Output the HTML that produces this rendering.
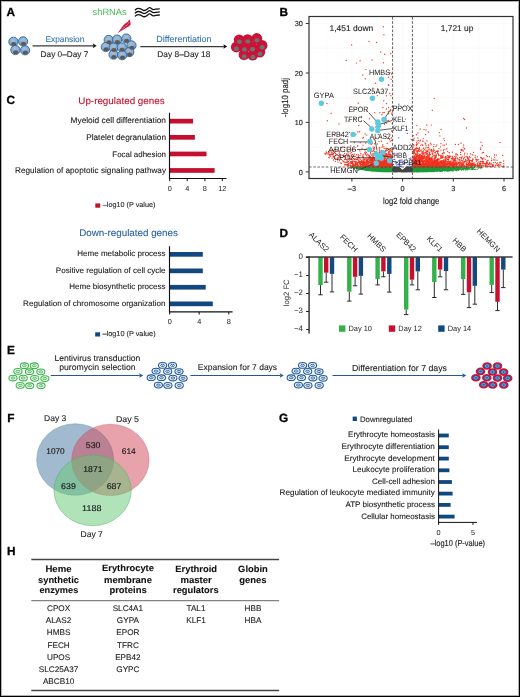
<!DOCTYPE html><html><head><meta charset="utf-8"><style>html,body{margin:0;padding:0;background:#fff;}svg text{font-family:"Liberation Sans", sans-serif;text-rendering:geometricPrecision;}</style></head><body><svg xmlns="http://www.w3.org/2000/svg" width="520" height="697" viewBox="0 0 520 697" style="display:block;will-change:transform"><defs>
<radialGradient id="gb" cx="0.45" cy="0.35" r="0.65">
<stop offset="0" stop-color="#a3c0dd"/><stop offset="1" stop-color="#7aa1c8"/></radialGradient>
</defs><rect x="0" y="0" width="520" height="697" fill="#fff"/>
<text x="6.60" y="15.60" font-size="11.8" fill="#000" stroke="#000" stroke-width="0.3" font-weight="bold">A</text>
<text x="279.60" y="15.60" font-size="11.8" fill="#000" stroke="#000" stroke-width="0.3" font-weight="bold">B</text>
<text x="6.40" y="103.60" font-size="11.8" fill="#000" stroke="#000" stroke-width="0.3" font-weight="bold">C</text>
<text x="279.40" y="237.20" font-size="11.8" fill="#000" stroke="#000" stroke-width="0.3" font-weight="bold">D</text>
<text x="6.90" y="353.90" font-size="11.8" fill="#000" stroke="#000" stroke-width="0.3" font-weight="bold">E</text>
<text x="7.20" y="421.90" font-size="11.8" fill="#000" stroke="#000" stroke-width="0.3" font-weight="bold">F</text>
<text x="279.00" y="421.70" font-size="11.8" fill="#000" stroke="#000" stroke-width="0.3" font-weight="bold">G</text>
<text x="6.90" y="555.30" font-size="11.8" fill="#000" stroke="#000" stroke-width="0.3" font-weight="bold">H</text>
<circle cx="13.4" cy="41.75" r="4.6" fill="url(#gb)" stroke="#356ba2" stroke-width="0.95"/>
<ellipse cx="13.700000000000001" cy="44.05" rx="2.6" ry="2.0" fill="#5f5a58"/>
<circle cx="23.1" cy="41.4" r="4.6" fill="url(#gb)" stroke="#356ba2" stroke-width="0.95"/>
<ellipse cx="23.400000000000002" cy="43.699999999999996" rx="2.6" ry="2.0" fill="#5f5a58"/>
<circle cx="15.4" cy="50.0" r="4.6" fill="url(#gb)" stroke="#356ba2" stroke-width="0.95"/>
<ellipse cx="15.700000000000001" cy="52.3" rx="2.6" ry="2.0" fill="#5f5a58"/>
<circle cx="25.1" cy="50.3" r="4.6" fill="url(#gb)" stroke="#356ba2" stroke-width="0.95"/>
<ellipse cx="25.400000000000002" cy="52.599999999999994" rx="2.6" ry="2.0" fill="#5f5a58"/>
<circle cx="108.7" cy="39.9" r="4.6" fill="url(#gb)" stroke="#356ba2" stroke-width="0.95"/>
<circle cx="117.1" cy="39.6" r="4.6" fill="url(#gb)" stroke="#356ba2" stroke-width="0.95"/>
<circle cx="126.3" cy="38.5" r="4.6" fill="url(#gb)" stroke="#356ba2" stroke-width="0.95"/>
<circle cx="131.5" cy="45.4" r="4.6" fill="url(#gb)" stroke="#356ba2" stroke-width="0.95"/>
<circle cx="105.8" cy="47.0" r="4.6" fill="url(#gb)" stroke="#356ba2" stroke-width="0.95"/>
<circle cx="113.7" cy="47.6" r="4.6" fill="url(#gb)" stroke="#356ba2" stroke-width="0.95"/>
<circle cx="121.8" cy="47.4" r="4.6" fill="url(#gb)" stroke="#356ba2" stroke-width="0.95"/>
<circle cx="129.3" cy="52.1" r="4.6" fill="url(#gb)" stroke="#356ba2" stroke-width="0.95"/>
<circle cx="113.5" cy="54.6" r="4.6" fill="url(#gb)" stroke="#356ba2" stroke-width="0.95"/>
<circle cx="122.2" cy="55.2" r="4.6" fill="url(#gb)" stroke="#356ba2" stroke-width="0.95"/>
<ellipse cx="109.0" cy="42.199999999999996" rx="2.6" ry="2.0" fill="#5f5a58"/>
<ellipse cx="117.39999999999999" cy="41.9" rx="2.6" ry="2.0" fill="#5f5a58"/>
<ellipse cx="126.6" cy="40.8" rx="2.6" ry="2.0" fill="#5f5a58"/>
<ellipse cx="131.8" cy="47.699999999999996" rx="2.6" ry="2.0" fill="#5f5a58"/>
<ellipse cx="106.1" cy="49.3" rx="2.6" ry="2.0" fill="#5f5a58"/>
<ellipse cx="114.0" cy="49.9" rx="2.6" ry="2.0" fill="#5f5a58"/>
<ellipse cx="122.1" cy="49.699999999999996" rx="2.6" ry="2.0" fill="#5f5a58"/>
<ellipse cx="129.60000000000002" cy="54.4" rx="2.6" ry="2.0" fill="#5f5a58"/>
<ellipse cx="113.8" cy="56.9" rx="2.6" ry="2.0" fill="#5f5a58"/>
<ellipse cx="122.5" cy="57.5" rx="2.6" ry="2.0" fill="#5f5a58"/>
<circle cx="239.2" cy="39.9" r="5.4" fill="#cc1236"/>
<circle cx="247.6" cy="39.6" r="5.4" fill="#cc1236"/>
<circle cx="256.8" cy="38.5" r="5.4" fill="#cc1236"/>
<circle cx="262.0" cy="45.4" r="5.4" fill="#cc1236"/>
<circle cx="236.3" cy="47.0" r="5.4" fill="#cc1236"/>
<circle cx="244.2" cy="47.6" r="5.4" fill="#cc1236"/>
<circle cx="252.3" cy="47.4" r="5.4" fill="#cc1236"/>
<circle cx="259.8" cy="52.1" r="5.4" fill="#cc1236"/>
<circle cx="244.0" cy="54.6" r="5.4" fill="#cc1236"/>
<circle cx="252.7" cy="55.2" r="5.4" fill="#cc1236"/>
<ellipse cx="239.4" cy="41.7" rx="2.5" ry="2.2" fill="#6b7474"/>
<ellipse cx="247.8" cy="41.4" rx="2.5" ry="2.2" fill="#6b7474"/>
<ellipse cx="257.0" cy="40.3" rx="2.5" ry="2.2" fill="#6b7474"/>
<ellipse cx="262.2" cy="47.2" rx="2.5" ry="2.2" fill="#6b7474"/>
<ellipse cx="236.5" cy="48.8" rx="2.5" ry="2.2" fill="#6b7474"/>
<ellipse cx="244.4" cy="49.4" rx="2.5" ry="2.2" fill="#6b7474"/>
<ellipse cx="252.5" cy="49.2" rx="2.5" ry="2.2" fill="#6b7474"/>
<ellipse cx="260.0" cy="53.9" rx="2.5" ry="2.2" fill="#6b7474"/>
<ellipse cx="244.2" cy="56.4" rx="2.5" ry="2.2" fill="#6b7474"/>
<ellipse cx="252.9" cy="57.0" rx="2.5" ry="2.2" fill="#6b7474"/>
<line x1="32.6" y1="45.85" x2="93.3" y2="45.85" stroke="#3a3a3a" stroke-width="1.3"/>
<path d="M96.7 45.85 L92.8 43.550000000000004 L93.39999999999999 45.85 L92.8 48.15 Z" fill="#111"/>
<line x1="140.3" y1="46.55" x2="223.9" y2="46.55" stroke="#3a3a3a" stroke-width="1.3"/>
<path d="M227.3 46.55 L223.4 44.25 L224.0 46.55 L223.4 48.849999999999994 Z" fill="#111"/>
<text x="45.40" y="41.90" font-size="8.4" fill="#3b74ad" stroke="#3b74ad" stroke-width="0.1" textLength="39.00" lengthAdjust="spacingAndGlyphs">Expansion</text>
<text x="40.60" y="56.70" font-size="8.32" fill="#222" stroke="#222" stroke-width="0.1" textLength="47.70" lengthAdjust="spacingAndGlyphs">Day 0&#8211;Day 7</text>
<text x="156.30" y="41.90" font-size="8.86" fill="#3b74ad" stroke="#3b74ad" stroke-width="0.1" textLength="55.10" lengthAdjust="spacingAndGlyphs">Differentiation</text>
<text x="157.30" y="56.90" font-size="8.42" fill="#222" stroke="#222" stroke-width="0.1" textLength="53.10" lengthAdjust="spacingAndGlyphs">Day 8&#8211;Day 18</text>
<text x="92.60" y="15.40" font-size="9.22" fill="#45b655" textLength="34.00" lengthAdjust="spacingAndGlyphs">shRNAs</text>
<path d="M134.9 10.3 C136.8 7.5 140.2 8.1 142.6 10.0 S147.2 9.0 149 7.8 S151.6 9.9 153.8 9.6 S157.6 8.7 159.8 8.8" fill="none" stroke="#111" stroke-width="1.3"/>
<path d="M134.9 13.4 C136.8 10.6 140.2 11.2 142.6 13.1 S147.2 12.1 149 10.9 S151.6 13.0 153.8 12.7 S157.6 11.8 159.8 11.9" fill="none" stroke="#111" stroke-width="1.3"/>
<path d="M134.9 16.5 C136.8 13.7 140.2 14.3 142.6 16.2 S147.2 15.2 149 14.0 S151.6 16.1 153.8 15.8 S157.6 14.9 159.8 15.0" fill="none" stroke="#111" stroke-width="1.3"/>
<path d="M117.5 33.2 L119.8 30.2 L122.3 26.8 L123.6 25.0 L125.5 23.2 L127.3 22.2 L129.5 19.5 L130.4 21.8 L130.6 24.8 L128.6 26.5 L126.7 27.6 L124.8 28.8 L121.7 30.4 Z" fill="#d11a40"/>
<path d="M122.6 29.0 L125.2 26.6 M125.6 26.0 L127.8 24.6 M127.9 23.6 L129.5 22.2" stroke="#f3a5b5" stroke-width="0.7" fill="none"/>
<line x1="326.6" y1="16.5" x2="326.6" y2="178.5" stroke="#f7f7f7" stroke-width="0.6"/>
<line x1="351.9" y1="16.5" x2="351.9" y2="178.5" stroke="#f7f7f7" stroke-width="0.6"/>
<line x1="377.2" y1="16.5" x2="377.2" y2="178.5" stroke="#f7f7f7" stroke-width="0.6"/>
<line x1="402.6" y1="16.5" x2="402.6" y2="178.5" stroke="#f7f7f7" stroke-width="0.6"/>
<line x1="428.0" y1="16.5" x2="428.0" y2="178.5" stroke="#f7f7f7" stroke-width="0.6"/>
<line x1="453.3" y1="16.5" x2="453.3" y2="178.5" stroke="#f7f7f7" stroke-width="0.6"/>
<line x1="478.7" y1="16.5" x2="478.7" y2="178.5" stroke="#f7f7f7" stroke-width="0.6"/>
<line x1="504.0" y1="16.5" x2="504.0" y2="178.5" stroke="#f7f7f7" stroke-width="0.6"/>
<line x1="309" y1="171.9" x2="513" y2="171.9" stroke="#f7f7f7" stroke-width="0.6"/>
<line x1="309" y1="147.2" x2="513" y2="147.2" stroke="#f7f7f7" stroke-width="0.6"/>
<line x1="309" y1="122.4" x2="513" y2="122.4" stroke="#f7f7f7" stroke-width="0.6"/>
<line x1="309" y1="97.7" x2="513" y2="97.7" stroke="#f7f7f7" stroke-width="0.6"/>
<line x1="309" y1="73.0" x2="513" y2="73.0" stroke="#f7f7f7" stroke-width="0.6"/>
<line x1="309" y1="48.2" x2="513" y2="48.2" stroke="#f7f7f7" stroke-width="0.6"/>
<line x1="309" y1="23.5" x2="513" y2="23.5" stroke="#f7f7f7" stroke-width="0.6"/>
<path d="M393.4 168.0h0M411.8 169.7h0M408.7 171.1h0M407.1 171.9h0M396.5 170.9h0M404.0 170.0h0M406.7 169.5h0M399.1 171.7h0M397.2 167.4h0M401.6 171.2h0M402.1 170.4h0M407.6 168.8h0M401.2 171.8h0M398.2 168.3h0M406.4 170.0h0M401.2 171.5h0M405.5 171.8h0M410.8 169.6h0M410.3 167.1h0M410.4 169.9h0M395.4 167.5h0M408.5 168.4h0M395.5 168.0h0M396.8 170.1h0M397.0 171.6h0M405.3 168.4h0M404.4 169.0h0M403.5 171.9h0M407.2 167.0h0M400.2 169.2h0M401.7 171.6h0M401.5 170.8h0M402.0 170.2h0M407.2 170.5h0M411.2 171.9h0M400.4 170.0h0M407.1 171.3h0M410.8 171.5h0M398.5 169.5h0M403.9 171.5h0M398.8 171.1h0M395.7 170.4h0M410.4 169.2h0M401.3 169.9h0M397.4 169.9h0M399.8 169.0h0M400.5 171.8h0M408.7 169.7h0M395.4 170.6h0M394.5 167.9h0M400.3 169.9h0M409.7 169.5h0M396.0 167.1h0M407.2 170.3h0M393.5 168.4h0M409.2 170.3h0M392.9 168.3h0M404.7 170.7h0M412.5 170.2h0M406.5 170.9h0M404.8 170.5h0M410.6 170.5h0M408.2 168.9h0M403.3 170.9h0M406.1 168.8h0M397.5 170.5h0M403.6 170.3h0M399.3 168.8h0M394.0 167.2h0M397.2 167.2h0M397.6 167.9h0M407.3 170.3h0M404.4 169.5h0M394.6 169.3h0M409.5 171.5h0M410.6 171.6h0M401.2 169.9h0M401.1 171.5h0M408.3 171.4h0M410.9 169.4h0M398.0 168.5h0M394.0 170.3h0M409.3 171.0h0M405.0 170.7h0M403.0 171.5h0M411.1 170.9h0M403.5 170.5h0M408.5 168.1h0M399.8 168.4h0M394.7 167.0h0M398.3 171.6h0M395.1 168.9h0M398.2 167.4h0M409.8 170.5h0M411.2 169.0h0M400.7 171.0h0M411.4 170.5h0M397.7 171.5h0M395.3 167.3h0M405.3 169.2h0M402.0 170.7h0M405.7 168.4h0M404.1 171.2h0M395.8 167.5h0M406.6 171.0h0M408.4 170.0h0M409.1 170.8h0M395.5 171.9h0M395.6 170.0h0M396.6 170.6h0M399.7 169.7h0M411.7 168.5h0M399.9 169.6h0M407.2 167.4h0M404.6 171.0h0M394.4 168.3h0M395.0 169.4h0M409.4 170.7h0M411.2 171.4h0M398.0 167.5h0M403.9 171.5h0M406.7 168.6h0M409.4 167.7h0M400.2 170.5h0M404.9 169.2h0M411.2 169.3h0M401.7 171.8h0M396.5 170.5h0M404.5 170.5h0M392.8 168.3h0M394.2 171.5h0M393.4 168.2h0M395.6 169.4h0M394.4 167.4h0M397.3 168.0h0M400.1 168.6h0M403.3 170.0h0M394.7 167.6h0M407.0 171.1h0M412.1 167.2h0M401.9 170.5h0M407.0 167.6h0M398.7 168.9h0M405.0 169.7h0M405.9 168.6h0M393.7 167.0h0M406.7 169.8h0M393.6 169.5h0M395.4 170.4h0M406.6 170.5h0M405.4 171.4h0M394.5 168.1h0M411.9 171.7h0M397.6 169.2h0M396.4 170.6h0M407.3 167.4h0M396.7 167.0h0M409.0 167.4h0M408.4 169.6h0M394.5 168.1h0M407.4 170.9h0M407.2 170.2h0M405.0 170.5h0M395.6 171.3h0M404.1 171.4h0M404.7 171.0h0M403.5 171.0h0M403.4 170.0h0M405.5 171.7h0M409.4 167.6h0M404.6 171.5h0M400.4 169.0h0M411.4 170.2h0M411.9 170.3h0M405.5 170.0h0M405.8 170.5h0M397.7 167.3h0M396.0 171.8h0M394.0 171.4h0M408.7 167.7h0M411.5 169.9h0M408.6 168.1h0M394.1 171.9h0M400.5 169.1h0M411.5 168.4h0M393.3 167.4h0M394.1 170.7h0M410.2 168.2h0M407.1 167.6h0M406.4 169.1h0M404.3 171.1h0M409.4 170.4h0M394.9 167.3h0M397.7 170.3h0M401.5 171.3h0M409.6 169.7h0M397.2 170.5h0M405.2 171.5h0M410.8 167.0h0M406.7 171.3h0M406.3 171.3h0M399.3 171.0h0M405.9 169.4h0M398.6 171.1h0M393.7 168.5h0M411.4 167.9h0M411.4 170.9h0M396.1 169.7h0M396.8 167.3h0M411.4 167.9h0M401.8 169.8h0M406.9 167.1h0M399.9 170.0h0M393.6 171.3h0M396.4 171.7h0M411.5 167.6h0M399.4 167.8h0M394.0 168.7h0M393.8 167.6h0M405.1 169.1h0M405.6 170.7h0M394.8 168.1h0M402.4 171.3h0M410.0 171.0h0M393.4 170.4h0M398.4 168.7h0M400.8 171.1h0M403.9 169.3h0M405.2 169.4h0M398.3 171.7h0M404.2 171.6h0M400.4 168.5h0M408.5 169.2h0M403.0 170.4h0M409.8 167.4h0M402.3 171.4h0M411.9 169.4h0M396.7 171.2h0M399.2 170.5h0M398.9 169.9h0M409.8 167.4h0M400.4 171.5h0M403.2 170.9h0M407.6 169.4h0M405.0 171.4h0M399.2 167.5h0M399.3 168.1h0M399.3 170.3h0M396.9 167.5h0M402.6 170.4h0M402.2 170.7h0M405.5 169.9h0M411.6 170.3h0M395.4 169.6h0M403.1 170.7h0M411.8 171.7h0M402.5 171.6h0M394.4 167.3h0M400.6 168.9h0M405.8 170.1h0M399.6 168.2h0M402.7 171.5h0M401.4 170.8h0M405.1 170.1h0M405.6 169.7h0M400.2 170.0h0M401.8 170.0h0M400.8 169.7h0M392.9 170.7h0M399.4 171.0h0M407.5 168.3h0M399.6 168.3h0M403.8 171.7h0M407.9 171.1h0M406.8 168.7h0M409.0 168.3h0M401.2 171.7h0M404.7 169.6h0M408.8 170.0h0M402.9 170.7h0M411.8 168.1h0M396.5 170.4h0M403.6 170.6h0M405.4 169.5h0M406.4 168.6h0M408.5 171.4h0M395.9 169.9h0M404.0 169.8h0M396.5 169.8h0M396.9 169.3h0M403.9 169.3h0M403.4 170.2h0M411.7 170.5h0M400.3 169.2h0M412.2 168.7h0M394.5 168.7h0M407.7 171.6h0M412.4 171.8h0M393.9 167.4h0M402.0 170.7h0M409.5 170.4h0M393.4 167.8h0M402.2 171.0h0M408.1 169.0h0M405.8 169.9h0M395.1 170.9h0M409.8 168.3h0M392.8 168.2h0M405.7 170.1h0M401.9 171.2h0M407.4 168.9h0M412.5 169.2h0M403.3 170.7h0M398.6 167.2h0M406.9 170.0h0M402.1 170.0h0M392.7 170.5h0M405.1 168.8h0M406.1 169.1h0M393.2 167.7h0M406.5 170.4h0M394.6 167.0h0M402.0 171.2h0M412.3 171.5h0M408.5 168.0h0M410.3 169.0h0M408.2 171.6h0M392.7 170.8h0M412.0 170.3h0M398.3 170.7h0M395.1 170.9h0M402.0 170.0h0M410.8 169.0h0M409.8 171.0h0M406.9 169.3h0M394.8 170.5h0M402.3 170.8h0M400.9 169.7h0M410.4 170.6h0M394.9 170.7h0M395.0 169.1h0M401.5 169.7h0M403.5 171.6h0M405.1 170.3h0M404.4 169.3h0M393.7 168.9h0M411.2 170.5h0M411.5 171.0h0M398.9 169.4h0M407.3 170.6h0M393.9 171.7h0M411.7 168.6h0M401.2 169.7h0M404.4 168.9h0M399.4 169.3h0M408.1 169.2h0M407.9 169.7h0M401.4 171.1h0M402.5 171.2h0M406.7 169.0h0M396.1 167.4h0M394.9 171.6h0M406.1 167.7h0M410.5 170.4h0M403.4 170.2h0M402.9 170.4h0M398.3 167.0h0M394.4 170.1h0M395.6 171.4h0M411.6 171.5h0M401.3 169.6h0M393.5 167.5h0M401.9 170.4h0M397.2 169.5h0M404.2 171.8h0M396.6 169.3h0M401.6 169.9h0M396.9 170.0h0M394.8 170.7h0M408.5 167.2h0M394.1 167.4h0M401.9 170.8h0M392.8 169.4h0M409.3 171.9h0M402.6 171.3h0M401.5 170.8h0M402.5 171.6h0M396.3 169.5h0M395.1 169.2h0M407.3 169.0h0M411.6 168.2h0M394.5 168.2h0M407.3 170.9h0M411.2 170.4h0M412.3 168.5h0M393.2 168.4h0M396.2 170.0h0M397.2 170.5h0M408.2 167.4h0M394.5 169.3h0M404.0 170.1h0M406.8 170.8h0M403.6 169.6h0M405.9 171.3h0M396.4 167.0h0M408.9 167.8h0M410.0 167.0h0M397.4 168.2h0M409.1 170.6h0M402.8 170.8h0M407.9 167.0h0M412.1 168.2h0M396.6 170.5h0M400.5 171.3h0M409.7 167.8h0M412.4 171.2h0M400.9 169.7h0M402.2 171.3h0M395.8 170.0h0M408.4 169.6h0M406.7 168.0h0M411.5 170.6h0M404.1 169.3h0M409.0 167.4h0M406.8 169.9h0M412.4 170.1h0M403.9 171.0h0M399.2 171.1h0M409.0 170.4h0M399.8 171.6h0M396.8 168.1h0M400.4 169.1h0M398.4 169.4h0M403.1 170.4h0M408.7 170.1h0M399.7 168.0h0M406.2 171.6h0M407.3 168.9h0M396.4 168.3h0M404.2 169.6h0M399.2 171.8h0M398.5 168.6h0M398.1 169.7h0M403.0 171.2h0M394.1 171.0h0M401.8 171.5h0M394.2 168.1h0M398.0 171.2h0M402.7 171.9h0M403.3 170.9h0M399.4 168.5h0M405.2 169.6h0M404.6 171.9h0M409.6 167.4h0M410.0 169.7h0M399.5 169.5h0M397.2 168.5h0M402.9 171.3h0M411.6 168.0h0M398.1 167.1h0M395.7 169.7h0M392.7 169.5h0M394.3 170.9h0M395.0 171.2h0M411.2 171.4h0M393.1 168.4h0M393.0 167.8h0M401.9 170.6h0M402.8 171.7h0M404.7 170.6h0M400.2 170.1h0M407.6 168.4h0M406.7 171.2h0M396.3 169.1h0M395.3 167.6h0M397.7 168.2h0M404.6 170.8h0M406.4 169.8h0M411.2 170.9h0M393.3 170.6h0M408.3 168.8h0M407.4 171.2h0M393.0 171.4h0M392.9 170.1h0M399.6 171.4h0M399.8 170.0h0M396.5 167.9h0M402.4 171.9h0M399.8 169.9h0M406.7 171.8h0M398.5 167.3h0M399.9 169.6h0M400.3 171.0h0M395.0 167.7h0M396.5 171.5h0M407.7 169.4h0M404.3 170.9h0M406.0 171.2h0M407.4 169.5h0M412.4 168.9h0M409.2 169.6h0M400.9 169.1h0M394.8 168.0h0M393.2 167.5h0M402.2 171.4h0M403.6 169.8h0M410.1 171.2h0M412.1 168.7h0M393.5 170.9h0M407.8 170.6h0M411.6 170.9h0M407.6 167.0h0M393.6 167.1h0M404.6 169.3h0M407.2 169.8h0M397.1 171.4h0M406.7 171.0h0M412.2 170.0h0M398.1 167.2h0M402.7 171.6h0M403.5 171.2h0M410.3 171.0h0M399.5 171.7h0M401.9 170.2h0M409.5 169.8h0M407.6 170.3h0M399.6 168.1h0M412.0 171.4h0M411.0 168.9h0M408.7 168.4h0M411.5 169.0h0M410.5 170.2h0M405.9 171.2h0M410.1 168.1h0M399.6 168.2h0M410.1 170.5h0M400.9 170.8h0M409.9 170.0h0M410.3 168.1h0M400.9 170.0h0M407.8 171.4h0M395.9 168.3h0M401.0 169.2h0M402.5 171.5h0M406.2 169.6h0M411.4 168.5h0M400.5 169.4h0M399.3 171.0h0M408.3 170.4h0M401.8 170.6h0M405.5 170.2h0M409.7 167.2h0M409.7 169.4h0M405.9 169.7h0M411.5 168.7h0M411.8 168.4h0M411.5 170.4h0M410.7 169.1h0M399.6 168.5h0M401.2 169.7h0M409.5 169.9h0M402.3 171.0h0M399.9 168.5h0M404.1 170.4h0M401.7 171.4h0M407.4 170.4h0M400.8 170.3h0M404.8 171.8h0M402.7 171.1h0M405.1 168.9h0M411.0 168.9h0M402.4 170.3h0M404.3 171.6h0M403.2 171.2h0M410.2 169.7h0M407.1 170.8h0M401.3 171.7h0M393.3 171.3h0M395.7 168.6h0M402.7 171.0h0M393.3 170.7h0M395.4 167.5h0M410.5 168.0h0M393.7 167.0h0M411.1 171.2h0M392.9 167.2h0M399.1 168.4h0M395.1 170.0h0M403.8 170.8h0M404.7 168.6h0M399.0 169.9h0M397.6 171.2h0M408.2 171.7h0M408.2 169.6h0M395.8 170.3h0M410.6 171.7h0M402.4 170.3h0M397.4 169.2h0M407.2 170.8h0M396.7 171.9h0M395.0 168.6h0M408.1 171.4h0M393.0 168.9h0M405.4 171.0h0M396.5 171.0h0M409.1 168.3h0M410.1 171.4h0M404.1 171.7h0M410.8 168.3h0M397.4 168.5h0M409.5 171.1h0M412.4 169.8h0M408.8 171.8h0M407.4 170.9h0M392.9 170.7h0M392.9 168.7h0M405.0 170.6h0M406.5 169.3h0M401.2 171.8h0M408.7 167.0h0M395.2 171.7h0M405.6 168.7h0M396.6 171.8h0M404.0 169.2h0M400.8 170.2h0M399.7 169.0h0M393.7 167.3h0M409.7 167.2h0M401.9 171.5h0M411.7 171.4h0M405.3 170.9h0M411.5 168.8h0M399.9 168.5h0M407.7 169.2h0M395.8 171.2h0M401.6 170.3h0M409.8 167.0h0M395.8 171.4h0M408.6 168.7h0M408.5 169.7h0M401.3 170.4h0M395.5 168.4h0M408.2 170.1h0M401.4 169.4h0M396.3 171.2h0M411.1 171.6h0M398.1 167.8h0M410.1 167.3h0M400.7 169.8h0M394.3 168.2h0M393.0 168.0h0M398.1 168.3h0M412.4 168.5h0M409.5 170.0h0M407.8 170.5h0M396.9 168.1h0M399.9 169.6h0M401.6 171.7h0M398.1 168.1h0M405.7 168.6h0M406.1 169.2h0M393.0 168.2h0M396.8 168.4h0M395.5 170.6h0M399.8 170.4h0M393.4 168.2h0M403.1 171.7h0M412.1 168.6h0M392.9 167.5h0M412.1 171.4h0M405.2 170.7h0M398.5 170.6h0M408.1 171.8h0M403.1 171.8h0M395.2 167.0h0M400.0 170.8h0M397.1 169.8h0M392.9 169.5h0M406.6 170.8h0M407.8 169.6h0M406.5 171.3h0M405.5 169.5h0M392.9 169.1h0M393.8 169.5h0M410.1 168.3h0M409.3 169.0h0M397.4 169.2h0M397.6 167.6h0M402.6 171.1h0M401.6 171.3h0M398.3 169.3h0M408.5 171.3h0M406.0 169.3h0M393.8 168.5h0M401.6 170.1h0M397.2 170.6h0M399.6 170.5h0M404.3 171.7h0M408.9 170.6h0M399.5 170.3h0M411.9 167.1h0M406.0 168.4h0M398.7 171.8h0M395.7 171.7h0M412.1 169.1h0M405.7 167.8h0M407.9 169.9h0M397.2 170.1h0M410.5 169.7h0M396.7 168.3h0M395.9 168.8h0M394.9 167.7h0M394.9 170.3h0M405.1 168.6h0M410.9 168.4h0M395.3 171.5h0M399.2 168.7h0M411.8 167.6h0M397.4 167.0h0M396.2 168.3h0M401.4 170.8h0M408.3 169.1h0M403.7 169.8h0M405.3 168.5h0M398.9 168.5h0M396.4 167.8h0M400.2 168.9h0M408.5 167.6h0M403.6 171.2h0M395.7 171.6h0M404.0 171.0h0M401.2 171.4h0M397.7 168.4h0M410.8 171.4h0M396.9 167.6h0M404.6 171.3h0M411.6 167.2h0M407.5 167.2h0M396.1 168.3h0M395.1 167.5h0M409.6 168.5h0M397.2 168.7h0M401.0 169.4h0M398.6 170.6h0M410.6 171.3h0M398.8 168.5h0M409.0 168.6h0M409.8 171.2h0M408.3 167.5h0M404.0 169.3h0M399.6 170.2h0M409.8 170.9h0M401.7 170.2h0M402.0 170.6h0M395.3 168.5h0M395.3 170.8h0M400.0 169.7h0M399.6 168.5h0M400.8 169.4h0M402.4 171.1h0M395.1 167.2h0M396.6 170.3h0M404.3 171.4h0M397.4 167.1h0M412.2 170.0h0M408.5 171.2h0M408.9 169.7h0M402.5 170.3h0M407.7 170.4h0M408.2 170.8h0M392.9 170.0h0M405.4 169.0h0M410.3 171.8h0M402.1 170.4h0M405.7 171.6h0M398.8 169.7h0M408.3 168.2h0M410.7 168.2h0M403.7 170.3h0M401.2 171.3h0M410.3 169.5h0M408.6 167.1h0M408.9 171.4h0M403.5 169.9h0M395.2 168.9h0M399.4 168.8h0M407.0 170.9h0M395.5 171.4h0M408.5 171.2h0M399.8 170.3h0M394.3 167.8h0M405.0 168.5h0M401.7 170.3h0M402.3 170.8h0M411.6 167.7h0M394.5 170.8h0M400.2 171.5h0M396.7 169.8h0M409.5 170.4h0M394.9 168.4h0M405.3 169.9h0M395.8 169.3h0M404.5 170.1h0M409.3 168.9h0M407.8 170.0h0M396.2 169.5h0M398.9 171.0h0M406.3 170.8h0M406.2 169.6h0M405.6 171.1h0M393.5 171.8h0M406.5 167.0h0M394.5 169.4h0M404.1 170.6h0M411.9 168.0h0M393.3 170.7h0M405.2 168.3h0M406.4 171.7h0M410.4 170.4h0M407.9 169.7h0M399.4 171.5h0M392.9 168.0h0M398.0 171.7h0M393.4 169.3h0M392.8 169.4h0M407.5 168.2h0M411.4 168.9h0M405.6 168.0h0M399.3 167.9h0M394.1 168.7h0M398.3 168.9h0M409.9 170.8h0M397.1 168.4h0M405.7 168.5h0M405.4 170.8h0M410.9 168.8h0M410.9 169.8h0M405.8 167.7h0M394.4 168.0h0M411.2 171.8h0M394.4 167.1h0M407.9 169.0h0M394.1 168.7h0M395.0 167.1h0M393.9 170.9h0M411.1 167.5h0M395.1 171.0h0M404.4 169.4h0M407.4 169.0h0M405.8 170.7h0M409.9 168.0h0M404.9 169.6h0M393.4 171.0h0M409.6 169.1h0M396.6 171.0h0M409.1 169.9h0M395.9 167.1h0M409.5 168.4h0M405.0 171.9h0M410.3 167.2h0M407.2 168.1h0M411.1 170.4h0M403.9 170.9h0M398.3 171.8h0M393.5 170.6h0M402.8 170.7h0M399.1 168.3h0M400.3 168.8h0M404.1 171.0h0M409.3 168.3h0M393.7 169.2h0M405.6 171.8h0M405.9 170.7h0M397.5 169.7h0M402.4 171.0h0M401.3 170.0h0M407.2 168.8h0M406.3 167.9h0M400.3 170.4h0M393.3 168.0h0M396.1 169.7h0M405.6 170.8h0M395.5 167.1h0M393.1 170.7h0M402.6 170.4h0M408.5 168.5h0M408.8 168.0h0M411.3 169.4h0M393.4 170.8h0M398.6 169.3h0M397.9 170.3h0M408.9 170.3h0M399.3 171.0h0M393.1 167.0h0M399.4 167.7h0M407.4 170.7h0M411.2 171.2h0M398.7 169.5h0M403.8 170.1h0M408.6 168.9h0M393.8 169.5h0M403.9 171.2h0M401.4 171.8h0M402.8 170.4h0M402.1 171.0h0M401.7 171.7h0M398.8 171.7h0M403.1 170.2h0M412.1 168.8h0M405.4 170.4h0M396.6 169.8h0M398.9 171.2h0M411.1 167.5h0M394.9 171.3h0M409.2 168.8h0M393.4 170.9h0M398.8 167.4h0M401.7 169.8h0M397.4 168.0h0M401.4 171.5h0M397.4 169.2h0M393.0 169.4h0M411.1 168.7h0M394.7 171.8h0M405.6 168.0h0M394.5 168.2h0M410.9 170.8h0M394.0 170.1h0M397.0 169.3h0M400.0 171.3h0M394.3 169.0h0M396.9 167.1h0M409.8 167.1h0M394.7 170.1h0M409.2 169.3h0M411.2 169.3h0M404.4 171.3h0M393.6 167.6h0M395.3 168.6h0M404.5 170.7h0M401.4 171.6h0M399.0 167.9h0M394.6 170.4h0M394.0 171.6h0M403.6 171.5h0M403.8 171.9h0M410.2 168.9h0M407.1 169.7h0M400.6 169.4h0M410.9 169.4h0M410.8 167.2h0M408.8 170.4h0M394.8 169.1h0M395.6 170.3h0M394.5 169.9h0M399.2 169.3h0M397.1 171.7h0M408.9 170.2h0M408.9 168.4h0M403.2 170.7h0M410.6 171.2h0M401.9 170.7h0M394.9 167.9h0M401.2 170.4h0M406.5 170.9h0M396.6 168.5h0M402.6 171.1h0M412.3 171.0h0M399.7 170.6h0M408.5 171.3h0M409.2 169.0h0M394.7 169.8h0M396.6 169.7h0M408.3 169.2h0M408.3 167.4h0M401.7 170.7h0M397.8 171.0h0M392.9 169.7h0M411.8 171.4h0M411.6 167.2h0M409.7 170.4h0M403.4 171.7h0M408.5 168.0h0M399.8 169.3h0M399.7 170.5h0M405.7 170.3h0M405.6 168.4h0M393.8 167.4h0M407.8 171.5h0M409.9 171.7h0M403.1 171.0h0M396.7 170.8h0M399.3 170.0h0M393.8 170.8h0M393.6 167.8h0M403.9 171.6h0M408.2 167.6h0M395.2 169.8h0M394.1 167.1h0M409.9 169.4h0M401.0 169.1h0M395.2 170.9h0M402.0 170.7h0M408.2 171.4h0M402.5 171.0h0M404.3 170.9h0M401.6 171.9h0M398.2 169.4h0M405.0 171.8h0M405.1 170.3h0M405.8 169.9h0M393.4 168.9h0M401.9 171.9h0M405.6 168.6h0M411.1 167.1h0M405.5 168.7h0M400.7 169.0h0M404.5 169.4h0M407.1 167.0h0M402.5 171.2h0M395.1 167.5h0M405.8 168.3h0M401.5 170.0h0M393.2 169.9h0M405.3 169.0h0M395.7 168.7h0M403.9 169.8h0M411.3 167.3h0M398.6 168.5h0M400.4 168.9h0M412.4 168.0h0M400.0 169.2h0M397.2 168.8h0M397.7 170.0h0M402.4 171.4h0M396.6 171.0h0M405.8 170.4h0M398.5 167.2h0M407.2 168.0h0M409.8 170.1h0M397.3 167.7h0M400.2 170.8h0M396.0 171.8h0M405.4 169.7h0M403.0 170.6h0M395.1 170.6h0M392.7 170.9h0M404.5 169.9h0M400.4 169.7h0M406.0 168.4h0M403.4 171.9h0M402.8 170.7h0M398.6 169.5h0M401.4 170.9h0M412.3 171.7h0M404.6 171.0h0M406.5 171.3h0M411.2 168.0h0M399.7 169.8h0M405.2 169.2h0M400.0 169.6h0M396.2 169.3h0M405.8 170.6h0M403.9 169.6h0M406.4 168.9h0M400.1 171.7h0M400.5 171.4h0M405.9 169.0h0M405.2 170.4h0M402.2 170.5h0M400.7 169.6h0M399.5 168.5h0M399.8 170.1h0M410.1 167.6h0M393.4 171.7h0M399.4 169.2h0M397.2 167.8h0M394.1 170.7h0M409.5 170.9h0M404.3 170.8h0M408.4 168.7h0M400.8 170.5h0M394.1 170.0h0M400.2 170.9h0M406.7 170.8h0M397.1 167.5h0M407.0 171.4h0M403.9 169.5h0M409.4 169.5h0M402.7 170.5h0M397.2 169.0h0M411.8 167.4h0M406.8 170.0h0M396.8 170.0h0M396.9 168.8h0M410.7 171.8h0M405.2 170.9h0M394.6 169.4h0M410.0 170.1h0M411.6 167.8h0M405.4 169.2h0M405.3 169.7h0M402.7 171.5h0M409.7 167.5h0M400.4 170.1h0M401.4 170.4h0M399.5 169.1h0M407.5 171.2h0M403.7 169.8h0M406.4 167.1h0M396.8 168.6h0M402.1 170.4h0M398.6 168.1h0M406.2 171.9h0M397.2 169.0h0M397.0 170.1h0M393.0 168.0h0M397.4 167.8h0M409.3 169.8h0M397.7 170.2h0M406.4 169.5h0M396.8 171.3h0M396.0 168.3h0M392.7 169.0h0M402.0 171.4h0M402.9 171.5h0M411.6 169.1h0M402.6 170.8h0M400.9 169.1h0M408.7 171.3h0M400.6 168.8h0M399.9 168.1h0M395.5 168.0h0M399.5 169.3h0M409.7 168.4h0M399.4 169.1h0M406.4 171.7h0M397.9 167.7h0M408.9 171.5h0M397.5 171.4h0M398.1 168.6h0M407.3 170.2h0M397.3 170.9h0M407.0 169.4h0M393.6 171.5h0M408.7 169.9h0M402.5 170.4h0M408.9 171.8h0M395.0 171.4h0M409.4 170.1h0M396.4 167.2h0M405.1 171.6h0M394.9 171.2h0M402.8 171.2h0M403.6 169.8h0M392.7 168.4h0M393.3 169.2h0M408.9 169.7h0M407.0 169.0h0M399.5 169.2h0M411.1 167.7h0M404.6 170.2h0M397.3 168.5h0M408.4 168.2h0M409.7 171.5h0M404.0 171.0h0M405.1 170.1h0M404.7 170.8h0M412.2 168.4h0M397.5 171.0h0M412.4 167.2h0M406.2 169.8h0M412.5 171.1h0M403.8 169.7h0M408.3 167.8h0M393.1 167.7h0M403.0 170.7h0M397.3 169.5h0M394.0 169.3h0M404.8 168.9h0M405.0 171.9h0M395.4 171.3h0M405.6 171.1h0M396.0 169.6h0M399.8 169.9h0M397.6 169.6h0M403.5 171.3h0M396.9 171.5h0M393.3 171.3h0M395.2 167.1h0M408.4 171.1h0M402.8 170.3h0M407.1 171.7h0M404.7 168.8h0M410.1 170.6h0M409.8 169.4h0M405.6 171.3h0M405.9 170.2h0M393.9 169.1h0M401.1 170.9h0M395.7 170.0h0M396.6 168.9h0M411.8 168.3h0M412.1 171.0h0M395.7 167.4h0M397.4 170.0h0M411.0 169.4h0M393.2 167.8h0M400.8 169.4h0M403.1 171.9h0M396.9 170.6h0M399.8 171.6h0M402.3 170.4h0M412.0 171.3h0M401.0 171.4h0M395.1 169.9h0M399.1 171.5h0M395.8 170.0h0M399.4 171.6h0M395.1 170.0h0M408.6 170.2h0M393.8 169.6h0M407.9 168.4h0M393.1 167.2h0M403.6 171.5h0M410.6 168.3h0M400.8 170.4h0M404.4 171.3h0M394.3 167.5h0M396.7 167.4h0M398.1 168.9h0M406.0 168.4h0M411.3 169.1h0M400.1 171.0h0M397.5 170.0h0M402.8 171.9h0M396.0 168.3h0M403.5 169.9h0M398.2 167.6h0M411.1 170.0h0M411.7 167.1h0M397.6 171.8h0M397.2 168.0h0M399.7 169.8h0M405.4 171.0h0M396.6 168.3h0M410.5 167.8h0M400.5 171.4h0M407.2 167.9h0M406.6 170.7h0M412.4 171.4h0M393.6 169.0h0M409.7 167.8h0M402.8 171.5h0M405.9 168.0h0M408.2 169.8h0M398.3 171.6h0M399.2 168.0h0M410.3 167.8h0M411.0 169.6h0M409.0 167.1h0M410.9 171.7h0M411.8 169.8h0M400.4 169.9h0M406.6 171.4h0M398.9 169.4h0M397.2 170.6h0M393.7 170.1h0M407.8 167.5h0M409.7 169.2h0M401.9 170.5h0M395.8 168.6h0M401.1 170.8h0M405.1 170.6h0M396.6 171.5h0M400.2 171.1h0M412.2 170.1h0M411.0 171.1h0M393.4 171.0h0M400.6 169.4h0M405.8 170.1h0M399.9 168.1h0M398.7 167.3h0M404.8 170.5h0M400.8 169.1h0M409.8 168.4h0M412.3 167.2h0M401.4 171.4h0M405.0 171.7h0M402.7 171.4h0M398.7 169.8h0M406.6 171.2h0M393.7 170.1h0M398.2 169.6h0M405.1 169.0h0M398.7 171.8h0M406.8 169.3h0M392.8 167.4h0M401.6 170.5h0M408.7 168.1h0M412.2 167.6h0M402.7 171.0h0M412.2 167.0h0M394.6 171.8h0M401.5 171.2h0M407.7 170.4h0M396.1 167.6h0M402.1 171.7h0M408.2 169.6h0M397.6 168.2h0M395.1 169.8h0M406.0 169.7h0M402.3 170.3h0M402.3 171.2h0M412.2 168.8h0M408.9 171.8h0M403.0 171.7h0M401.3 170.1h0M400.2 171.5h0M396.0 171.2h0M409.8 169.1h0M397.6 168.9h0M397.3 171.1h0M411.7 170.7h0M409.5 168.9h0M408.8 171.2h0M409.2 168.2h0M408.7 170.6h0M411.8 171.2h0M395.1 171.3h0M412.1 167.3h0M400.2 171.3h0M401.1 170.5h0M410.2 167.6h0M408.6 169.0h0M393.9 169.2h0M410.7 169.9h0M411.9 168.7h0M407.1 171.2h0M410.1 168.9h0M408.6 168.2h0M411.0 168.9h0M411.5 171.9h0M393.3 168.6h0M411.3 168.9h0M411.8 168.4h0M401.7 169.8h0M401.3 171.2h0M400.9 170.5h0M404.2 171.7h0M406.2 171.8h0M405.0 170.0h0M401.2 170.1h0M398.6 169.3h0M397.8 171.7h0M398.0 169.9h0M397.0 169.5h0M398.2 171.7h0M412.2 171.0h0M392.9 168.2h0M406.6 168.4h0M402.6 171.6h0M395.2 168.7h0M403.7 170.0h0M394.5 168.9h0M400.3 171.2h0M404.7 169.2h0M410.3 167.3h0M412.4 169.5h0M402.4 171.8h0M400.0 168.8h0M393.8 170.0h0M397.9 170.4h0M396.9 169.0h0M408.6 168.8h0M403.2 170.5h0M402.2 171.1h0M401.4 171.6h0M394.9 167.2h0M401.2 169.4h0M396.2 167.8h0M410.2 168.1h0M411.1 170.2h0M403.2 171.2h0M398.6 169.6h0M397.0 169.6h0M406.0 171.2h0M407.4 167.4h0M398.7 168.8h0M405.0 170.3h0M405.5 170.9h0M401.1 170.0h0M400.5 168.6h0M395.2 168.5h0M396.5 170.9h0M406.0 169.1h0M401.0 171.5h0M410.0 168.1h0M411.3 168.6h0M411.6 167.5h0M397.5 171.0h0M406.7 167.6h0M402.2 171.3h0M397.9 171.4h0M400.5 169.5h0M406.0 170.1h0M412.0 168.0h0M406.3 170.0h0M406.5 169.7h0M394.9 168.7h0M404.7 171.4h0M403.1 171.7h0M408.8 167.4h0M394.0 169.3h0M401.0 170.2h0M407.5 169.4h0M395.5 170.1h0M397.4 169.8h0M393.3 167.2h0M402.9 170.8h0M395.1 169.9h0M403.6 171.3h0M402.0 171.3h0M396.8 170.5h0M395.9 168.3h0M408.5 167.5h0M407.5 170.5h0M402.6 170.8h0M406.9 168.8h0M402.2 170.7h0M402.2 171.6h0M400.4 169.7h0M396.0 171.0h0M405.2 169.7h0M401.3 171.1h0M410.7 169.3h0M399.0 171.7h0M409.9 169.8h0M392.8 171.7h0M407.0 171.1h0M411.1 167.7h0M395.1 167.7h0M408.0 170.5h0M403.2 171.4h0M407.5 171.4h0M408.4 169.2h0M406.7 167.2h0M410.3 170.1h0M407.8 167.9h0M405.8 167.6h0M395.3 167.7h0M392.9 169.8h0M397.4 170.5h0M405.2 168.3h0M400.9 170.6h0M397.5 167.9h0M404.6 171.9h0M408.2 168.3h0M398.8 167.7h0M406.3 170.2h0M393.2 171.3h0M398.8 170.7h0M397.9 168.6h0M409.2 167.1h0M403.7 169.6h0M411.1 167.3h0M404.0 169.2h0M394.0 170.8h0M397.2 169.6h0M408.4 167.1h0M399.3 167.6h0M401.1 171.5h0M409.3 168.4h0M395.6 170.9h0M405.4 169.8h0M401.6 171.4h0M404.9 171.3h0M408.9 168.3h0M409.0 170.6h0M397.1 169.6h0M393.1 168.8h0M410.3 169.1h0M397.2 167.3h0M402.9 171.2h0M411.8 170.2h0M396.5 170.5h0M394.9 169.9h0M407.9 168.4h0M410.8 169.5h0M404.0 169.4h0M392.8 167.6h0M410.2 168.1h0M408.2 171.6h0M407.6 170.1h0M400.3 171.5h0M403.4 170.4h0M405.2 168.8h0M393.4 170.8h0M410.3 168.3h0M411.2 170.8h0M393.0 168.2h0M404.4 170.0h0M397.7 168.1h0M402.4 170.7h0M405.4 170.5h0M409.8 167.6h0M407.4 167.9h0M393.8 170.5h0M394.1 170.9h0M398.3 169.2h0M392.9 167.8h0M393.8 170.5h0M412.4 171.2h0M393.9 167.0h0M409.4 169.7h0M394.9 167.9h0M401.7 170.9h0M394.3 170.4h0M393.1 169.6h0M399.9 168.3h0M405.0 169.1h0M404.5 170.0h0M395.9 167.8h0M401.5 171.0h0M410.6 171.0h0M405.8 170.8h0M404.4 171.3h0M397.5 169.3h0M403.9 171.1h0M407.7 170.9h0M401.9 170.6h0M403.3 171.2h0M399.9 169.0h0M403.9 170.4h0M394.0 167.4h0M405.5 170.2h0M409.1 168.8h0M400.0 168.9h0M401.2 171.2h0M398.0 169.5h0M395.2 170.9h0M393.2 168.8h0M394.1 168.5h0M409.7 171.6h0M407.1 169.8h0M409.4 169.7h0M394.9 167.0h0M408.9 168.6h0M410.3 170.2h0M408.0 167.1h0M395.3 169.8h0M407.9 169.2h0M395.3 169.9h0M409.5 169.5h0M394.6 167.4h0M395.1 170.1h0M410.3 167.5h0M395.3 168.0h0M395.6 171.5h0M410.4 167.5h0M406.8 171.5h0M403.8 169.9h0M402.8 171.5h0M403.8 170.2h0M404.4 171.9h0M411.7 167.3h0M400.4 169.7h0M393.0 169.1h0M393.0 169.6h0M410.2 170.0h0M397.3 170.7h0M404.2 170.6h0M399.8 170.6h0M410.3 167.5h0M412.3 170.8h0M392.9 168.0h0M410.8 171.8h0M398.2 171.8h0M403.8 169.5h0M401.7 170.9h0M394.6 169.2h0M394.2 169.2h0M402.0 171.2h0M405.7 169.6h0M409.8 169.1h0M400.0 168.9h0M393.2 171.3h0M403.7 171.9h0M405.3 171.7h0M396.5 170.1h0M396.4 168.0h0M398.0 168.1h0M411.1 169.4h0M410.5 170.2h0M404.1 171.3h0M402.1 170.5h0M393.6 168.4h0M406.5 170.4h0M406.6 171.1h0M404.0 171.6h0" stroke="#444" stroke-width="1.1" stroke-linecap="round" fill="none"/>
<path d="M390.8 171.0h0M390.3 168.7h0M388.5 167.9h0M381.9 168.3h0M386.2 170.7h0M391.0 167.2h0M391.9 170.1h0M358.2 167.3h0M389.0 169.9h0M391.6 170.3h0M362.8 167.2h0M389.2 168.5h0M386.4 171.6h0M389.1 169.0h0M364.9 168.4h0M387.3 167.3h0M367.1 168.0h0M372.4 169.2h0M378.4 168.6h0M391.6 167.4h0M375.8 168.5h0M387.8 167.2h0M359.7 167.6h0M387.2 167.2h0M391.2 168.4h0M368.8 170.7h0M380.8 168.0h0M369.3 170.3h0M389.7 167.6h0M380.5 169.4h0M388.4 171.0h0M381.6 167.5h0M378.0 169.0h0M384.3 169.5h0M388.6 171.0h0M379.2 168.9h0M360.6 168.1h0M385.1 169.9h0M384.3 170.6h0M379.2 169.8h0M384.2 167.0h0M381.3 170.3h0M381.9 168.3h0M392.3 169.8h0M377.9 168.8h0M390.9 167.7h0M378.9 168.5h0M392.3 167.8h0M392.2 168.2h0M381.3 167.7h0M379.7 168.3h0M379.6 169.4h0M389.4 169.1h0M390.3 171.3h0M390.7 167.4h0M377.0 167.5h0M384.7 167.6h0M377.2 168.9h0M388.8 167.9h0M382.3 168.0h0M391.1 168.9h0M391.9 168.3h0M387.3 170.1h0M374.9 167.1h0M368.1 167.9h0M367.3 167.3h0M370.2 168.4h0M386.4 169.4h0M381.0 171.6h0M381.3 168.6h0M379.3 169.9h0M378.3 167.8h0M387.5 168.9h0M365.7 167.9h0M362.7 167.0h0M361.4 168.2h0M373.4 170.1h0M367.6 169.9h0M382.5 168.9h0M388.5 169.5h0M384.1 167.3h0M389.0 168.6h0M389.0 167.1h0M354.2 167.9h0M384.8 168.3h0M389.9 168.4h0M386.5 168.8h0M386.4 168.0h0M389.9 167.9h0M389.8 170.0h0M391.5 169.4h0M385.1 169.1h0M387.7 170.2h0M350.7 167.0h0M390.5 167.9h0M383.7 171.7h0M364.7 167.2h0M363.4 168.8h0M373.5 171.1h0M372.8 168.9h0M378.2 171.2h0M375.9 168.1h0M389.3 168.7h0M374.1 168.2h0M369.7 169.3h0M380.2 168.8h0M379.6 168.2h0M382.4 168.8h0M376.5 168.1h0M382.7 167.9h0M370.8 168.0h0M371.9 168.6h0M378.7 169.2h0M389.7 167.8h0M372.0 171.0h0M391.8 171.6h0M360.2 167.6h0M366.3 168.6h0M371.5 170.0h0M353.9 167.6h0M350.5 167.0h0M387.5 168.9h0M364.9 169.8h0M369.4 169.1h0M378.0 170.0h0M354.5 167.6h0M389.2 167.9h0M388.9 168.7h0M370.2 168.1h0M377.3 170.6h0M379.1 168.4h0M389.0 170.9h0M386.2 168.0h0M374.8 169.2h0M357.4 168.5h0M388.2 167.0h0M360.6 167.8h0M389.6 171.2h0M365.6 167.8h0M377.8 168.2h0M372.3 169.4h0M386.1 169.6h0M387.4 171.7h0M376.6 169.0h0M372.5 167.4h0M386.0 169.0h0M385.9 167.7h0M387.2 170.8h0M388.8 170.0h0M369.7 169.2h0M384.9 167.9h0M391.9 170.3h0M381.5 169.8h0M384.0 169.3h0M392.0 169.3h0M391.9 168.3h0M370.3 169.7h0M391.9 170.0h0M390.5 168.6h0M385.9 169.3h0M381.1 167.9h0M373.0 167.5h0M388.1 167.1h0M358.8 168.1h0M383.3 168.0h0M380.5 170.4h0M377.6 170.7h0M387.9 170.7h0M374.0 168.6h0M370.2 168.7h0M380.4 171.0h0M382.1 170.8h0M389.2 168.0h0M365.1 167.9h0M391.0 169.0h0M359.4 168.6h0M368.0 167.8h0M386.6 168.9h0M384.5 170.8h0M391.2 171.2h0M382.4 167.3h0M379.5 167.2h0M391.3 169.8h0M373.0 167.2h0M375.7 168.3h0M376.4 171.0h0M379.1 170.4h0M385.8 169.5h0M375.3 169.4h0M370.7 170.5h0M388.0 167.4h0M377.4 169.0h0M392.1 167.3h0M378.3 168.3h0M391.9 169.7h0M378.2 167.0h0M386.9 170.6h0M388.7 171.2h0M380.0 169.6h0M380.0 168.0h0M360.6 168.8h0M377.9 170.2h0M391.4 169.4h0M387.1 170.9h0M361.9 169.3h0M382.0 167.2h0M373.4 169.8h0M374.6 167.2h0M368.5 168.4h0M388.4 168.8h0M376.5 168.4h0M366.0 167.6h0M379.3 169.5h0M375.6 170.5h0M377.0 169.6h0M389.0 170.4h0M389.4 169.8h0M373.6 170.4h0M384.2 167.6h0M369.1 167.2h0M378.6 170.5h0M387.1 167.4h0M362.9 169.5h0M360.1 167.0h0M385.7 169.1h0M383.1 171.1h0M373.8 169.4h0M380.8 167.5h0M352.5 167.1h0M390.0 168.1h0M351.3 167.1h0M366.2 169.8h0M383.1 169.4h0M370.8 168.1h0M388.6 167.5h0M375.7 170.0h0M385.9 169.1h0M366.9 167.1h0M390.8 170.3h0M380.3 167.4h0M366.8 170.3h0M383.2 171.1h0M365.1 168.3h0M366.1 169.2h0M369.8 167.6h0M351.0 167.1h0M362.8 167.3h0M383.2 170.7h0M386.3 167.3h0M386.5 168.7h0M373.4 169.9h0M380.5 168.8h0M357.9 167.8h0M373.7 169.2h0M383.9 170.5h0M365.7 168.9h0M364.2 169.7h0M390.0 169.0h0M369.4 170.4h0M387.6 169.7h0M377.7 171.4h0M366.5 167.9h0M389.5 171.0h0M368.7 167.2h0M382.1 167.1h0M376.8 170.3h0M374.8 169.7h0M380.6 170.5h0M387.2 170.3h0M370.6 169.8h0M378.7 169.2h0M382.3 168.9h0M376.4 169.1h0M380.8 167.1h0M391.0 167.6h0M361.4 168.5h0M388.6 169.4h0M355.5 167.1h0M372.1 168.1h0M354.7 167.8h0M391.7 169.3h0M388.1 167.1h0M385.1 168.3h0M380.3 167.2h0M380.8 168.5h0M389.7 167.4h0M376.1 168.7h0M369.4 168.5h0M383.2 167.4h0M382.6 168.3h0M369.0 167.7h0M385.6 169.3h0M390.8 169.8h0M378.0 167.5h0M382.1 167.0h0M383.3 167.8h0M377.5 170.7h0M361.6 168.7h0M373.5 169.0h0M381.7 168.5h0M389.5 167.8h0M385.7 168.9h0M385.5 168.8h0M367.1 167.8h0M384.2 167.9h0M377.7 168.0h0M380.0 170.9h0M366.0 170.3h0M382.4 169.9h0M383.2 168.7h0M385.4 167.8h0M390.9 170.2h0M384.4 170.0h0M385.4 167.7h0M365.0 168.8h0M371.8 168.2h0M377.4 167.9h0M386.8 171.8h0M376.7 169.9h0M391.7 167.5h0M362.2 168.0h0M391.7 168.6h0M362.3 168.3h0M390.1 167.6h0M381.4 171.4h0M383.0 169.7h0M376.9 169.4h0M365.5 167.6h0M352.1 167.1h0M372.7 167.6h0M375.0 167.9h0M390.3 170.3h0M371.2 169.1h0M385.6 168.8h0M369.5 168.3h0M391.6 170.4h0M385.6 168.4h0M383.0 169.7h0M373.0 169.6h0M373.6 168.5h0M370.3 168.5h0M386.1 169.2h0M366.3 167.0h0M388.6 171.6h0M369.9 167.6h0M381.1 170.2h0M364.1 167.7h0M383.3 168.0h0M387.7 170.2h0M382.7 171.4h0M380.3 167.6h0M372.6 167.6h0M384.4 169.6h0M366.2 168.1h0M377.4 170.1h0M375.5 169.5h0M363.8 168.5h0M378.2 169.3h0M387.2 170.8h0M379.9 167.0h0M365.3 167.4h0M381.2 167.9h0M384.4 167.4h0M379.3 167.9h0M389.9 171.2h0M389.2 171.3h0M385.3 167.1h0M369.1 168.2h0M390.5 170.0h0M376.0 169.9h0M388.3 169.8h0M381.8 168.8h0M373.6 167.6h0M391.8 167.0h0M383.9 170.5h0M364.8 169.1h0M368.1 168.8h0M379.0 167.9h0M392.3 171.3h0M389.3 167.1h0M379.3 170.7h0M372.1 169.7h0M378.4 171.4h0M380.0 170.6h0M381.7 168.2h0M376.6 168.9h0M390.4 168.3h0M382.0 170.9h0M359.9 168.5h0M384.5 167.4h0M380.1 168.1h0M379.7 167.6h0M386.5 169.2h0M355.2 167.1h0M353.0 167.1h0M385.8 167.7h0M372.5 169.7h0M366.4 168.3h0M384.3 167.0h0M373.6 167.2h0M391.8 170.0h0M381.4 167.5h0M386.0 170.3h0M384.4 169.8h0M379.2 168.4h0M380.3 169.0h0M374.5 167.0h0M384.0 170.5h0M365.9 167.1h0M392.5 169.0h0M363.8 167.1h0M391.8 168.0h0M387.2 168.6h0M378.5 168.0h0M388.5 168.9h0M383.4 168.3h0M365.2 169.0h0M365.9 167.2h0M388.9 170.8h0M383.3 170.0h0M352.3 167.3h0M350.9 167.0h0M373.4 169.8h0M390.3 169.6h0M379.8 171.2h0M367.8 169.7h0M390.0 169.2h0M359.9 167.8h0M389.8 168.0h0M381.9 168.6h0M381.6 171.0h0M386.7 167.8h0M376.6 169.1h0M382.9 167.5h0M374.0 168.0h0M379.6 170.0h0M384.6 171.4h0M382.6 167.5h0M366.4 168.4h0M388.6 169.9h0M392.1 168.8h0M379.7 167.5h0M370.1 169.2h0M388.1 170.3h0M376.2 168.8h0M380.5 167.7h0M377.6 167.2h0M360.3 169.2h0M378.7 169.4h0M390.6 167.6h0M392.2 170.0h0M384.6 169.5h0M382.4 168.3h0M371.9 167.8h0M389.2 171.1h0M350.8 167.0h0M382.0 169.9h0M383.6 168.5h0M374.5 168.1h0M388.0 171.7h0M372.0 168.4h0M366.5 167.4h0M361.1 169.1h0M389.6 171.4h0M386.6 169.2h0M382.4 168.7h0M371.8 169.0h0M387.7 170.3h0M356.9 168.3h0M382.9 170.6h0M382.3 168.3h0M391.7 170.6h0M382.5 171.3h0M380.1 170.2h0M371.2 167.9h0M378.4 168.5h0M391.2 170.2h0M373.9 168.3h0M390.7 167.7h0M380.2 168.2h0M364.4 168.8h0M378.2 168.0h0M389.0 167.5h0M384.7 169.9h0M359.8 167.1h0M379.0 171.1h0M388.0 170.7h0M389.8 170.6h0M375.1 170.1h0M387.4 167.7h0M374.3 168.0h0M375.7 169.7h0M386.6 169.1h0M383.4 168.8h0M382.8 168.7h0M368.4 167.5h0M375.6 167.2h0M389.2 170.2h0M371.9 169.1h0M361.4 167.0h0M359.3 167.8h0M385.2 169.7h0M391.9 168.4h0M388.3 168.8h0M355.7 167.5h0M365.3 167.2h0M374.7 168.1h0M358.5 167.1h0M392.3 170.9h0M387.4 168.6h0M383.1 169.8h0M388.1 167.1h0M379.9 167.2h0M361.8 168.5h0M383.9 169.1h0M368.6 170.3h0M377.1 169.5h0M363.3 168.2h0M361.5 168.2h0M372.5 167.5h0M361.2 167.5h0M387.4 167.1h0M381.9 169.7h0M371.1 169.9h0M390.2 171.6h0M377.6 169.9h0M388.3 167.9h0M376.4 169.1h0M376.0 167.7h0M387.0 167.1h0M371.8 167.6h0M381.6 169.5h0M380.1 168.9h0M384.8 169.4h0M376.6 169.1h0M372.9 167.2h0M374.3 170.9h0M386.2 167.4h0M390.9 167.7h0M386.0 167.4h0M391.8 171.1h0M360.2 168.3h0M372.3 171.1h0M376.2 167.3h0M373.2 169.2h0M370.5 169.5h0M380.4 168.6h0M376.1 169.3h0M370.4 168.7h0M386.0 168.1h0M380.8 168.0h0M380.4 169.0h0M374.8 169.0h0M371.0 167.4h0M387.1 169.4h0M387.1 167.9h0M390.1 168.8h0M374.9 169.2h0M385.0 170.3h0M388.8 167.7h0M367.5 170.2h0M374.2 171.1h0M384.7 170.2h0M381.2 167.3h0M383.7 169.7h0M373.8 168.4h0M372.5 167.2h0M374.8 168.8h0M388.5 170.0h0M377.4 167.3h0M354.8 168.2h0M376.1 167.5h0M390.9 167.4h0M373.5 168.7h0M366.5 168.1h0M391.6 170.2h0M361.6 167.6h0M392.4 167.3h0M378.6 167.3h0M373.2 167.8h0M388.6 167.2h0M371.4 167.3h0M377.6 168.6h0M387.9 169.3h0M358.5 167.8h0M390.9 170.0h0M381.1 167.0h0M369.3 170.0h0M379.3 167.4h0M365.2 168.3h0M379.6 167.9h0M384.8 171.7h0M377.7 167.2h0M383.5 167.1h0M387.5 168.8h0M382.6 167.4h0M362.0 169.3h0M387.2 170.7h0M391.7 171.2h0M371.4 168.2h0M383.3 169.2h0M358.8 167.0h0M362.8 167.7h0M382.1 167.1h0M354.4 167.1h0M383.4 167.0h0M383.5 169.9h0M380.6 168.5h0M381.1 169.1h0M371.7 167.9h0M387.8 171.6h0M381.0 170.8h0M376.9 167.0h0M389.2 167.5h0M380.8 167.0h0M390.0 167.8h0M367.3 170.2h0M368.9 167.4h0M357.0 168.7h0M374.4 167.1h0M383.5 170.9h0M361.5 169.3h0M387.2 167.0h0M378.3 169.7h0M392.2 168.4h0M351.2 167.0h0M370.9 169.7h0M386.1 171.0h0M370.9 169.1h0M389.8 167.6h0M368.8 170.3h0M374.0 168.5h0M391.3 171.6h0M380.6 168.2h0M389.4 170.3h0M386.4 170.7h0M371.1 168.3h0M383.5 169.5h0M360.6 168.7h0M380.9 167.1h0M390.7 170.6h0M384.6 167.0h0M360.3 168.2h0M390.1 168.2h0M378.1 168.0h0M371.8 169.9h0M353.6 167.2h0M385.4 170.4h0M372.4 169.9h0M384.3 167.0h0M378.3 167.0h0M391.0 170.1h0M383.6 168.4h0M385.2 169.8h0M385.7 169.3h0M384.6 167.3h0M376.4 169.2h0M379.0 169.4h0M382.6 171.0h0M354.5 167.9h0M388.1 167.7h0M386.8 171.6h0M385.1 168.6h0M366.3 168.7h0M390.1 169.2h0M374.0 167.5h0M387.3 171.6h0M374.5 169.4h0M383.3 167.3h0M389.8 170.6h0M386.3 168.1h0M391.1 169.6h0M390.7 169.5h0M386.1 167.0h0M379.7 170.0h0M381.5 170.8h0M383.4 171.6h0M385.5 170.2h0M380.6 167.6h0M379.5 167.5h0M373.2 169.9h0M355.9 167.8h0M374.3 167.0h0M377.3 169.3h0M376.1 167.5h0M376.8 169.1h0M360.9 168.9h0M372.8 167.2h0M368.6 170.7h0M371.3 167.1h0M391.5 170.6h0M359.8 168.5h0M375.3 170.4h0M359.8 169.0h0M388.1 167.0h0M359.0 168.0h0M358.5 168.9h0M377.7 171.3h0M387.9 169.2h0M370.2 167.2h0M391.5 169.2h0M353.0 167.0h0M380.1 170.4h0M357.0 167.3h0M376.6 170.2h0M390.3 169.5h0M378.8 170.0h0M389.3 167.3h0M373.7 169.7h0M375.5 168.5h0M359.6 168.9h0M376.1 169.5h0M386.3 167.0h0M378.6 168.4h0M372.6 170.0h0M387.4 168.8h0M391.4 168.3h0M363.4 167.8h0M374.0 168.1h0M391.5 168.2h0M373.1 170.6h0M374.3 171.2h0M361.6 167.6h0M380.7 170.6h0M378.4 169.0h0M361.9 169.1h0M385.1 168.6h0M385.8 171.7h0M372.4 171.1h0M365.4 169.3h0M376.1 169.0h0M379.5 171.4h0M376.7 168.5h0M382.6 169.8h0M379.4 171.4h0M373.9 167.1h0M376.1 169.0h0M391.7 168.2h0M354.7 167.6h0M360.4 167.4h0M362.6 168.0h0M386.6 170.4h0M360.9 168.0h0M388.4 170.6h0M391.7 167.5h0M390.4 168.9h0M378.4 170.0h0M377.3 168.2h0M375.0 168.0h0M365.5 167.8h0M374.1 167.4h0M374.1 168.5h0M386.3 169.3h0M380.6 169.6h0M391.5 168.0h0M381.0 169.0h0M378.9 170.9h0M392.3 169.7h0M369.7 169.0h0M351.0 167.2h0M363.5 167.7h0M372.7 168.0h0M377.0 168.4h0M360.8 168.0h0M377.6 169.1h0M372.8 169.3h0M390.2 171.3h0M390.8 167.4h0M369.3 167.3h0M360.5 167.2h0M386.2 169.6h0M376.6 168.6h0M381.4 170.6h0M391.1 168.0h0M356.5 167.8h0M351.2 167.1h0M391.5 167.3h0M391.8 168.3h0M361.8 167.5h0M386.5 171.0h0M350.8 167.1h0M377.9 171.4h0M376.1 169.3h0M387.4 167.8h0M382.9 168.0h0M385.7 168.2h0M374.8 169.1h0M355.5 167.1h0M389.8 169.6h0M382.4 168.8h0M383.8 167.2h0M367.0 167.2h0M370.7 167.4h0M389.0 168.6h0M380.4 167.9h0M383.3 171.5h0M392.2 170.6h0M387.4 169.7h0M383.5 168.5h0M384.3 168.3h0M386.2 167.1h0M371.9 167.5h0M359.5 167.7h0M389.0 169.7h0M351.6 167.1h0M366.4 169.1h0M385.9 170.7h0M391.7 169.4h0M373.5 169.8h0M384.3 167.7h0M373.0 167.9h0M386.3 167.1h0M369.3 169.5h0M381.8 169.4h0M372.2 170.8h0M390.1 168.9h0M360.7 168.4h0M383.3 167.1h0M360.7 167.5h0M391.0 170.4h0M388.0 168.6h0M363.4 167.0h0M376.1 169.6h0M386.9 171.3h0M377.9 167.1h0M377.5 167.3h0M380.9 169.5h0M384.5 168.6h0M377.0 168.5h0M391.8 168.3h0M391.9 167.4h0M377.8 167.2h0M388.3 168.5h0M377.6 167.3h0M381.1 171.4h0M391.5 168.1h0M370.1 167.9h0M350.5 167.0h0M384.8 169.0h0M389.6 167.5h0M381.3 168.3h0M380.9 167.4h0M388.4 168.0h0M374.3 168.1h0M382.3 171.5h0M369.4 167.3h0M383.0 167.3h0M385.0 167.9h0M388.1 170.6h0M380.5 170.1h0M382.6 168.1h0M378.6 167.5h0M387.8 169.9h0M368.6 167.4h0M383.2 171.2h0M384.4 171.1h0M390.0 171.8h0M390.3 167.4h0M389.8 168.1h0M385.8 170.8h0M389.2 169.5h0M388.5 167.2h0M391.5 170.6h0M375.8 170.4h0M389.3 168.7h0M377.7 167.2h0M392.1 167.9h0M386.2 169.4h0M391.2 169.7h0M382.7 170.1h0M377.5 170.2h0M371.8 168.2h0M382.7 170.7h0M370.8 168.8h0M358.0 167.5h0M389.5 169.9h0M387.3 168.4h0M383.2 167.3h0M385.3 167.8h0M365.4 167.7h0M391.7 167.6h0M392.1 169.0h0M368.8 167.3h0M361.5 167.3h0M372.3 168.5h0M382.2 170.0h0M390.8 167.2h0M362.4 168.6h0M388.7 169.7h0M370.3 170.7h0M387.7 167.9h0M372.0 168.5h0M375.8 167.6h0M358.0 167.0h0M373.3 170.3h0M377.2 171.2h0M387.8 167.7h0M373.7 170.3h0M387.6 168.2h0M388.6 170.1h0M387.0 167.6h0M378.7 168.2h0M369.6 170.1h0M362.8 167.0h0M382.1 169.7h0M388.3 167.1h0M388.7 169.7h0M381.0 168.2h0M386.6 170.3h0M379.8 168.4h0M363.8 169.3h0M374.5 171.0h0M373.3 169.0h0M387.0 167.7h0M387.0 169.2h0M385.5 167.5h0M367.0 168.7h0M369.0 167.3h0M386.1 168.4h0M373.3 167.9h0M392.4 167.3h0M386.1 167.1h0M386.7 167.0h0M371.5 168.4h0M383.0 170.3h0M380.2 168.3h0M358.7 168.1h0M353.0 167.3h0M382.2 168.5h0M388.2 170.7h0M387.1 170.9h0M388.0 168.5h0M371.9 169.3h0M389.6 170.6h0M377.1 169.0h0M369.7 168.5h0M373.5 170.6h0M383.5 169.1h0M376.7 171.1h0M371.0 167.8h0M363.3 168.1h0M386.1 170.3h0M389.9 168.3h0M379.4 167.9h0M381.8 171.7h0M365.1 167.1h0M373.3 170.5h0M391.5 170.8h0M385.4 170.5h0M376.7 168.4h0M370.3 168.6h0M375.1 171.1h0M381.1 169.2h0M370.3 167.3h0M386.7 167.1h0M381.5 168.1h0M376.9 168.5h0M383.9 168.1h0M386.6 167.7h0M371.1 167.0h0M388.3 170.2h0M377.7 170.9h0M378.8 169.5h0M389.0 167.4h0M381.7 169.9h0M368.3 169.1h0M387.1 170.8h0M386.0 167.9h0M373.1 169.3h0M388.3 170.8h0M387.0 167.1h0M376.4 168.7h0M390.2 169.1h0M387.1 167.8h0M371.9 167.9h0M370.1 167.4h0M382.6 169.9h0M384.5 168.0h0M373.1 168.9h0M366.9 167.8h0M391.3 169.3h0M391.3 167.1h0M358.6 167.0h0M366.9 168.9h0M380.5 169.2h0M369.2 169.0h0M390.8 169.5h0M372.1 167.0h0M356.5 167.8h0M387.2 168.3h0M374.1 168.7h0M390.6 168.4h0M367.3 169.3h0M381.9 169.8h0M373.2 167.4h0M390.3 167.5h0M384.7 167.7h0M378.1 168.8h0M376.1 169.6h0M388.6 169.9h0M390.3 168.3h0M387.0 168.5h0M388.2 167.0h0M390.6 167.7h0M376.7 167.7h0M385.3 171.5h0M374.7 168.1h0M368.3 167.7h0M380.3 167.2h0M388.8 168.2h0M385.1 169.0h0M377.3 168.3h0M381.6 171.1h0M382.3 168.8h0M360.5 168.0h0M385.5 167.2h0M362.6 168.5h0M382.2 167.9h0M372.8 169.8h0M392.2 168.2h0M383.2 170.1h0M375.8 167.2h0M385.5 170.7h0M387.3 171.4h0M364.7 168.5h0M370.6 169.0h0M381.7 167.1h0M390.8 169.3h0M363.8 168.0h0M388.5 168.1h0M379.1 168.1h0M369.0 168.2h0M355.8 167.0h0M385.2 167.1h0M373.3 167.4h0M383.4 167.1h0M383.1 170.8h0M390.2 167.9h0M376.3 168.0h0M388.7 168.3h0M373.2 170.4h0M380.4 169.0h0M389.8 169.1h0M384.4 167.5h0M363.4 169.1h0M364.2 168.7h0M360.9 168.1h0M366.3 169.0h0M382.6 168.2h0M365.5 169.3h0M386.1 170.0h0M362.0 168.4h0M390.8 168.9h0M389.9 169.9h0M382.6 169.3h0M374.7 169.7h0M387.3 168.3h0M388.4 168.1h0M377.1 169.0h0M382.7 170.0h0M381.3 168.0h0M357.5 167.3h0M376.4 168.6h0M387.1 170.7h0M383.7 169.1h0M368.2 167.3h0M388.9 167.5h0M373.4 167.2h0M353.9 167.8h0M378.3 167.6h0M390.3 167.5h0M391.0 169.2h0M379.3 167.4h0M383.4 170.5h0M382.4 167.3h0M389.5 168.8h0M375.4 168.2h0M368.6 168.6h0M374.9 169.9h0M388.7 168.5h0M356.2 168.0h0M371.5 168.4h0M378.4 167.9h0M383.6 170.2h0M391.4 168.9h0M385.3 168.6h0M390.1 167.6h0M356.6 168.1h0M369.7 167.8h0M391.1 169.1h0M372.2 169.1h0M382.1 170.3h0M387.8 167.5h0M382.5 169.3h0M353.0 167.5h0M382.1 171.3h0M385.0 170.9h0M376.7 169.3h0M387.5 170.2h0M388.2 169.2h0M389.0 170.7h0M388.8 170.7h0M383.8 171.2h0M382.5 171.0h0M385.7 171.5h0M376.2 169.1h0M391.8 168.9h0M352.4 167.2h0M390.0 171.3h0M385.6 167.2h0M389.6 167.0h0M354.8 167.5h0M362.6 168.3h0M374.2 171.2h0M365.1 167.7h0M391.3 169.2h0M382.4 167.6h0M372.6 168.8h0M369.8 168.5h0M365.3 169.1h0M382.7 171.3h0M365.8 169.5h0M391.6 167.8h0M377.8 167.3h0M388.6 168.9h0M389.0 169.1h0M364.7 168.8h0M383.3 169.3h0M351.3 167.2h0M389.9 170.6h0M379.2 167.8h0M368.8 169.0h0M380.6 169.3h0M391.7 167.4h0M372.3 169.8h0M384.6 171.5h0M389.9 167.9h0M386.2 170.1h0M389.0 168.8h0M373.1 169.2h0M373.3 168.8h0M383.8 171.3h0M384.8 167.7h0M387.8 170.9h0M385.7 167.7h0M379.1 169.2h0M355.6 167.4h0M389.3 168.5h0M376.6 169.1h0M360.9 168.3h0M378.2 171.0h0M352.2 167.1h0M367.4 167.1h0M367.9 169.7h0M391.2 167.1h0M382.7 168.4h0M381.6 168.5h0M384.4 167.1h0M391.8 167.9h0M390.7 168.1h0M360.4 167.5h0M373.1 168.5h0M388.5 170.2h0M390.1 171.5h0M375.6 168.6h0M387.1 168.8h0M380.7 169.9h0M384.7 168.3h0M364.4 168.0h0M382.1 171.4h0M378.5 167.9h0M376.1 171.3h0M376.8 167.2h0M362.5 167.2h0M386.6 170.9h0M378.9 170.3h0M382.6 169.5h0M389.8 167.5h0M379.6 167.6h0M378.8 171.2h0M372.1 167.5h0M386.1 167.2h0M387.7 168.9h0M390.5 167.8h0M389.8 171.8h0M350.4 167.0h0M388.8 167.1h0M366.2 167.8h0M359.9 169.0h0M363.0 167.8h0M385.6 169.8h0M388.5 169.3h0M379.4 171.1h0M388.9 170.2h0M387.0 168.6h0M389.9 171.3h0M387.4 170.8h0M371.1 169.9h0M352.9 167.4h0M378.5 171.3h0M389.0 168.3h0M377.7 167.2h0M390.7 167.8h0M354.1 167.1h0M386.4 170.4h0M384.6 171.4h0M389.0 169.1h0M382.3 167.1h0M378.0 167.5h0M360.2 168.5h0M380.6 169.3h0M354.8 167.7h0M369.7 169.4h0M390.6 170.7h0M382.9 167.2h0M389.7 168.2h0M389.5 169.1h0M380.3 168.3h0M385.3 168.8h0M376.8 169.9h0M381.6 170.8h0M375.7 168.9h0M367.7 168.1h0M391.1 169.9h0M359.0 168.1h0M360.5 168.5h0M390.7 171.4h0M385.2 170.4h0M365.2 168.2h0M381.5 168.1h0M390.7 168.2h0M391.1 167.4h0M385.6 168.9h0M373.1 168.7h0M377.1 168.5h0M377.5 168.5h0M355.0 167.6h0M357.3 167.3h0M380.3 169.3h0M392.4 168.7h0M372.1 170.3h0M379.3 169.3h0M364.8 167.2h0M385.9 167.0h0M385.2 171.0h0M379.5 169.7h0M375.8 170.1h0M379.5 171.5h0M382.5 167.2h0M358.5 167.0h0M380.0 170.9h0M384.3 167.6h0M365.8 167.6h0M386.6 170.9h0M384.2 171.7h0M358.3 167.4h0M378.4 170.4h0M379.0 168.5h0M358.9 168.4h0M363.4 168.4h0M378.4 171.1h0M367.1 167.7h0M391.7 169.2h0M365.5 167.8h0M381.6 169.7h0M351.5 167.3h0M383.3 170.8h0M385.1 167.7h0M387.9 167.8h0M387.4 167.7h0M391.6 170.0h0M391.2 168.2h0M381.8 171.0h0M374.2 168.1h0M386.8 167.5h0M378.7 167.6h0M371.9 168.0h0M354.7 167.5h0M369.5 169.6h0M362.7 167.7h0M375.1 169.0h0M389.6 169.2h0M387.8 167.5h0M387.0 170.3h0M367.8 169.2h0M388.3 169.9h0M368.3 167.2h0M376.2 170.0h0M376.3 171.1h0M350.8 167.1h0M379.0 169.6h0M384.2 170.2h0M384.8 167.7h0M388.8 167.8h0M391.2 169.6h0M350.8 167.0h0M386.6 168.9h0M368.1 167.4h0M388.1 170.1h0M372.2 167.0h0M373.4 168.6h0M386.4 167.5h0M377.8 171.3h0M369.5 169.2h0M362.5 168.5h0M379.6 169.4h0M370.6 170.8h0M384.4 168.1h0M374.9 167.4h0M388.4 168.1h0M372.5 167.5h0M390.8 168.0h0M392.0 167.0h0M380.6 169.0h0M373.7 168.0h0M375.8 167.0h0M373.3 169.9h0M389.0 169.0h0M384.5 170.9h0M360.0 167.8h0M376.4 170.7h0M388.2 168.1h0M363.1 169.7h0M384.5 167.5h0M371.3 168.8h0M386.0 167.8h0M384.9 169.0h0M385.3 170.2h0M368.6 168.2h0M392.2 168.6h0M379.5 167.2h0M376.4 167.5h0M390.3 169.2h0M381.8 167.6h0M364.7 168.0h0M364.4 169.9h0M391.8 168.1h0M355.0 167.5h0M386.3 169.3h0M380.3 169.2h0M389.6 168.7h0M387.0 170.5h0M379.3 167.0h0M369.1 168.2h0M381.5 171.5h0M391.4 171.2h0M359.9 167.8h0M378.7 169.6h0M364.1 169.1h0M376.5 167.3h0M390.2 167.5h0M378.3 168.2h0M388.7 170.6h0M390.0 168.6h0M358.4 168.0h0M389.7 171.4h0M377.3 167.4h0M369.5 168.7h0M387.9 169.3h0M384.0 169.5h0M379.1 167.3h0M372.9 169.3h0M376.2 169.8h0M389.7 171.2h0M372.3 170.9h0M382.9 171.3h0M383.3 167.9h0M375.4 167.7h0M377.5 167.3h0M370.3 168.6h0M378.7 168.9h0M385.8 168.2h0M362.0 169.6h0M365.1 167.3h0M382.2 168.0h0M368.4 167.7h0M370.5 167.6h0M371.2 169.5h0M380.7 167.7h0M389.2 170.8h0M383.2 168.9h0M382.5 167.1h0M384.9 169.3h0M386.8 168.5h0M383.8 167.3h0M380.1 167.8h0M392.0 170.5h0M387.0 167.5h0M381.7 168.7h0M380.1 167.2h0M392.5 169.1h0M372.6 170.8h0M365.3 170.2h0M379.5 170.2h0M384.4 168.0h0M390.8 168.0h0M376.1 169.6h0M381.8 168.9h0M376.6 168.5h0M355.6 167.0h0M383.7 168.0h0M380.3 171.1h0M392.0 167.5h0M385.9 167.3h0M388.8 168.4h0M374.7 171.1h0M392.2 169.8h0M371.0 167.7h0M368.2 167.7h0M366.1 168.5h0M371.8 170.6h0M374.9 170.8h0M377.5 167.0h0M392.1 169.9h0M365.7 168.6h0M392.1 170.7h0M373.5 167.7h0M351.7 167.1h0M381.9 169.5h0M371.6 167.5h0M387.9 170.9h0M385.6 168.4h0M386.6 167.2h0M357.5 168.4h0M373.9 168.0h0M356.5 168.1h0M389.8 169.0h0M391.4 170.7h0M356.3 168.0h0M389.0 168.7h0M382.8 167.7h0M387.0 168.7h0M376.9 169.1h0M373.5 168.6h0M367.9 169.4h0M385.9 169.0h0M389.1 169.4h0M372.6 167.3h0M375.5 167.2h0M377.7 169.0h0M372.7 167.8h0M374.3 170.2h0M370.9 169.8h0M380.6 170.8h0M375.6 169.2h0M389.2 167.0h0M356.9 168.0h0M389.3 169.2h0M384.3 168.7h0M386.3 168.2h0M366.4 168.4h0M361.4 168.0h0M391.9 168.8h0M390.8 168.2h0M375.5 170.5h0M360.0 167.5h0M384.7 171.2h0M387.6 169.0h0M390.9 169.8h0M391.3 171.1h0M377.9 167.0h0M384.3 167.3h0M387.5 169.0h0M371.4 167.7h0M379.8 167.8h0M392.0 168.4h0M368.0 169.0h0M371.8 167.9h0M363.1 168.4h0M372.9 168.7h0M388.2 167.6h0M391.2 167.3h0M382.7 167.5h0M371.1 169.5h0M376.9 169.1h0M385.8 169.7h0M356.9 167.1h0M379.7 169.7h0M353.4 167.5h0M388.6 169.0h0M377.8 170.3h0M385.8 167.3h0M371.7 168.5h0M384.9 168.8h0M382.7 170.1h0M383.3 168.1h0M379.0 167.8h0M376.5 167.2h0M352.6 167.5h0M353.3 167.1h0M389.0 170.7h0M364.7 168.4h0M353.5 167.7h0M374.9 168.2h0M381.8 167.5h0M384.1 168.6h0M379.4 168.7h0M365.1 167.1h0M364.4 168.0h0M386.1 168.8h0M358.5 167.1h0M364.0 167.6h0M382.7 168.4h0M352.8 167.2h0M388.8 170.3h0M370.6 168.8h0M391.2 168.3h0M387.7 168.6h0M368.6 168.8h0M363.5 169.7h0M381.8 170.8h0M378.4 169.9h0M371.8 169.3h0M384.7 167.1h0M367.1 169.0h0M356.9 168.4h0M387.0 170.6h0M382.3 169.3h0M388.0 168.7h0M362.8 167.9h0M376.1 167.7h0M378.9 171.0h0M381.4 168.6h0M376.1 168.3h0M382.0 168.9h0M378.0 169.5h0M384.6 168.9h0M383.0 171.0h0M379.7 171.6h0M389.0 170.9h0M357.0 167.9h0M357.2 167.0h0M371.5 169.3h0M369.4 168.5h0M387.4 171.6h0M380.8 167.9h0M374.9 167.7h0M391.7 167.5h0M384.2 168.7h0M353.9 167.5h0M363.9 168.5h0M381.4 169.8h0M382.8 168.1h0M388.9 167.0h0M377.8 171.3h0M364.9 169.9h0M373.6 168.6h0M379.7 169.8h0M388.4 167.7h0M363.4 167.4h0M362.5 168.3h0M388.6 169.6h0M375.6 168.7h0M374.5 169.7h0M383.0 168.6h0M387.5 169.0h0M385.9 168.1h0M381.5 169.0h0M390.7 171.1h0M379.7 168.2h0M382.0 168.5h0M381.6 168.2h0M382.3 170.9h0M379.6 168.2h0M364.9 169.2h0M382.1 170.7h0M384.8 170.8h0M368.6 168.4h0M389.6 171.6h0M368.4 168.0h0M378.4 167.2h0M385.1 169.9h0M383.9 168.0h0M381.8 167.5h0M384.6 170.0h0M381.3 168.0h0M386.6 167.0h0M359.8 168.1h0M383.1 167.0h0M390.3 171.4h0M391.2 168.0h0M367.6 170.4h0M391.4 170.0h0M390.3 168.1h0M365.4 168.4h0M353.9 167.2h0M375.2 167.0h0M391.3 169.4h0M363.8 168.5h0M361.7 167.1h0M367.1 167.9h0M375.8 169.8h0M380.7 167.9h0M372.1 171.0h0M390.9 169.0h0M388.9 171.1h0M373.4 169.4h0M392.4 168.8h0M378.8 167.0h0M391.8 169.0h0M388.8 169.1h0M387.0 170.4h0M374.1 169.5h0M362.9 169.6h0M369.3 168.5h0M388.9 167.1h0M391.3 167.8h0M381.0 168.3h0M366.5 170.1h0M390.4 170.7h0M368.2 169.6h0M385.3 167.3h0M379.0 169.1h0M355.1 167.1h0M389.7 167.5h0M388.4 169.9h0M369.7 168.5h0M381.1 169.3h0M387.8 167.4h0M386.0 167.0h0M376.4 169.1h0M366.0 168.9h0M390.5 170.7h0M362.2 169.4h0M377.4 168.4h0M388.3 171.2h0M372.9 168.3h0M386.7 169.1h0M388.2 168.9h0M369.1 169.8h0M381.8 167.1h0M385.9 169.7h0M381.6 170.2h0M376.1 169.1h0M385.9 167.8h0M391.0 167.2h0M388.8 169.1h0M372.0 167.6h0M389.8 168.4h0M385.8 168.0h0M364.2 169.7h0M384.1 171.2h0M388.8 169.5h0M382.9 171.0h0M374.4 167.3h0M386.0 171.1h0M389.0 169.9h0M382.3 170.6h0M371.4 169.0h0M391.3 170.4h0M377.3 167.1h0M377.7 169.6h0M369.1 167.0h0M389.2 169.5h0M360.2 168.0h0M391.6 169.8h0M365.4 167.0h0M362.5 167.2h0M376.1 169.1h0M379.1 170.0h0M373.3 169.0h0M375.0 167.4h0M387.0 168.8h0M381.3 168.5h0M385.3 171.4h0M389.5 168.4h0M377.1 169.6h0M391.9 168.7h0M379.0 170.6h0M369.8 168.4h0M381.1 167.3h0M388.8 169.8h0M381.7 167.3h0M381.3 170.3h0M384.8 171.7h0M387.5 167.8h0M383.7 169.8h0M355.9 167.4h0M373.0 169.6h0M390.1 171.4h0M390.5 167.1h0M371.2 167.1h0M376.0 168.5h0M387.4 170.6h0M368.4 168.4h0M358.7 167.9h0M367.1 167.0h0M376.1 168.0h0M380.0 170.7h0M363.4 168.8h0M358.2 167.0h0M381.8 167.7h0M383.0 167.6h0M370.4 170.4h0M390.1 168.6h0M389.5 170.5h0M351.2 167.2h0M385.2 168.3h0M389.9 168.2h0M386.7 170.3h0M374.6 169.1h0M359.5 168.7h0M387.6 168.5h0M380.5 168.3h0M379.7 169.2h0M386.1 169.2h0M351.2 167.1h0M382.3 169.3h0M367.1 167.9h0M375.1 168.7h0M389.4 167.1h0M392.0 169.2h0M362.4 167.3h0M376.4 167.5h0M383.2 170.2h0M386.9 168.8h0M384.5 168.7h0M378.4 168.5h0M384.1 168.9h0M392.4 167.7h0M378.1 169.5h0M384.8 171.0h0M367.7 168.9h0M376.0 169.3h0M390.1 171.8h0M386.1 168.6h0M389.6 169.0h0M389.7 167.0h0M385.1 170.2h0M387.2 170.5h0M392.4 169.2h0M390.6 168.5h0M385.5 169.5h0M385.5 167.0h0M351.1 167.0h0M382.5 171.5h0M383.2 167.0h0M383.5 169.6h0M367.2 168.1h0M374.7 168.1h0M369.3 167.1h0M370.1 170.1h0M385.5 167.5h0M383.7 171.5h0M379.3 167.6h0M376.7 168.1h0M356.4 167.5h0M367.3 169.2h0M390.8 168.7h0M370.4 167.0h0M386.2 168.7h0M372.0 167.3h0M378.5 168.3h0M369.1 169.0h0M378.3 168.1h0M390.9 169.0h0M389.1 168.0h0M385.6 168.1h0M374.4 171.0h0M374.9 168.4h0M353.1 167.2h0M380.3 170.5h0M358.8 167.1h0M389.0 167.9h0M356.1 168.1h0M368.3 168.8h0M381.8 170.6h0M388.8 168.9h0M386.1 170.4h0M379.3 169.9h0M386.7 167.2h0M365.8 169.8h0M377.9 170.9h0M383.7 170.3h0M371.2 167.9h0M390.2 169.5h0M369.8 170.4h0M384.0 169.2h0M390.5 169.0h0M387.6 169.7h0M352.1 167.2h0M381.8 169.7h0M391.6 167.5h0M368.5 167.9h0M384.3 168.0h0M388.1 167.0h0M379.5 168.0h0M364.9 169.4h0M380.6 169.5h0M372.1 170.7h0M389.8 168.3h0M359.0 168.5h0M368.3 168.3h0M356.5 167.9h0M370.9 167.5h0M365.4 169.6h0M377.1 167.5h0M355.1 167.9h0M384.5 169.0h0M373.9 170.1h0M370.4 169.0h0M385.4 168.1h0M379.8 167.4h0M391.9 168.9h0M371.1 169.3h0M368.2 168.6h0M391.6 169.8h0M360.7 167.1h0M363.8 168.5h0M391.8 167.9h0M382.1 170.4h0M350.6 167.0h0M391.5 169.5h0M389.0 168.5h0M380.7 167.7h0M390.6 167.2h0M383.6 168.0h0M385.9 168.6h0M350.7 167.1h0M385.8 170.6h0M382.7 171.7h0M391.0 169.9h0M376.0 167.0h0M382.9 170.1h0M383.7 168.4h0M390.3 167.4h0M389.5 170.7h0M371.5 168.6h0M372.3 168.9h0M388.6 169.8h0M355.3 167.1h0M383.3 169.1h0M389.1 169.7h0M377.9 167.2h0M381.4 169.1h0M380.4 168.8h0M379.2 171.1h0M389.9 170.5h0M371.6 169.2h0M377.1 170.2h0M367.5 169.4h0M352.1 167.3h0M385.3 167.5h0M389.1 168.0h0M368.8 168.8h0M376.0 169.3h0M378.5 168.8h0M388.5 169.3h0M387.1 170.5h0M385.3 168.5h0M366.9 167.6h0M355.2 167.4h0M388.9 168.6h0M388.9 168.6h0M387.9 169.7h0M358.3 167.0h0M381.9 169.8h0M381.2 167.1h0M371.9 167.8h0M353.3 167.8h0M390.2 169.7h0M388.6 169.0h0M371.0 168.0h0M382.8 168.0h0M358.0 168.3h0M363.6 168.1h0M385.7 171.0h0M357.7 168.4h0M365.8 169.9h0M389.7 169.3h0M371.6 168.8h0M355.7 167.6h0M374.8 169.8h0M389.5 169.2h0M373.1 167.5h0M389.1 168.6h0M385.2 171.3h0M372.0 168.0h0M365.9 167.6h0M368.0 169.4h0M364.0 167.0h0M381.1 169.8h0M385.9 170.2h0M390.6 168.1h0M380.7 168.3h0M369.2 169.0h0M383.6 171.5h0M354.4 168.0h0M387.3 168.5h0M362.3 167.7h0M379.3 167.8h0M369.2 168.1h0M376.4 170.3h0M374.7 167.2h0M366.4 168.1h0M391.0 171.6h0M369.2 167.0h0M391.4 169.6h0M371.2 169.1h0M390.2 167.4h0M377.2 167.0h0M392.4 171.1h0M374.4 171.1h0M385.9 170.2h0M386.5 168.1h0M381.7 170.6h0M384.3 168.0h0M384.9 171.4h0M374.1 167.4h0M363.5 168.2h0M392.1 169.0h0M378.9 168.0h0M367.0 167.6h0M389.6 169.9h0M387.2 167.4h0M369.3 167.0h0M391.5 168.1h0M389.1 170.4h0M373.6 167.4h0M375.1 169.3h0M381.9 170.7h0M384.1 168.2h0M364.4 168.2h0M376.4 168.8h0M387.2 171.8h0M387.8 167.3h0M388.6 168.0h0M375.3 170.9h0M366.2 168.8h0M374.8 168.0h0M355.3 167.2h0M374.0 167.8h0M361.9 169.5h0M380.4 169.6h0M389.0 169.5h0M390.3 169.6h0M359.5 167.4h0M391.5 171.7h0M383.4 170.1h0M363.9 169.1h0M374.3 168.3h0M377.2 167.6h0M373.6 170.5h0M390.2 167.9h0M373.9 168.8h0M392.3 168.4h0M363.2 167.7h0M386.7 168.1h0M371.2 167.9h0M387.2 167.5h0M364.1 169.5h0M374.9 168.9h0M386.3 169.2h0M390.1 171.5h0M371.7 167.4h0M386.6 168.2h0M376.8 169.1h0M376.1 167.2h0M365.7 167.9h0M387.5 170.3h0M364.9 167.8h0M384.0 168.8h0M366.1 167.5h0M377.8 170.0h0M350.5 167.1h0M389.4 168.8h0M372.7 168.1h0M364.3 169.5h0M388.0 171.4h0M391.4 169.2h0M390.4 169.0h0M351.8 167.3h0M375.1 167.8h0M385.2 171.2h0M376.1 170.9h0M368.3 167.8h0M376.5 167.9h0M368.4 168.0h0M384.0 170.4h0M382.5 167.9h0M373.3 168.2h0M389.4 167.3h0M381.2 169.6h0M382.0 169.7h0M373.6 170.2h0M389.9 170.3h0M388.9 170.2h0M390.2 167.8h0M388.4 170.8h0M388.2 170.6h0M372.2 168.2h0M386.0 168.3h0M389.0 170.7h0M368.4 169.0h0M389.6 171.6h0M374.9 169.6h0M389.7 171.6h0M372.5 169.6h0M380.1 168.2h0M386.4 171.1h0M369.2 169.2h0M372.1 168.1h0M387.1 169.9h0M367.2 169.0h0M386.5 170.3h0M379.4 168.9h0M374.4 170.6h0M384.3 171.2h0M380.4 170.3h0M370.0 167.3h0M374.1 169.2h0M391.3 167.1h0M388.2 170.1h0M385.2 167.3h0M377.2 167.2h0M383.1 167.6h0M381.2 171.1h0M379.8 169.0h0M388.3 167.8h0M389.4 168.1h0M376.7 171.1h0M380.9 170.3h0M384.7 167.2h0M384.8 167.1h0M384.5 169.6h0M390.2 169.7h0M384.1 170.9h0M379.1 170.8h0M354.1 167.5h0M363.2 167.7h0M378.8 167.6h0M383.7 171.1h0M358.4 169.0h0M392.1 168.0h0M380.6 167.9h0M388.3 170.1h0M385.5 171.6h0M390.8 171.1h0M383.3 168.0h0M388.4 167.1h0M390.9 168.1h0M389.5 168.6h0M375.0 167.8h0M392.4 168.3h0M386.8 167.0h0M372.4 168.6h0M390.4 168.1h0M367.0 170.0h0M381.4 168.0h0M368.9 167.5h0M362.9 169.1h0M358.1 167.3h0M387.1 168.2h0M351.8 167.4h0M381.3 169.9h0M382.9 169.9h0M387.8 168.9h0M389.1 167.8h0M378.1 167.3h0M370.7 170.9h0M387.4 167.9h0M385.7 169.2h0M376.5 168.9h0M378.1 170.0h0M387.6 167.2h0M380.4 171.0h0M369.8 168.4h0M387.4 169.3h0M382.0 169.2h0M391.2 169.7h0M389.1 168.9h0M384.9 170.0h0M382.4 171.6h0M391.9 168.1h0M382.8 169.3h0M388.6 169.1h0M384.2 169.6h0M391.8 170.5h0M365.7 168.0h0M361.6 168.9h0M380.2 168.9h0M366.5 167.9h0M364.3 167.5h0M360.7 167.0h0M385.1 170.9h0M382.4 167.1h0M356.8 167.2h0M388.6 168.3h0M368.5 169.8h0M382.9 167.6h0M379.9 171.4h0M380.3 169.9h0M386.9 167.1h0M374.2 170.5h0M364.9 168.4h0M391.7 168.8h0M364.4 167.5h0M390.0 171.2h0M378.4 167.4h0M381.9 167.7h0M389.7 170.1h0M368.6 168.5h0M372.1 168.6h0M377.5 167.6h0M370.9 167.4h0M388.0 168.3h0M379.1 169.3h0M387.3 167.9h0M375.3 167.0h0M360.2 167.1h0M370.1 167.6h0M370.3 167.8h0M384.7 170.2h0M355.6 167.5h0M357.0 168.0h0M369.3 169.3h0M363.6 167.3h0M391.6 169.6h0M390.6 167.6h0M385.2 167.4h0M364.7 167.9h0M380.9 167.2h0M375.1 169.9h0M380.6 170.9h0M374.3 170.9h0M376.3 167.6h0M386.5 167.7h0M386.0 169.0h0M386.7 167.9h0M386.5 170.4h0M355.5 167.3h0M385.1 171.1h0M377.4 167.6h0M370.0 167.7h0M390.9 171.4h0M364.7 167.0h0M392.3 168.8h0M382.2 171.2h0M389.5 171.5h0M385.7 167.0h0M380.8 168.0h0M353.4 167.4h0M387.2 170.5h0M376.0 170.8h0M384.3 167.6h0M390.4 170.5h0M361.1 168.2h0M370.4 168.4h0M382.3 167.1h0M382.1 170.8h0M386.8 169.6h0M380.2 167.6h0M380.6 168.7h0M372.2 167.3h0M389.7 168.2h0M390.9 169.9h0M377.4 169.6h0M366.6 167.4h0M361.5 167.0h0M385.9 169.2h0M383.2 168.5h0M386.9 171.2h0M357.8 167.1h0M390.2 169.0h0M387.7 169.0h0M386.9 170.4h0M375.8 167.3h0M390.3 167.4h0M373.7 170.1h0M385.6 171.2h0M390.1 167.6h0M374.6 168.4h0M378.0 170.6h0M384.1 167.3h0M384.9 167.7h0M390.1 169.5h0M383.1 171.3h0M366.2 167.2h0M376.1 168.6h0M386.2 168.6h0M377.4 170.4h0M388.4 169.0h0M359.5 168.2h0M387.3 170.5h0M390.1 169.3h0M381.7 170.5h0M390.6 171.3h0M388.7 169.8h0M390.4 170.5h0M373.8 167.9h0M377.1 167.7h0M384.4 169.2h0M377.7 167.4h0M371.7 170.8h0M385.6 167.1h0M358.6 168.1h0M382.4 167.6h0M385.1 169.7h0M390.7 168.5h0M390.6 169.2h0M413.4 169.8h0M415.9 169.9h0M420.9 169.6h0M434.6 167.9h0M432.4 170.3h0M419.7 168.2h0M428.1 170.3h0M419.5 170.6h0M422.6 168.2h0M428.4 168.5h0M432.4 167.1h0M434.8 169.5h0M456.7 167.8h0M413.1 168.3h0M422.6 168.4h0M415.2 167.6h0M414.3 167.4h0M436.8 167.2h0M437.5 169.6h0M431.9 170.1h0M464.1 169.2h0M424.3 169.4h0M415.2 167.4h0M430.5 168.2h0M415.8 167.6h0M432.2 170.2h0M434.3 169.8h0M415.5 167.2h0M434.0 168.6h0M438.3 169.9h0M435.1 169.3h0M417.6 170.5h0M419.6 169.8h0M420.8 169.3h0M414.1 171.6h0M424.4 168.1h0M420.5 168.4h0M426.6 167.5h0M419.6 168.4h0M422.1 168.7h0M430.2 167.9h0M435.7 167.9h0M471.6 167.3h0M429.2 170.9h0M431.6 170.6h0M450.6 168.5h0M428.2 169.9h0M419.0 167.0h0M424.8 170.9h0M414.4 171.3h0M415.1 168.8h0M432.3 170.8h0M426.2 168.6h0M416.3 167.3h0M424.2 171.3h0M467.0 167.3h0M423.2 169.7h0M442.7 169.4h0M428.4 167.1h0M420.6 167.7h0M414.3 171.4h0M431.3 167.4h0M420.2 170.7h0M448.5 170.4h0M415.0 168.1h0M416.7 171.0h0M419.5 170.6h0M437.9 170.3h0M417.9 169.1h0M432.6 168.7h0M429.1 167.4h0M430.7 168.9h0M442.2 168.5h0M423.8 170.2h0M459.2 168.8h0M449.4 169.2h0M419.9 167.0h0M417.3 167.6h0M474.0 167.0h0M420.5 167.6h0M455.2 168.6h0M441.0 171.2h0M436.2 167.9h0M414.2 171.0h0M479.1 167.7h0M417.6 171.4h0M417.7 169.6h0M425.7 167.8h0M417.2 168.9h0M414.8 168.4h0M441.8 169.8h0M432.1 167.3h0M453.5 169.4h0M423.7 169.6h0M420.3 167.3h0M416.6 169.8h0M423.4 167.3h0M425.6 171.8h0M421.0 169.0h0M420.1 168.4h0M422.6 170.4h0M416.6 169.3h0M429.2 170.6h0M449.6 170.8h0M430.2 170.6h0M412.9 170.1h0M423.7 170.2h0M422.5 171.0h0M441.7 171.2h0M413.1 169.9h0M432.0 169.2h0M447.8 168.2h0M413.0 167.7h0M420.1 168.1h0M416.4 167.4h0M417.7 171.5h0M452.2 170.3h0M434.0 169.8h0M429.7 171.5h0M415.5 167.5h0M426.3 169.8h0M418.8 169.7h0M466.0 168.2h0M419.0 169.0h0M413.5 167.5h0M416.2 167.8h0M453.1 170.8h0M423.6 168.9h0M414.2 169.3h0M440.7 167.2h0M439.2 169.0h0M438.1 168.2h0M456.2 168.0h0M423.4 170.4h0M421.8 168.5h0M427.1 167.6h0M413.2 168.2h0M443.0 170.6h0M468.3 168.4h0M413.7 168.9h0M419.9 167.4h0M424.2 170.9h0M425.3 168.0h0M427.1 170.4h0M457.5 168.7h0M423.6 167.4h0M416.0 167.2h0M426.2 168.1h0M418.5 169.7h0M438.2 170.2h0M417.1 168.1h0M420.5 168.8h0M424.7 167.4h0M425.6 168.3h0M437.7 167.7h0M415.7 168.0h0M438.4 169.6h0M425.7 170.3h0M460.3 168.2h0M438.4 168.7h0M427.6 168.9h0M443.1 170.0h0M455.2 167.4h0M417.4 167.5h0M429.7 167.2h0M441.9 169.1h0M413.4 168.6h0M422.7 168.3h0M448.7 168.0h0M440.6 168.9h0M433.8 170.3h0M444.9 168.8h0M415.0 168.3h0M443.7 170.3h0M429.5 167.7h0M418.9 169.6h0M413.4 167.3h0M425.3 169.3h0M418.0 168.9h0M419.1 170.2h0M436.2 169.1h0M453.2 169.4h0M420.4 168.9h0M419.7 170.0h0M427.1 170.2h0M436.6 171.2h0M429.8 168.1h0M420.3 170.0h0M420.8 167.7h0M453.6 169.4h0M459.9 168.5h0M451.8 169.4h0M414.2 171.1h0M461.3 169.6h0M423.3 171.1h0M419.9 169.1h0M428.2 171.0h0M416.2 170.7h0M419.3 169.7h0M424.8 167.8h0M433.9 168.3h0M421.6 167.9h0M448.4 169.9h0M428.0 169.1h0M428.8 170.1h0M420.7 167.0h0M441.8 170.0h0M418.7 171.2h0M470.4 167.2h0M419.8 170.7h0M428.9 170.9h0M415.9 168.2h0M419.1 168.5h0M434.6 167.3h0M414.2 169.7h0M421.8 169.3h0M419.6 171.8h0M414.1 168.8h0M469.4 168.9h0M414.7 168.0h0M429.6 168.8h0M417.9 167.5h0M440.3 169.6h0M419.9 167.9h0M417.6 170.5h0M417.7 171.8h0M452.6 168.7h0M422.8 171.7h0M419.1 170.7h0M475.7 169.2h0M436.7 169.7h0M442.2 167.9h0M445.4 168.7h0M418.5 168.5h0M445.2 169.0h0M429.8 170.2h0M417.3 167.0h0M414.7 169.7h0M414.8 167.1h0M426.7 168.4h0M424.4 169.0h0M429.9 167.8h0M419.4 170.3h0M428.7 169.8h0M415.1 169.5h0M429.0 167.4h0M415.5 169.2h0M426.1 170.3h0M420.7 171.5h0M423.8 167.3h0M416.6 167.9h0M452.4 169.3h0M442.0 170.6h0M416.0 169.6h0M426.7 168.6h0M413.8 168.8h0M413.4 171.8h0M442.3 169.1h0M413.6 169.1h0M413.8 168.6h0M422.5 168.8h0M441.5 170.2h0M415.2 170.1h0M414.7 168.3h0M429.9 167.2h0M417.7 170.9h0M416.9 171.5h0M417.2 167.1h0M417.9 170.0h0M427.6 167.1h0M418.6 169.0h0M455.1 170.1h0M445.0 168.1h0M416.2 170.1h0M422.9 167.2h0M413.4 168.8h0M434.3 171.3h0M417.7 167.0h0M423.0 168.6h0M439.2 167.8h0M427.6 169.8h0M424.9 170.4h0M419.1 167.9h0M430.6 169.6h0M427.4 170.0h0M414.1 167.8h0M480.7 167.6h0M471.4 169.5h0M416.1 168.6h0M443.5 170.5h0M414.2 169.5h0M434.6 170.1h0M429.8 168.6h0M436.4 169.3h0M463.3 169.1h0M414.1 171.3h0M481.0 168.5h0M434.8 170.5h0M434.8 167.9h0M442.7 167.4h0M440.8 168.4h0M436.3 168.1h0M418.1 168.8h0M428.5 169.0h0M414.2 168.2h0M416.7 168.4h0M426.6 168.0h0M421.6 168.4h0M428.7 169.2h0M419.9 167.9h0M446.0 170.5h0M457.6 169.6h0M421.0 169.8h0M414.5 170.0h0M413.3 169.5h0M425.7 169.0h0M427.8 169.3h0M432.7 168.7h0M454.9 167.0h0M430.1 167.8h0M426.7 168.3h0M428.8 167.7h0M423.6 167.5h0M421.6 169.9h0M429.1 167.4h0M425.4 169.2h0M417.6 171.0h0M425.5 168.3h0M424.0 169.4h0M418.8 167.7h0M423.2 170.4h0M436.5 170.5h0M447.0 167.4h0M421.6 170.9h0M423.8 168.1h0M414.3 168.9h0M423.9 169.0h0M435.4 167.6h0M479.0 167.3h0M416.2 170.2h0M455.0 170.2h0M428.3 169.6h0M416.7 170.1h0M422.8 167.9h0M441.8 168.3h0M435.1 168.3h0M433.4 168.4h0M419.3 170.4h0M417.3 170.7h0M414.7 169.8h0M428.4 168.3h0M416.5 171.2h0M424.5 170.1h0M418.4 170.0h0M460.9 168.5h0M419.3 167.0h0M426.4 169.2h0M415.0 167.8h0M466.7 167.5h0M433.8 169.4h0M436.7 168.3h0M435.4 169.0h0M440.8 168.2h0M418.1 169.8h0M412.9 169.7h0M422.1 169.2h0M424.3 171.1h0M416.6 171.2h0M428.8 169.6h0M454.6 167.5h0M439.8 167.1h0M416.9 169.1h0M426.7 167.0h0M413.4 168.6h0M422.5 169.1h0M412.7 167.7h0M423.8 168.9h0M424.7 170.6h0M433.6 169.0h0M424.7 169.6h0M438.3 167.6h0M432.5 171.4h0M428.5 168.9h0M413.9 168.8h0M413.8 168.9h0M415.4 169.1h0M429.0 169.3h0M415.8 170.4h0M424.6 168.4h0M461.7 167.7h0M446.4 168.2h0M422.8 170.5h0M429.1 171.2h0M414.4 171.5h0M424.5 167.5h0M426.3 169.0h0M418.4 168.7h0M418.1 167.5h0M415.5 167.2h0M451.5 170.2h0M419.4 168.7h0M420.8 169.9h0M418.7 168.4h0M430.9 167.7h0M420.5 170.9h0M441.0 170.1h0M450.4 167.6h0M414.1 169.9h0M422.0 169.0h0M428.0 169.7h0M431.5 169.8h0M428.3 171.3h0M413.7 169.1h0M430.6 169.1h0M413.9 169.4h0M426.8 167.9h0M414.8 167.5h0M439.9 167.6h0M437.4 170.1h0M421.7 171.6h0M430.1 167.9h0M441.2 169.2h0M415.9 167.7h0M432.8 170.2h0M413.7 170.0h0M419.8 168.1h0M426.2 167.2h0M422.8 167.6h0M422.5 169.7h0M434.4 170.0h0M419.2 169.6h0M418.0 168.1h0M419.3 167.5h0M441.8 168.7h0M413.2 168.2h0M415.2 170.7h0M419.6 167.8h0M421.5 171.5h0M459.5 167.3h0M417.8 168.4h0M434.7 169.1h0M451.0 170.6h0M426.9 167.2h0M424.8 167.3h0M421.1 168.9h0M416.3 170.4h0M424.7 170.2h0M426.6 170.0h0M416.2 168.6h0M461.6 170.0h0M431.0 169.5h0M437.9 169.9h0M417.4 171.3h0M421.6 170.6h0M428.1 169.7h0M425.5 170.4h0M413.2 167.4h0M444.3 167.0h0M421.4 169.5h0M456.9 168.4h0M430.2 168.2h0M420.9 167.2h0M444.4 168.1h0M425.1 169.5h0M417.4 170.1h0M428.5 168.5h0M413.6 169.3h0M427.2 169.1h0M415.0 167.3h0M422.4 170.7h0M453.4 170.4h0M453.3 167.1h0M426.9 169.9h0M416.7 169.2h0M453.8 169.8h0M417.1 169.3h0M425.5 169.4h0M418.7 170.9h0M413.3 167.6h0M421.2 171.4h0M441.1 167.7h0M449.4 168.5h0M452.2 169.5h0M423.1 167.9h0M432.6 168.1h0M420.1 170.5h0M420.1 168.1h0M417.6 171.0h0M432.5 167.6h0M416.0 170.0h0M422.3 169.2h0M437.5 167.2h0M414.9 168.6h0M427.8 169.8h0M431.1 171.5h0M415.4 168.8h0M417.7 170.3h0M413.2 170.1h0M416.8 170.6h0M423.1 169.5h0M425.4 167.0h0M419.4 168.0h0M414.4 167.7h0M424.8 168.9h0M414.4 168.6h0M418.0 168.4h0M452.8 169.3h0M420.5 169.0h0M423.3 170.9h0M418.2 169.9h0M413.8 168.3h0M413.4 168.0h0M426.6 168.5h0M422.3 167.5h0M448.9 167.5h0M421.9 167.9h0M421.1 171.6h0M413.2 167.4h0M419.8 171.0h0M433.8 169.9h0M413.1 170.2h0M417.2 167.3h0M415.5 169.3h0M451.6 168.8h0M437.3 169.4h0M421.8 167.8h0M416.4 167.9h0M442.9 169.5h0M443.1 168.0h0M443.7 168.4h0M413.5 169.7h0M423.8 168.4h0M423.3 171.5h0M461.3 170.0h0M432.9 170.4h0M415.2 169.3h0M441.9 169.3h0M443.8 170.0h0M419.4 167.4h0M451.7 169.6h0M434.4 170.5h0M413.7 168.0h0M433.5 167.9h0M424.6 168.3h0M414.9 171.0h0M419.9 167.1h0M464.7 168.2h0M424.1 167.0h0M429.8 170.0h0M418.6 171.7h0M416.3 171.5h0M450.6 168.0h0M435.2 169.0h0M420.5 168.0h0M423.9 167.3h0M444.7 169.9h0M417.1 170.8h0M445.4 168.8h0M435.4 171.2h0M414.7 169.0h0M439.8 171.4h0M422.6 168.1h0M431.2 169.4h0M415.5 169.4h0M438.0 170.3h0M422.4 169.2h0M419.8 167.1h0M428.6 168.1h0M432.8 167.5h0M419.9 170.0h0M422.8 168.6h0M413.3 167.0h0M432.0 171.6h0M443.6 167.4h0M426.2 169.1h0M438.2 170.0h0M419.2 168.3h0M421.8 169.0h0M439.1 169.1h0M449.3 168.0h0M430.7 167.2h0M413.3 168.8h0M431.3 171.2h0M414.2 167.7h0M426.4 169.5h0M426.4 168.0h0M423.5 168.8h0M439.1 169.8h0M422.2 168.9h0M420.0 170.4h0M419.5 168.6h0M424.5 167.4h0M443.3 167.6h0M429.7 168.1h0M413.0 170.4h0M413.0 168.4h0M421.1 170.1h0M417.1 167.1h0M445.3 168.8h0M424.9 167.7h0M448.8 168.0h0M414.2 167.1h0M416.0 167.1h0M424.9 169.6h0M424.5 170.8h0M458.3 170.0h0M424.2 169.2h0M415.0 170.5h0M437.1 168.3h0M422.3 171.0h0M423.6 169.3h0M423.6 168.5h0M440.8 169.2h0M429.9 169.5h0M421.8 170.7h0M418.5 168.6h0M429.8 167.5h0M418.4 170.9h0M421.6 169.9h0M416.2 170.5h0M434.6 170.7h0M417.1 170.4h0M424.3 170.3h0M429.5 169.4h0M423.8 170.2h0M416.3 168.6h0M426.2 167.1h0M442.5 169.1h0M416.7 168.2h0M419.8 167.4h0M473.6 169.1h0M427.2 168.0h0M425.7 169.5h0M422.9 171.0h0M424.0 171.3h0M426.4 169.1h0M444.3 169.0h0M428.6 168.5h0M417.6 168.5h0M417.6 167.0h0M419.9 167.6h0M465.5 169.9h0M426.9 167.3h0M456.1 167.2h0M438.9 169.5h0M423.0 167.4h0M420.5 170.7h0M443.8 168.0h0M437.8 170.8h0M457.9 167.8h0M433.0 170.5h0M464.6 168.3h0M439.6 169.0h0M418.6 167.9h0M417.3 168.3h0M418.1 170.8h0M445.5 168.0h0M417.6 170.2h0M422.7 168.2h0M425.0 167.9h0M429.8 169.1h0M447.2 167.1h0M418.9 170.7h0M419.0 167.8h0M423.5 171.3h0M429.0 167.5h0M418.8 167.6h0M428.9 169.2h0M416.9 169.8h0M431.8 168.6h0M418.3 170.8h0M424.5 167.5h0M422.8 169.3h0M458.9 168.3h0M417.0 170.0h0M444.0 169.5h0M418.5 169.2h0M417.5 167.7h0M433.2 167.5h0M417.7 167.8h0M420.4 170.2h0M416.1 168.2h0M420.1 169.7h0M421.0 169.2h0M423.1 171.0h0M418.6 168.7h0M434.2 170.8h0M413.1 171.5h0M461.7 167.0h0M433.1 170.9h0M424.9 168.4h0M428.8 171.3h0M432.7 169.0h0M440.9 169.1h0M424.5 171.1h0M415.1 168.9h0M432.5 170.8h0M442.6 168.2h0M426.9 169.8h0M419.5 171.5h0M451.5 167.9h0M423.3 169.6h0M421.2 168.8h0M416.2 167.4h0M436.3 168.4h0M413.9 168.8h0M443.6 168.8h0M439.2 169.7h0M426.9 169.0h0M423.4 170.3h0M444.8 168.5h0M420.1 167.6h0M419.7 171.8h0M421.1 169.8h0M427.7 168.4h0M421.7 167.6h0M416.2 169.2h0M422.2 168.5h0M419.9 170.0h0M441.0 170.1h0M417.0 168.5h0M422.6 171.0h0M427.7 167.2h0M415.0 167.5h0M424.6 167.5h0M417.6 170.1h0M420.1 167.7h0M445.8 167.9h0M434.3 168.8h0M439.6 168.6h0M432.8 171.1h0M414.7 171.8h0M416.0 169.0h0M425.2 169.8h0M413.5 168.5h0M444.7 169.0h0M438.3 168.2h0M426.0 167.1h0M431.6 170.1h0M416.9 170.1h0M414.5 167.2h0M435.8 170.6h0M428.5 171.0h0M423.8 168.3h0M422.0 167.5h0M432.5 167.1h0M413.4 170.9h0M423.1 169.3h0M418.2 167.0h0M420.4 170.9h0M419.2 167.3h0M432.3 169.2h0M414.6 171.3h0M418.5 169.6h0M434.7 168.0h0M415.3 170.0h0M425.1 168.5h0M425.3 168.3h0M421.0 167.3h0M424.8 171.1h0M418.4 167.1h0M426.1 170.3h0M454.6 167.0h0M422.2 168.8h0M425.8 168.1h0M417.6 171.4h0M423.1 169.3h0M417.8 170.8h0M461.0 167.1h0M444.8 168.1h0M443.9 168.3h0M421.7 171.0h0M427.7 168.0h0M414.3 168.8h0M422.7 169.4h0M437.8 169.2h0M418.3 170.2h0M421.2 170.5h0M420.4 169.6h0M427.2 170.4h0M430.0 168.6h0M420.4 170.5h0M455.5 169.1h0M413.5 171.8h0M443.4 168.4h0M449.3 167.5h0M424.0 168.0h0M429.5 170.6h0M421.6 168.8h0M427.3 169.6h0M421.9 170.9h0M416.3 169.3h0M466.4 169.3h0M414.3 169.2h0M432.2 168.4h0M418.5 168.6h0M421.0 168.5h0M447.4 169.7h0M437.5 167.5h0M457.3 168.7h0M435.9 167.5h0M443.7 169.9h0M421.7 171.0h0M418.9 168.3h0M438.6 168.3h0M429.6 167.1h0M444.9 171.1h0M472.5 168.0h0M439.3 169.7h0M418.6 167.3h0M437.3 168.6h0M442.6 168.7h0M418.2 169.3h0M421.4 170.7h0M419.8 170.4h0M418.1 170.2h0M426.4 170.9h0M417.2 168.0h0M435.8 167.6h0M415.1 167.1h0M449.3 169.3h0M414.5 170.0h0M429.6 168.5h0M444.6 170.4h0M419.2 170.7h0M426.2 169.7h0M445.1 167.9h0M428.5 169.5h0M456.3 167.4h0M436.6 167.1h0M439.4 167.0h0M417.0 167.9h0M440.4 168.6h0M428.6 167.6h0M429.8 167.1h0M417.7 167.0h0M421.1 169.9h0M458.3 168.1h0M424.0 167.8h0M425.1 171.2h0M420.2 169.4h0M413.4 167.8h0M415.1 167.0h0M419.2 171.4h0M440.0 170.3h0M428.1 171.6h0M418.2 167.4h0M424.3 168.7h0M430.4 167.7h0M425.5 167.3h0M426.6 169.9h0M433.1 170.4h0M445.2 167.2h0M452.3 167.5h0M443.0 169.9h0M432.0 171.1h0M415.5 167.3h0M457.9 168.1h0M413.6 171.3h0M427.2 170.7h0M422.3 167.3h0M432.3 168.0h0M435.2 170.2h0M448.6 168.1h0M426.2 167.6h0M416.8 170.4h0M421.8 168.7h0M427.9 171.2h0M465.3 168.6h0M415.2 170.7h0M457.1 167.7h0M413.7 167.2h0M431.7 169.4h0M427.6 167.0h0M420.1 171.2h0M427.7 168.0h0M421.2 168.9h0M413.7 171.5h0M435.2 167.2h0M419.7 171.8h0M418.3 171.4h0M423.2 168.3h0M414.3 169.4h0M424.2 167.7h0M443.4 169.8h0M425.8 171.0h0M418.2 170.9h0M432.7 168.9h0M425.6 167.1h0M440.7 169.2h0M413.6 170.2h0M446.1 168.3h0M435.7 169.7h0M452.5 167.7h0M435.2 169.3h0M417.8 168.5h0M429.3 169.8h0M446.7 170.1h0M428.8 170.4h0M423.5 171.5h0M430.1 169.5h0M415.0 167.2h0M421.6 167.8h0M435.3 169.8h0M428.5 168.4h0M444.6 170.7h0M414.5 170.9h0M430.0 168.6h0M418.7 169.7h0M433.3 167.2h0M424.6 169.6h0M423.4 171.4h0M417.9 168.9h0M417.5 170.0h0M413.6 167.8h0M428.4 167.7h0M422.8 167.2h0M417.3 170.6h0M423.1 168.2h0M430.8 170.1h0M470.9 167.7h0M417.4 169.6h0M423.1 167.3h0M426.9 169.9h0M477.3 169.2h0M439.9 168.1h0M458.8 168.2h0M423.4 167.4h0M423.5 167.9h0M424.8 170.2h0M415.8 167.8h0M452.7 170.8h0M435.2 168.7h0M429.1 169.4h0M420.4 169.3h0M414.6 168.6h0M427.3 170.9h0M439.5 167.8h0M434.8 167.9h0M462.7 168.7h0M419.3 168.4h0M425.5 168.3h0M442.4 167.0h0M446.8 168.0h0M427.0 171.5h0M422.9 170.5h0M423.5 170.7h0M416.5 171.9h0M424.7 167.3h0M418.7 168.9h0M420.3 171.3h0M423.5 170.6h0M428.7 170.2h0M422.5 167.6h0M424.2 170.0h0M425.8 170.0h0M430.0 169.0h0M433.4 167.6h0M459.6 169.7h0M425.0 170.2h0M420.8 169.0h0M456.5 169.3h0M429.4 171.2h0M430.8 171.0h0M413.3 171.8h0M418.5 168.6h0M422.3 168.8h0M451.0 170.3h0M413.8 169.2h0M425.0 169.0h0M450.7 169.6h0M422.7 167.6h0M429.4 168.0h0M429.4 169.2h0M430.7 169.2h0M424.3 168.9h0M414.6 168.0h0M413.4 168.8h0M417.9 170.6h0M418.8 167.4h0M413.8 169.0h0M437.0 168.5h0M427.2 171.5h0M420.4 170.9h0M447.6 169.0h0M433.7 170.3h0M420.4 171.0h0M419.9 171.5h0M439.8 168.1h0M449.4 168.0h0M428.7 168.4h0M420.3 169.6h0M418.7 168.4h0M423.2 170.1h0M415.0 168.6h0M418.3 171.4h0M416.6 167.9h0M415.8 168.1h0M436.1 169.8h0M416.1 171.6h0M419.2 170.0h0M425.7 169.2h0M459.0 167.6h0M418.0 171.5h0M443.3 169.0h0M442.2 170.1h0M450.5 169.2h0M421.9 168.0h0M420.1 171.0h0M415.1 169.8h0M441.3 167.2h0M455.3 167.2h0M428.6 168.1h0M434.7 169.1h0M463.8 167.4h0M416.5 167.2h0M426.6 168.6h0M436.5 168.8h0M419.2 168.3h0M447.0 169.7h0M416.9 168.2h0M458.2 169.1h0M449.0 170.5h0M415.3 168.7h0M454.5 169.2h0M419.1 167.5h0M418.7 169.9h0M432.6 167.6h0M418.4 167.7h0M435.1 167.4h0M417.7 167.2h0M421.3 170.5h0M431.4 168.2h0M452.6 167.0h0M418.2 170.9h0M416.2 169.4h0M436.9 167.5h0M423.5 170.7h0M420.5 168.6h0M429.4 167.6h0M423.7 169.1h0M443.5 170.3h0M414.1 167.4h0M426.2 170.5h0M431.5 170.1h0M421.0 168.8h0M415.6 170.7h0M416.7 167.5h0M417.6 168.0h0M432.9 167.3h0M456.6 169.9h0M430.4 170.2h0M427.0 168.9h0M430.8 170.8h0M442.0 167.8h0M414.0 171.5h0M415.7 169.2h0M417.0 169.0h0M441.3 168.7h0M428.1 169.9h0M468.5 167.1h0M431.6 168.0h0M433.6 167.4h0M447.1 168.3h0M467.1 167.3h0M453.4 168.2h0M415.8 167.3h0M445.3 167.8h0M414.3 167.0h0M419.4 168.0h0M458.9 167.0h0M421.1 171.1h0M419.5 170.1h0M420.2 167.1h0M450.3 169.5h0M415.2 167.2h0M417.5 167.0h0M414.8 168.4h0M434.7 170.6h0M413.9 168.1h0M421.0 170.1h0M431.3 169.0h0M415.9 171.7h0M414.3 168.2h0M417.9 167.6h0M414.4 170.3h0M437.5 167.2h0M426.6 171.6h0M413.3 170.6h0M422.0 167.2h0M424.0 171.1h0M442.3 168.9h0M414.3 171.5h0M432.4 168.3h0M480.4 167.3h0M432.0 169.9h0M418.6 170.1h0M421.7 169.5h0M413.8 170.4h0M424.3 167.0h0M442.8 167.2h0M458.4 167.0h0M434.7 168.3h0M446.2 167.3h0M417.7 167.4h0M419.3 167.8h0M428.4 167.8h0M423.0 168.4h0M418.4 171.6h0M431.2 169.6h0M453.0 169.2h0M422.8 168.6h0M414.9 169.3h0M444.7 168.9h0M451.0 167.4h0M437.6 168.4h0M454.2 168.6h0M457.2 168.1h0M427.3 170.0h0M444.5 168.6h0M440.8 171.4h0M414.0 169.8h0M429.9 169.0h0M418.7 168.9h0M441.8 168.5h0M418.8 169.3h0M416.8 169.1h0M423.7 171.2h0M427.9 169.0h0M474.4 167.7h0M414.8 170.4h0M446.4 167.7h0M419.8 167.0h0M440.0 167.3h0M418.7 167.4h0M416.9 171.4h0M416.1 167.6h0M445.8 169.9h0M429.0 167.1h0M421.2 167.6h0M417.6 171.4h0M416.0 167.8h0M442.7 170.8h0M460.7 167.4h0M424.8 167.5h0M416.8 167.1h0M417.9 169.4h0M414.8 167.1h0M422.4 168.7h0M413.1 169.5h0M428.5 169.4h0M420.3 170.7h0M444.3 167.2h0M414.8 170.3h0M421.7 168.0h0M425.6 170.0h0M421.3 169.7h0M416.5 170.0h0M423.1 168.5h0M417.1 169.1h0M423.2 168.4h0M421.7 167.2h0M421.6 169.0h0M414.8 171.8h0M435.8 170.2h0M431.0 169.0h0M435.4 169.3h0M445.8 167.1h0M413.3 167.3h0M418.9 169.3h0M426.8 167.6h0M413.1 170.8h0M423.4 169.1h0M455.0 169.0h0M423.0 167.9h0M443.0 168.1h0M414.7 167.8h0M416.1 168.9h0M426.3 167.8h0M430.4 169.5h0M416.8 167.6h0M421.4 169.7h0M422.1 167.7h0M423.3 170.9h0M437.7 170.7h0M419.6 170.7h0M437.3 169.8h0M451.3 168.5h0M449.4 170.0h0M417.2 167.7h0M418.7 170.2h0M427.9 167.3h0M456.8 170.7h0M415.5 171.0h0M425.0 171.3h0M425.1 169.2h0M436.0 168.2h0M441.1 169.8h0M423.0 170.0h0M421.1 170.7h0M414.6 167.1h0M419.7 168.3h0M481.7 167.5h0M434.4 167.3h0M439.4 170.8h0M419.4 168.8h0M426.1 168.9h0M420.5 168.5h0M415.1 169.1h0M420.5 168.2h0M449.5 167.7h0M438.0 167.4h0M417.8 170.7h0M472.6 169.5h0M420.6 169.6h0M423.0 170.3h0M426.7 168.7h0M449.2 168.4h0M415.7 169.7h0M435.2 168.1h0M418.2 168.9h0M422.4 167.2h0M449.5 170.4h0M429.7 167.7h0M435.1 169.9h0M425.0 168.6h0M416.1 169.4h0M438.7 169.1h0M424.1 169.4h0M440.8 167.9h0M419.8 169.2h0M426.3 169.4h0M455.9 167.9h0M436.7 169.0h0M417.1 167.8h0M427.2 171.2h0M434.3 167.2h0M462.5 169.3h0M420.2 167.4h0M439.7 171.1h0M427.4 167.9h0M438.7 169.6h0M420.7 167.5h0M413.9 170.2h0M425.7 167.9h0M421.6 169.4h0M444.3 167.4h0M421.3 169.0h0M416.1 171.3h0M423.6 170.0h0M417.6 171.8h0M424.9 169.9h0M422.3 169.5h0M420.1 168.4h0M413.1 167.3h0M425.8 169.3h0M421.9 171.5h0M423.5 171.5h0M434.5 169.1h0M425.8 170.8h0M464.7 168.6h0M466.1 167.5h0M417.4 171.8h0M420.6 167.4h0M438.9 170.8h0M427.4 168.0h0M449.1 169.7h0M421.5 168.5h0M418.5 171.2h0M414.0 170.5h0M414.0 169.9h0M425.1 168.3h0M429.0 168.4h0M436.0 168.4h0M422.9 168.0h0M421.0 167.4h0M422.6 170.1h0M421.8 168.5h0M419.2 168.3h0M425.2 168.6h0M466.4 168.6h0M429.4 170.2h0M425.4 170.0h0M446.4 169.2h0M422.2 168.4h0M417.3 167.0h0M420.7 168.1h0M446.3 169.1h0M422.3 167.2h0M419.5 169.6h0M423.8 168.8h0M429.5 168.5h0M448.3 169.9h0M429.6 168.1h0M423.2 167.9h0M416.0 168.9h0M414.3 168.4h0M422.3 171.2h0M422.6 167.6h0M424.6 170.7h0M463.7 169.0h0M426.7 167.7h0M432.5 167.2h0M419.7 168.7h0M413.1 169.9h0M423.3 170.6h0M413.6 169.0h0M419.7 167.5h0M432.2 169.2h0M422.8 171.4h0M418.6 169.9h0M415.2 170.6h0M419.0 169.6h0M437.3 168.0h0M456.6 170.1h0M422.3 167.7h0M447.3 167.8h0M452.4 170.8h0M437.7 167.9h0M460.4 169.0h0M446.2 167.3h0M437.0 167.4h0M419.2 167.7h0M416.0 168.5h0M454.8 168.3h0M431.0 168.4h0M420.9 168.7h0M423.1 167.1h0M433.3 169.0h0M437.5 171.3h0M469.8 167.3h0M419.2 171.0h0M423.8 167.2h0M434.1 167.3h0M427.4 168.3h0M434.8 167.4h0M441.7 169.6h0M420.4 168.0h0M418.5 168.2h0M428.7 170.0h0M419.5 168.0h0M416.8 170.0h0M452.6 168.4h0M417.1 167.3h0M415.8 167.9h0M413.0 168.8h0M432.0 170.3h0M420.1 170.3h0M449.6 168.4h0M419.2 168.8h0M428.8 169.3h0M428.5 168.5h0M467.6 167.1h0M413.7 167.7h0M454.0 168.2h0M423.0 167.2h0M424.0 171.3h0M448.9 168.3h0M418.2 170.0h0M427.9 170.6h0M418.3 167.0h0M417.3 167.7h0M452.8 168.1h0M422.7 169.7h0M417.6 168.1h0M458.5 167.4h0M462.7 168.9h0M428.4 167.7h0M422.2 167.3h0M416.8 171.2h0M433.3 167.7h0M424.7 169.3h0M446.7 169.0h0M440.4 168.1h0M439.8 169.3h0M442.5 171.3h0M427.6 169.3h0M414.7 168.1h0M417.1 170.1h0M422.3 170.4h0M420.0 167.5h0M418.7 170.6h0M427.9 167.7h0M424.3 170.9h0M415.2 168.6h0M414.3 169.5h0M423.0 167.1h0M429.1 167.6h0M449.8 167.6h0M440.6 167.6h0M423.1 167.5h0M422.9 170.5h0M416.3 167.3h0M429.0 167.7h0M474.5 169.3h0M415.3 167.8h0M415.8 167.4h0M460.1 169.1h0M458.4 167.3h0M445.8 168.8h0M439.1 167.4h0M434.6 170.4h0M432.3 169.8h0M430.0 168.3h0M447.8 168.1h0M414.8 169.8h0M423.8 168.2h0M417.4 169.9h0M419.2 167.2h0M449.6 168.3h0M423.8 167.3h0M424.6 169.6h0M457.0 167.7h0M426.6 169.4h0M453.8 167.3h0M427.5 169.1h0M412.8 171.2h0M417.9 169.7h0M466.9 169.1h0M441.3 167.0h0M419.0 167.8h0M423.7 167.7h0M465.5 169.8h0M414.8 167.3h0M429.7 167.7h0M416.7 169.1h0M427.2 170.0h0M422.0 170.6h0M426.9 170.1h0M428.9 171.3h0M415.7 168.8h0M415.4 168.7h0M423.2 168.5h0M443.6 169.6h0M420.7 170.3h0M441.6 169.4h0M429.1 169.9h0M422.7 167.6h0M421.9 169.6h0M435.0 170.8h0M472.9 168.1h0M418.0 170.0h0M413.2 170.9h0M429.1 169.3h0M417.2 168.2h0M413.4 171.0h0M431.0 167.8h0M439.0 167.9h0M419.4 168.1h0M417.7 169.3h0M423.0 169.7h0M419.0 170.6h0M422.2 167.6h0M415.8 167.6h0M444.0 170.3h0M444.5 169.9h0M434.8 170.4h0M424.9 170.2h0M437.0 168.1h0M414.9 169.9h0M440.9 168.3h0M439.2 167.6h0M454.4 168.2h0M467.7 169.8h0M439.7 168.6h0M426.9 167.5h0M423.9 169.5h0M420.0 171.6h0M421.6 170.9h0M415.0 168.9h0M440.0 170.6h0M426.3 167.5h0M431.1 170.3h0M416.8 170.2h0M426.4 169.4h0M447.4 171.2h0M443.4 167.5h0M421.4 171.1h0M414.2 169.2h0M470.0 169.3h0M413.4 171.1h0M415.6 168.1h0M424.7 167.4h0M427.4 167.9h0M413.4 169.3h0M414.7 167.9h0M424.6 168.7h0M440.5 168.0h0M425.7 167.6h0M415.2 170.7h0M415.8 167.8h0M422.0 170.3h0M421.4 168.0h0M440.2 170.2h0M424.5 170.2h0M438.2 170.8h0M414.6 168.2h0M424.3 169.3h0M425.2 167.0h0M420.0 167.9h0M438.2 168.9h0M426.9 169.5h0M427.0 170.1h0M435.4 167.2h0M435.9 168.3h0M419.1 168.7h0M434.2 168.4h0M431.1 167.4h0M443.1 169.8h0M414.2 171.3h0M426.3 171.5h0M425.8 170.1h0M445.9 169.6h0M433.8 167.5h0M422.1 169.0h0M441.3 169.7h0M418.0 169.2h0M440.1 168.5h0M452.0 168.7h0M422.6 171.4h0M413.7 167.6h0M446.0 170.7h0M432.6 168.7h0M457.8 167.2h0M420.7 168.8h0M417.6 167.2h0M428.7 169.5h0M430.1 168.5h0M442.4 170.0h0M476.8 167.1h0M414.3 169.4h0M449.4 170.1h0M433.3 170.0h0M416.0 168.2h0M429.4 168.7h0M425.3 167.9h0M416.7 171.2h0M415.1 169.4h0M419.3 167.7h0M440.1 168.2h0M414.5 167.4h0M426.7 170.3h0M429.8 170.2h0M458.3 169.0h0M438.3 169.4h0M418.8 167.8h0M422.6 168.9h0M445.5 169.1h0M429.2 168.7h0M415.4 170.1h0M418.4 171.2h0M421.8 168.9h0M428.1 168.1h0M435.3 168.5h0M428.9 168.2h0M426.9 167.2h0M440.4 167.1h0M415.0 168.2h0M434.4 170.7h0M415.4 171.3h0M442.2 169.1h0M414.8 168.4h0M417.0 170.7h0M454.4 167.0h0M415.2 169.4h0M422.7 169.0h0M418.2 167.3h0M423.4 170.3h0M418.2 169.3h0M413.9 171.5h0M443.8 170.0h0M427.7 171.3h0M419.7 168.4h0M425.3 168.1h0M418.4 167.1h0M425.0 168.2h0M427.6 168.9h0M427.5 170.8h0M413.0 168.6h0M413.7 170.3h0M419.4 167.0h0M415.8 167.6h0M420.2 167.7h0M419.3 168.3h0M421.3 171.1h0M412.8 167.8h0M449.3 167.1h0M416.3 169.4h0M413.0 170.7h0M413.6 167.0h0M444.2 168.9h0M426.7 168.8h0M419.5 171.2h0M414.5 168.3h0M432.5 168.4h0M448.5 169.7h0M424.6 170.9h0M429.3 168.8h0M425.7 167.2h0M416.6 168.5h0M452.1 167.1h0M418.7 170.8h0M417.5 167.4h0M416.8 170.9h0M440.7 170.4h0M415.7 167.6h0M429.6 167.0h0M415.3 167.6h0M440.5 168.6h0M431.0 168.9h0M420.3 170.6h0M425.1 170.6h0M441.1 168.9h0M448.7 167.4h0M456.3 168.2h0M435.8 168.1h0M448.3 168.3h0M439.1 167.3h0M425.9 168.6h0M434.8 167.0h0M431.0 170.0h0M423.5 171.6h0M443.4 169.3h0M429.7 168.6h0M416.3 167.0h0M437.7 170.0h0M419.6 167.8h0M441.8 169.5h0M414.8 169.7h0M415.1 170.0h0M429.7 167.2h0M417.5 169.4h0M466.6 167.1h0M453.2 169.0h0M416.9 171.7h0M414.6 168.3h0M436.0 167.6h0M417.5 168.0h0M417.0 169.5h0M437.4 169.5h0M430.4 168.4h0M415.2 168.7h0M435.2 168.6h0M425.4 168.6h0M418.6 168.2h0M419.1 171.4h0M413.2 167.9h0M427.4 167.2h0M439.7 169.9h0M434.0 169.3h0M417.3 171.1h0M418.6 170.7h0M453.0 169.3h0M427.9 170.6h0M420.5 168.2h0M465.8 169.5h0M419.0 168.0h0M427.7 167.5h0M448.1 168.7h0M425.6 167.2h0M424.7 169.8h0M416.3 170.6h0M449.8 168.4h0M444.9 167.4h0M432.1 167.0h0M474.0 167.8h0M422.4 168.6h0M418.5 168.1h0M419.3 167.9h0M436.1 167.3h0M415.9 167.5h0M419.5 168.0h0M434.1 167.9h0M426.7 169.8h0M431.3 169.1h0M431.9 170.9h0M450.9 170.0h0M417.7 167.6h0M413.3 168.1h0M426.9 169.9h0M432.0 170.7h0M419.3 168.1h0M430.8 171.0h0M445.7 170.3h0M425.5 170.2h0M440.0 167.0h0M420.5 170.5h0M416.9 167.3h0M430.5 170.4h0M423.8 169.7h0M429.5 167.3h0M430.4 168.9h0M422.5 167.6h0M421.5 168.7h0M426.2 169.2h0M447.4 167.7h0M418.5 168.5h0M416.8 167.4h0M450.3 167.1h0M439.7 169.6h0M425.4 167.1h0M425.7 169.9h0M415.0 167.5h0M421.9 169.5h0M418.3 170.7h0M419.1 170.3h0M434.1 168.6h0M423.2 169.3h0M415.8 169.5h0M428.2 168.2h0M438.0 170.6h0M442.1 168.9h0M429.4 170.5h0M413.2 167.3h0M421.1 170.4h0M422.7 167.2h0M416.4 168.1h0M423.6 170.4h0M414.5 170.2h0M434.1 168.6h0M467.0 167.7h0M423.6 167.5h0M414.4 167.1h0M428.4 169.4h0M419.3 169.2h0M419.1 170.6h0M414.0 170.5h0M427.7 169.6h0M436.9 170.2h0M422.1 167.7h0M431.3 169.1h0M419.8 171.2h0M418.9 167.6h0M436.4 167.8h0M417.1 167.4h0M439.7 168.3h0M433.7 169.8h0M442.6 167.4h0M423.1 167.4h0M421.3 167.3h0M420.7 167.2h0M413.9 168.3h0M428.0 168.1h0M459.5 169.4h0M422.1 169.0h0M417.2 168.9h0M415.5 167.6h0M457.1 169.3h0M419.0 168.0h0M472.5 167.1h0M418.9 167.7h0M453.4 169.8h0M413.2 167.7h0M424.4 167.0h0M422.5 168.6h0M436.3 168.9h0M443.2 170.7h0M420.7 169.0h0M424.1 169.8h0M417.1 170.5h0M464.1 167.3h0M422.4 167.4h0M426.2 167.3h0M423.9 168.6h0M418.6 170.2h0M433.4 168.2h0M413.7 168.5h0M450.7 168.9h0M419.6 170.9h0M429.5 170.6h0M416.8 171.4h0M418.0 170.5h0M418.7 168.6h0M431.9 170.4h0M421.0 168.4h0M414.4 171.7h0M429.0 168.1h0M431.0 168.3h0M435.3 169.5h0M419.5 168.1h0M445.9 170.3h0M417.6 170.3h0M429.9 167.5h0M423.4 167.5h0M480.9 168.7h0M445.6 169.3h0M427.3 167.9h0M416.8 169.6h0M414.7 170.7h0M423.6 168.4h0M456.7 167.7h0M459.3 167.5h0M422.5 167.0h0M416.3 170.9h0M430.4 167.1h0M414.6 167.5h0M423.3 169.5h0M432.1 170.5h0M443.2 167.0h0M433.9 167.3h0M413.2 171.6h0M418.7 170.2h0M426.9 168.4h0M433.9 168.8h0M415.5 171.4h0M426.8 170.1h0M442.0 169.4h0M416.7 168.1h0M437.4 169.2h0M424.8 168.7h0M419.0 167.8h0M429.8 168.2h0M423.0 167.9h0M418.5 169.2h0M420.3 170.4h0M414.8 170.8h0M432.0 170.4h0M440.4 168.0h0M416.0 167.6h0M418.2 169.7h0M419.2 167.8h0M424.8 167.7h0M439.1 167.9h0M413.3 170.8h0M426.7 167.7h0M420.4 169.8h0M439.5 170.9h0M430.2 170.4h0M426.1 170.9h0M413.6 171.5h0M433.9 170.3h0M420.4 169.3h0M423.6 169.3h0M425.8 168.1h0M413.0 170.6h0M422.2 169.3h0M457.3 168.3h0M415.4 168.3h0M417.2 169.0h0M416.7 169.3h0M414.8 168.5h0M449.2 170.5h0M417.4 169.8h0M422.2 170.4h0M414.7 168.8h0M426.5 169.8h0M416.4 170.0h0M423.1 169.3h0M421.4 169.1h0M419.9 169.6h0M421.8 167.5h0M436.7 168.7h0M454.0 167.2h0M413.1 167.5h0M431.3 170.6h0M417.0 168.4h0M449.0 168.2h0M426.1 169.0h0M418.3 170.2h0M422.5 169.5h0M426.5 168.2h0M427.6 168.5h0M420.2 170.8h0M428.3 170.8h0M427.7 167.3h0M418.5 168.2h0M413.4 169.5h0M427.5 171.1h0M413.8 168.1h0M457.6 167.2h0M424.8 167.6h0M429.8 170.8h0M413.2 169.9h0M418.9 169.3h0M430.6 169.5h0M419.1 171.4h0M426.1 168.7h0M416.3 171.8h0M427.3 169.0h0M441.8 169.5h0M428.3 168.6h0M415.5 168.8h0M433.6 167.8h0M438.2 168.1h0M422.9 167.1h0M454.8 168.1h0M414.6 171.0h0M415.2 168.4h0M417.7 168.8h0M439.3 168.9h0M431.6 169.8h0M418.0 168.8h0M433.3 167.5h0M445.9 169.1h0M421.6 171.3h0M434.4 171.3h0M451.2 170.3h0M430.2 170.8h0M448.7 168.8h0M452.6 167.2h0M420.5 170.6h0M414.7 167.4h0M422.6 169.3h0M415.2 169.3h0M421.1 171.1h0M430.4 168.4h0M413.4 169.2h0M424.4 167.9h0M417.8 167.1h0M426.3 168.8h0M421.1 171.8h0M414.7 170.8h0M425.6 168.5h0M418.9 167.9h0M430.9 168.6h0M428.6 167.6h0M414.0 168.5h0M419.4 169.7h0M421.8 167.8h0M419.8 170.2h0M429.3 169.3h0M439.6 168.7h0M425.8 168.1h0M416.7 167.9h0M432.1 167.3h0M440.8 169.4h0M432.2 171.4h0M456.2 168.1h0M417.1 167.2h0M427.6 170.0h0M421.9 169.8h0M414.3 169.3h0M430.7 168.8h0M434.6 167.2h0M426.5 169.3h0M414.5 171.8h0M436.7 169.7h0M432.0 167.2h0M448.4 170.7h0M438.5 167.2h0M432.5 169.7h0M438.3 169.9h0M426.7 168.4h0M436.9 167.6h0M452.3 169.2h0M422.6 169.8h0M429.6 169.9h0M435.4 170.1h0M421.8 168.3h0M424.0 171.6h0M446.2 167.6h0M419.8 167.3h0M415.9 167.4h0M416.0 171.2h0M423.8 170.5h0M458.6 169.8h0M422.8 169.0h0M446.7 170.9h0M427.9 170.7h0M423.1 170.0h0M423.2 168.0h0M415.5 168.6h0M414.3 168.3h0M430.6 167.9h0M418.6 168.9h0M453.1 167.4h0M430.9 170.6h0M428.5 168.4h0M438.0 170.4h0M416.8 171.2h0M442.7 167.4h0M419.3 168.0h0M444.8 168.1h0M436.6 167.8h0M426.3 170.3h0M415.0 168.3h0M431.7 169.8h0M430.3 168.8h0M437.8 167.8h0M444.0 169.1h0M439.5 170.3h0M413.5 167.7h0M424.4 169.4h0M448.6 168.9h0M418.0 170.7h0M445.8 170.5h0M434.9 169.0h0M429.8 169.7h0M444.3 167.6h0M472.5 169.6h0M420.7 168.7h0M421.6 171.5h0M443.9 167.3h0M443.1 167.3h0M421.8 168.6h0M430.9 167.5h0M424.0 168.1h0M417.8 169.0h0M453.8 168.0h0M418.6 171.5h0M415.2 169.1h0M415.6 167.2h0M436.5 169.6h0M432.7 167.1h0M448.6 169.3h0M433.2 168.1h0M416.9 167.2h0M412.8 171.3h0M465.9 167.0h0M415.8 169.9h0M420.7 168.1h0M449.0 168.0h0M426.6 171.5h0M419.8 170.3h0M420.5 167.0h0M427.7 168.4h0M413.8 169.6h0M414.3 169.0h0M427.4 167.3h0M455.3 170.3h0M459.8 168.8h0M456.4 170.7h0M416.9 168.4h0M424.0 167.9h0M420.1 171.1h0M416.4 169.8h0M419.1 168.9h0M449.1 167.8h0M421.1 169.5h0M457.4 167.2h0M437.3 168.5h0M427.5 170.6h0M414.2 168.3h0M439.3 168.1h0M415.8 167.5h0M424.5 171.6h0M417.0 170.1h0M412.9 171.7h0M431.5 170.3h0M432.6 170.4h0M439.6 168.7h0M427.9 168.3h0M428.9 168.8h0M412.8 168.7h0M443.8 168.9h0M414.0 167.3h0M422.5 171.1h0M469.9 167.7h0M418.7 170.1h0M417.3 168.6h0M423.6 169.9h0M429.8 169.3h0M420.2 170.9h0M414.1 167.7h0M423.5 168.9h0M423.1 168.0h0M469.0 167.9h0M452.3 169.4h0M427.1 169.6h0M415.3 168.3h0M422.4 169.6h0M427.0 168.7h0M419.1 169.9h0M424.6 167.5h0M424.3 168.0h0M416.4 169.2h0M435.7 168.5h0M418.3 171.1h0M424.1 171.4h0M429.1 168.3h0M427.6 168.0h0M418.5 171.1h0M425.6 167.6h0M445.9 169.1h0M422.3 170.7h0M432.7 169.3h0M424.9 170.7h0M417.0 170.9h0M413.8 169.5h0M429.5 167.3h0M447.0 168.2h0M428.4 167.9h0M427.0 168.4h0M424.0 169.1h0M443.7 169.0h0M419.9 168.1h0M416.3 171.2h0M434.2 168.1h0M461.5 167.5h0M419.7 167.4h0M414.5 167.5h0M428.0 168.6h0M414.8 168.2h0M423.7 168.7h0M423.4 168.6h0M420.1 170.7h0M416.0 169.0h0M428.6 167.1h0M420.3 168.6h0M416.4 167.4h0M421.6 169.8h0M429.0 168.2h0M451.4 168.3h0M446.7 167.3h0M434.8 168.5h0M415.7 168.1h0M437.0 167.0h0M435.4 170.5h0M428.7 169.3h0M459.0 167.2h0M416.9 167.0h0M431.8 170.2h0M430.9 170.3h0M413.3 171.2h0M441.7 167.0h0M420.7 170.6h0M423.0 170.9h0M423.9 167.9h0M456.8 169.3h0M419.5 170.1h0M425.2 171.3h0M467.2 168.7h0M414.9 171.7h0M417.6 167.6h0M425.1 168.6h0M422.7 169.6h0M470.9 167.2h0M414.4 167.6h0M424.5 167.3h0M419.5 169.3h0M431.3 168.5h0M437.7 168.7h0M417.7 171.4h0M426.1 167.6h0M423.2 169.5h0M412.9 171.4h0M425.1 167.9h0M420.2 167.4h0M420.2 168.3h0M430.0 169.0h0M415.7 169.1h0M428.2 169.3h0M444.7 168.8h0M417.3 168.5h0M423.2 170.3h0M417.0 168.0h0M418.8 171.3h0M413.7 169.0h0M414.8 169.5h0M441.6 169.4h0M438.2 168.5h0M414.6 167.0h0M415.5 169.7h0M459.2 168.7h0M426.1 169.7h0M413.1 168.3h0M440.6 169.7h0M418.0 170.6h0M429.3 170.4h0M413.7 168.6h0M446.9 168.9h0M447.3 171.0h0M465.8 168.1h0M417.2 168.6h0M448.3 170.1h0M421.0 169.4h0M428.7 168.2h0M416.0 168.4h0M413.6 169.8h0M433.5 168.2h0M453.5 167.2h0M417.9 169.4h0M426.3 167.3h0M430.2 168.5h0M468.2 169.3h0M418.0 170.0h0M427.6 170.7h0M434.3 168.9h0M417.3 167.0h0M438.7 168.0h0M417.6 170.9h0M436.9 168.7h0M423.6 170.5h0M415.9 170.5h0M450.6 167.5h0M445.7 170.7h0M418.7 171.6h0M421.8 167.0h0M419.9 168.3h0M421.9 167.0h0M426.6 169.2h0M422.6 167.0h0M423.0 171.1h0M420.3 169.6h0M426.5 167.0h0M423.7 170.6h0M435.4 167.8h0M419.0 168.4h0M432.4 167.9h0M416.2 168.8h0M427.0 167.5h0M417.4 168.7h0M416.2 169.5h0M415.1 168.2h0M415.3 170.9h0M422.6 167.9h0M426.2 170.6h0M413.3 171.7h0M415.3 171.3h0M419.0 170.5h0M422.0 170.7h0M432.6 168.1h0M430.3 167.9h0M415.1 171.1h0M422.9 167.5h0M413.7 167.9h0M413.0 169.4h0M415.1 167.2h0M466.2 169.9h0M413.4 170.3h0M419.6 168.6h0M422.5 168.4h0M424.5 170.1h0M433.0 169.3h0M429.7 168.5h0M415.5 171.7h0M434.0 167.0h0M443.8 168.6h0M455.4 167.6h0M413.2 170.5h0M419.5 168.2h0M463.4 167.2h0M418.7 171.7h0M423.6 168.2h0M435.2 167.7h0M429.2 167.9h0M414.3 170.3h0M451.4 170.7h0M414.7 167.5h0M420.9 167.0h0M437.7 167.5h0M436.9 169.7h0M421.8 167.9h0M417.3 168.2h0M413.3 167.9h0M432.7 169.7h0M416.3 168.6h0M425.7 167.2h0M415.4 169.8h0M431.9 170.7h0M421.1 171.2h0M429.2 167.9h0M424.5 167.2h0M417.4 171.8h0M417.7 169.0h0M414.2 167.6h0M421.9 168.3h0M419.3 168.1h0M417.3 169.6h0M448.9 171.0h0M421.4 171.5h0M421.5 168.5h0M436.2 168.5h0M423.2 168.2h0M417.6 171.2h0M419.0 169.8h0M423.2 167.2h0M429.1 169.8h0M420.7 169.3h0M429.0 170.2h0M426.2 168.5h0M425.0 169.0h0M424.7 168.2h0M443.4 169.9h0M436.5 171.2h0M427.7 168.2h0M433.7 171.1h0M416.9 168.6h0M419.6 168.3h0M421.5 168.7h0M422.8 167.6h0M417.9 167.3h0M413.4 167.1h0M421.9 168.8h0M451.2 167.0h0M415.5 169.4h0M430.9 168.8h0M419.0 168.4h0M436.9 169.5h0M422.7 169.8h0M444.6 169.7h0M416.5 168.7h0M456.6 168.8h0M422.8 167.6h0M451.5 170.2h0M413.2 171.4h0M424.4 167.0h0M416.1 168.3h0M418.6 170.4h0M417.3 167.0h0M418.4 167.3h0M471.1 168.1h0M414.8 171.0h0M427.3 168.5h0M445.5 168.4h0M417.5 167.0h0M418.5 168.1h0M438.8 168.5h0M439.9 168.1h0M424.5 167.3h0M415.9 170.4h0M424.8 170.9h0M418.5 169.1h0M436.7 167.3h0M414.4 171.1h0M415.0 170.5h0M427.5 168.9h0M421.7 169.2h0M416.4 168.9h0M432.5 169.8h0M442.4 169.6h0M415.2 169.8h0M439.0 168.2h0M414.4 168.2h0M442.6 168.1h0M420.4 171.2h0M423.1 171.5h0M415.7 169.9h0M444.0 170.0h0M417.6 167.6h0M413.7 171.0h0M426.4 170.9h0M428.1 168.8h0M423.2 171.8h0M416.3 167.6h0M440.5 170.2h0M425.0 170.9h0M448.3 167.1h0M442.5 169.3h0M426.0 167.8h0M459.8 167.4h0M436.1 168.0h0M445.3 169.6h0M414.8 168.0h0M416.1 167.2h0M417.6 167.6h0M448.1 170.7h0M439.7 167.8h0M427.5 168.8h0M430.6 168.6h0M415.5 167.1h0M422.9 168.8h0M413.5 169.3h0M440.7 168.3h0M423.4 170.3h0M416.7 167.1h0M412.8 168.8h0M432.9 167.5h0M414.6 171.1h0M424.6 168.1h0M419.0 170.6h0M448.8 167.5h0M424.5 169.4h0M417.5 170.1h0M420.9 168.9h0M429.8 168.0h0M427.3 167.2h0M423.5 168.6h0M420.0 168.8h0M418.1 168.8h0M414.0 167.1h0M412.8 167.0h0M416.4 170.4h0M413.9 168.4h0M440.5 167.1h0M419.8 170.8h0M423.3 168.9h0M450.4 170.7h0M427.2 170.9h0M419.0 169.7h0M418.7 170.1h0M422.9 170.9h0M413.4 169.1h0M414.5 169.7h0M422.1 169.8h0M416.8 170.3h0M433.8 167.2h0M424.7 168.7h0M455.5 169.4h0M426.5 171.1h0M415.0 170.9h0M427.3 167.0h0M421.2 170.1h0M423.5 169.6h0M439.7 167.8h0M427.9 171.3h0M419.6 169.6h0M427.2 169.9h0M437.8 168.3h0M416.8 169.5h0M430.5 171.0h0M432.2 171.5h0M454.5 167.7h0M452.0 169.2h0M445.1 170.2h0M416.6 168.9h0M427.9 169.1h0M471.5 167.8h0M428.7 168.0h0M443.1 170.7h0M460.3 168.5h0M423.2 167.7h0M425.8 168.8h0M415.0 171.5h0M434.4 167.0h0M426.7 170.1h0M451.2 168.5h0M462.7 169.6h0M454.0 167.5h0M420.0 169.5h0M424.1 170.7h0M418.5 169.2h0M435.5 170.6h0M416.3 171.8h0M454.2 168.3h0M414.7 169.4h0M423.6 170.3h0M428.3 169.7h0M413.6 169.2h0M432.0 170.2h0M431.2 170.9h0M437.0 168.7h0M426.7 170.5h0M415.1 171.8h0M436.0 168.5h0M420.9 170.1h0M474.7 167.1h0M412.8 171.7h0M463.3 167.9h0M449.4 170.0h0M424.3 170.7h0M422.0 167.1h0M426.0 170.7h0M413.9 168.7h0M421.6 169.4h0M425.9 170.8h0M443.6 169.3h0M451.6 170.4h0M431.1 168.3h0M419.1 169.5h0M422.3 168.4h0M422.4 168.6h0M448.7 170.9h0M422.8 169.2h0M425.9 168.3h0M419.2 169.9h0M436.8 168.5h0M451.5 167.5h0M425.7 169.7h0M427.8 170.9h0M439.2 168.5h0M446.8 167.8h0M418.2 170.6h0M413.9 167.2h0M413.8 167.5h0M420.1 169.7h0M440.1 168.1h0M424.7 171.7h0M422.1 169.6h0M419.9 170.0h0M420.2 169.7h0M443.7 169.7h0M428.9 170.6h0M415.7 169.3h0M419.2 168.6h0M415.8 170.0h0M429.2 167.7h0M422.9 168.9h0M435.8 168.1h0M414.6 168.8h0M428.1 168.9h0M419.2 167.3h0M417.6 168.5h0M424.5 167.2h0M413.0 168.4h0M468.4 168.8h0M440.5 170.6h0M415.5 169.5h0M415.3 170.3h0M464.2 168.2h0M416.8 170.9h0M442.0 169.3h0M416.9 171.8h0M437.1 169.1h0M431.2 167.7h0M450.7 169.6h0M451.5 169.0h0M430.3 167.5h0M421.9 167.5h0M414.6 170.8h0M438.8 167.7h0M418.3 167.8h0M421.7 167.5h0M450.2 170.2h0M423.1 167.6h0M431.3 170.1h0M425.7 170.2h0M413.4 171.0h0M440.4 167.6h0M413.2 171.0h0M446.2 167.9h0M416.9 168.2h0M441.6 168.2h0M428.5 167.5h0M414.0 168.1h0M414.0 170.5h0M414.8 169.9h0M419.9 168.3h0M418.0 170.2h0M450.1 168.5h0M426.0 169.7h0M415.6 167.1h0M435.9 171.3h0M464.3 167.0h0M428.1 171.3h0M419.4 170.7h0M442.2 167.9h0M413.7 169.6h0M440.6 170.6h0M434.0 170.1h0M438.0 168.2h0M455.0 169.5h0M428.9 171.2h0M449.9 167.8h0M417.5 170.6h0M419.3 170.7h0M426.9 170.0h0M417.9 168.1h0M453.6 167.2h0M414.1 167.4h0M416.2 171.3h0M413.5 168.6h0M455.5 168.0h0M425.2 167.4h0M415.9 169.5h0M428.2 168.1h0M450.0 167.6h0M413.7 169.8h0M419.5 168.1h0M427.8 167.1h0M415.1 170.5h0M427.7 167.5h0M414.4 170.8h0M422.9 169.1h0M424.4 168.8h0M444.9 167.6h0M416.6 170.5h0M460.5 167.7h0M455.1 168.1h0M415.5 171.6h0M458.7 169.1h0M427.8 168.5h0M419.0 167.0h0M419.3 167.1h0M418.2 170.1h0M433.7 170.1h0M419.8 168.3h0M433.6 169.9h0M457.4 167.1h0M419.4 168.0h0M432.5 169.4h0M421.0 168.9h0M439.8 167.5h0M440.8 170.9h0M417.9 168.9h0M428.3 169.8h0M433.5 169.1h0M419.4 168.3h0M419.8 167.2h0M423.5 170.6h0M438.9 167.8h0M430.3 167.9h0M426.1 167.8h0M414.4 167.6h0M455.1 168.3h0M423.0 167.9h0M426.3 168.8h0M424.8 168.4h0M440.5 168.7h0M442.7 170.8h0M421.2 170.3h0M448.5 169.5h0M437.3 170.5h0M430.0 169.7h0M446.4 168.3h0M444.8 168.4h0M420.8 170.8h0M451.4 168.7h0M426.5 168.5h0M413.8 168.3h0M416.6 167.1h0M417.3 168.6h0M462.3 168.2h0M424.7 170.5h0M420.3 171.6h0M445.3 170.4h0M478.6 168.2h0M424.3 171.3h0M460.9 168.8h0M442.5 168.1h0M424.0 168.6h0M442.4 169.0h0M416.2 168.7h0M418.4 170.0h0M425.8 168.6h0M438.3 170.3h0M417.1 168.0h0M430.4 170.3h0M435.5 168.5h0M458.6 167.9h0M433.4 167.5h0M418.1 168.1h0M430.4 171.4h0M417.3 168.8h0M414.2 169.7h0M424.8 170.0h0M430.0 167.7h0M421.9 167.3h0M441.9 169.6h0M415.5 168.3h0M429.1 170.6h0M434.6 168.7h0M416.8 170.3h0M430.6 169.1h0M419.5 171.0h0M423.0 168.2h0M421.7 168.1h0M418.6 168.5h0M416.9 168.9h0M451.5 167.3h0M429.0 169.6h0M417.3 169.6h0M416.0 170.7h0M429.9 167.6h0M433.2 167.8h0M427.6 171.1h0M413.1 169.9h0M429.8 170.6h0M435.0 167.6h0M455.9 168.5h0M420.5 168.2h0M458.2 170.4h0M426.8 170.8h0M413.1 168.6h0M433.3 170.5h0M424.5 168.1h0M425.9 169.2h0M423.2 170.7h0M416.9 169.1h0M417.6 167.1h0M427.0 168.8h0M418.4 170.7h0M418.2 170.4h0M454.6 167.8h0M426.3 169.1h0M422.0 168.7h0M416.3 168.3h0M416.1 167.0h0M424.8 170.5h0M413.7 168.2h0M433.9 167.9h0M418.9 167.3h0M420.5 167.5h0M421.5 170.6h0M463.2 168.2h0M422.3 167.7h0M414.9 170.5h0M430.2 168.7h0M416.9 169.2h0M437.9 169.3h0M444.6 169.7h0M413.2 168.9h0M422.9 170.0h0M431.6 168.7h0M428.1 170.9h0M416.3 167.7h0M416.7 168.9h0M437.1 168.3h0M420.8 171.5h0M424.7 169.7h0M433.6 169.1h0M420.2 167.6h0M432.5 171.0h0M422.7 167.1h0M415.9 171.2h0M435.3 167.3h0M420.2 167.7h0M481.0 167.1h0M425.5 171.3h0M421.2 168.5h0M417.3 169.3h0M439.7 168.6h0M440.7 171.1h0M426.8 168.4h0M416.2 169.0h0M430.6 168.1h0M427.3 169.1h0M432.9 167.2h0M426.4 169.3h0M439.4 167.4h0M442.8 167.0h0M420.3 168.5h0M452.6 169.2h0M426.0 169.3h0M415.0 167.0h0M420.6 167.5h0M434.8 169.8h0M419.9 169.8h0M416.3 167.5h0M430.9 169.0h0M444.1 167.0h0M424.0 167.3h0M437.1 168.6h0M429.8 167.7h0M437.5 170.8h0M413.8 170.3h0M418.7 170.6h0M430.4 170.5h0M425.3 170.5h0M433.7 168.3h0M425.9 170.7h0M418.3 168.5h0M418.9 169.1h0M415.6 168.4h0M421.0 170.5h0M436.5 167.8h0M418.1 169.1h0M439.5 169.7h0M431.8 169.5h0M427.2 168.7h0M439.6 169.8h0M418.6 171.8h0M472.7 169.1h0M416.2 169.2h0M448.2 169.3h0M432.0 167.2h0M452.9 167.3h0M415.8 168.9h0M420.5 167.5h0M451.0 169.0h0M412.8 171.1h0M418.1 169.3h0M413.4 168.9h0M426.7 167.2h0M425.9 168.6h0M436.9 170.5h0M412.8 167.4h0M436.0 167.6h0M418.2 167.1h0M472.6 167.0h0M428.4 169.3h0M413.4 168.2h0M412.9 170.0h0M431.6 171.4h0M426.3 167.8h0M433.6 167.6h0M421.8 168.5h0M423.4 169.1h0M426.2 168.1h0M426.1 169.4h0M425.7 169.3h0M414.2 168.5h0M423.7 169.1h0M450.4 168.9h0M416.3 169.4h0M416.7 168.1h0M418.0 169.4h0M424.8 170.5h0M421.8 168.3h0M425.3 167.1h0M413.5 170.7h0M420.8 167.4h0M419.7 168.6h0M421.6 170.2h0M457.9 169.8h0M442.6 168.8h0M423.9 167.3h0M445.6 168.6h0M437.8 169.0h0M421.3 167.4h0M428.1 169.2h0M420.6 169.7h0M428.1 168.2h0M423.4 171.2h0M463.6 169.9h0M425.6 168.8h0M442.1 169.2h0M414.2 168.5h0M417.4 167.3h0M421.9 168.3h0M422.9 168.7h0M412.8 170.2h0M422.5 168.3h0M426.1 168.4h0M425.9 170.3h0M418.1 169.4h0M427.5 167.5h0M421.7 167.8h0M445.4 169.0h0M436.1 170.1h0M464.2 169.1h0M425.8 168.8h0M424.9 167.8h0M434.8 167.6h0M418.1 170.8h0M437.8 168.9h0M424.2 167.8h0M422.5 170.0h0M437.9 167.1h0M448.5 168.7h0M442.0 170.7h0M416.3 170.8h0M421.9 168.1h0M415.3 169.1h0M424.6 169.8h0M438.0 167.7h0M459.4 168.8h0M444.4 169.6h0M425.8 167.6h0M466.4 167.4h0M417.6 167.1h0M426.2 171.2h0M426.6 167.1h0M432.3 169.0h0M412.9 168.4h0M433.4 171.5h0M414.0 168.0h0M428.2 171.0h0M420.2 168.1h0M432.6 169.7h0M416.4 169.0h0M431.6 170.1h0M431.3 170.2h0M413.0 168.4h0M472.0 168.4h0M413.3 170.2h0M423.8 168.8h0M432.9 168.1h0M423.6 168.4h0M415.9 169.1h0M437.8 168.7h0M422.0 167.3h0M414.9 169.9h0M427.1 168.7h0M426.1 171.5h0M458.5 167.6h0M414.2 167.1h0M432.3 168.3h0M414.7 168.1h0M415.3 167.9h0M428.0 170.3h0M423.6 167.7h0M419.4 169.6h0M436.5 167.4h0M436.0 171.3h0M420.7 168.8h0M444.0 167.8h0M437.2 167.2h0M414.6 168.9h0M422.8 169.9h0M422.4 169.4h0M432.0 169.5h0M428.1 170.2h0M442.7 169.0h0M436.2 170.1h0M417.6 167.0h0M412.9 169.7h0M413.0 167.8h0M417.5 171.2h0M434.3 167.0h0M435.2 169.7h0M427.7 169.1h0M415.4 169.6h0M414.2 168.0h0M426.3 168.9h0M413.6 167.9h0M425.3 168.0h0M437.0 169.4h0M417.8 169.6h0M446.6 168.2h0M418.4 168.2h0M423.7 170.1h0M444.5 168.0h0M414.0 167.7h0M422.4 171.5h0M421.7 171.1h0M445.5 169.1h0M420.4 171.4h0M415.7 167.6h0M431.2 168.1h0M415.8 169.5h0M414.6 169.5h0M430.6 169.1h0M425.6 171.2h0M423.2 169.7h0M418.3 168.0h0M428.8 167.1h0M415.1 168.2h0M424.4 170.3h0M431.8 171.1h0M420.5 167.5h0M416.9 170.2h0M469.9 169.0h0M436.0 170.2h0M414.5 168.5h0M421.1 169.1h0M417.7 170.0h0M424.5 168.1h0M421.3 168.0h0M417.7 167.4h0M431.9 167.5h0M427.5 169.0h0M414.0 167.1h0M422.8 168.8h0M433.9 167.7h0M451.9 167.5h0M439.7 168.8h0M413.9 171.5h0M416.6 169.4h0M416.5 171.1h0M426.5 170.7h0M419.1 169.9h0M422.3 170.5h0M422.6 168.4h0M422.6 170.6h0M432.5 170.2h0M421.2 167.9h0M434.8 168.7h0M418.7 167.0h0M413.7 167.0h0M426.3 168.2h0M415.5 168.4h0M425.6 167.6h0M414.4 171.8h0M421.2 168.8h0M433.4 168.6h0M422.6 170.1h0M431.8 169.7h0M416.4 167.7h0M418.3 167.3h0M414.8 171.1h0M427.9 171.3h0M425.4 171.1h0M420.9 169.9h0M417.8 167.4h0M420.0 170.6h0M457.7 168.9h0M428.6 167.1h0M414.4 170.2h0M423.7 170.8h0M426.2 169.7h0M439.6 169.6h0M437.3 169.6h0M446.0 168.9h0M433.1 167.4h0M460.1 167.2h0M453.5 169.8h0M417.5 168.3h0M426.5 170.5h0M414.6 169.7h0M418.8 171.7h0M422.2 167.3h0M433.6 170.7h0M436.5 168.5h0M413.2 171.4h0M423.1 169.2h0M421.2 169.9h0M438.4 168.1h0M445.4 170.5h0M450.1 168.3h0M462.3 169.1h0M439.5 168.1h0M434.5 171.4h0M415.2 169.8h0M467.2 168.0h0M438.8 170.8h0M418.6 167.1h0M418.2 168.8h0M415.3 170.1h0M421.6 170.2h0M438.3 169.2h0M422.3 167.1h0M433.0 168.5h0M419.0 169.8h0M428.4 167.1h0M422.8 167.3h0M444.5 170.4h0M422.6 167.1h0M429.2 167.2h0M440.9 169.4h0" stroke="#1f9a3a" stroke-width="1.25" stroke-linecap="round" fill="none"/>
<path d="M400.9 166.7h0M407.5 105.6h0M394.8 159.4h0M401.4 166.1h0M403.8 161.6h0M398.9 104.2h0M399.9 165.5h0M410.8 166.8h0M398.0 164.4h0M407.4 133.4h0M394.2 166.4h0M407.9 164.5h0M410.7 159.6h0M406.7 159.2h0M406.0 163.2h0M397.0 162.4h0M407.7 149.7h0M399.1 165.1h0M396.0 163.0h0M407.7 162.4h0M393.6 153.9h0M410.0 163.8h0M396.6 162.5h0M393.6 164.4h0M403.6 164.1h0M396.8 165.1h0M395.4 161.3h0M398.9 164.0h0M404.7 152.7h0M400.9 161.8h0M398.3 160.9h0M410.7 158.1h0M411.2 139.5h0M399.7 166.6h0M402.7 163.2h0M400.1 130.1h0M394.0 159.4h0M411.9 164.9h0M411.1 159.1h0M396.0 154.0h0M401.0 160.8h0M412.0 164.0h0M404.1 163.5h0M409.2 158.6h0M409.8 165.2h0M398.7 137.9h0M402.7 161.8h0M398.7 164.7h0M405.3 119.1h0M396.0 163.9h0" stroke="#4a5fd8" stroke-width="1.3" stroke-linecap="round" fill="none"/>
<path d="M378.0 156.1h0M385.0 163.3h0M339.5 156.2h0M370.4 163.9h0M387.9 161.4h0M387.5 166.1h0M360.4 165.4h0M382.6 157.5h0M372.7 157.1h0M387.7 162.6h0M345.9 158.8h0M390.5 160.3h0M382.0 164.6h0M355.2 163.8h0M330.9 151.0h0M388.8 166.2h0M391.4 166.3h0M385.5 153.1h0M373.6 163.9h0M373.4 163.9h0M377.6 166.4h0M387.6 160.3h0M383.1 157.1h0M383.9 166.9h0M385.6 160.6h0M357.1 165.3h0M389.5 163.5h0M392.0 162.2h0M386.1 148.8h0M372.0 160.5h0M367.1 161.8h0M384.2 164.7h0M371.9 160.4h0M387.1 163.8h0M385.5 165.6h0M389.7 166.5h0M370.1 166.5h0M370.3 158.1h0M383.7 160.1h0M384.8 161.5h0M384.9 164.6h0M389.0 165.7h0M378.9 164.1h0M370.8 161.8h0M391.0 163.9h0M333.5 153.4h0M356.3 159.5h0M385.9 155.8h0M340.4 157.5h0M351.2 166.1h0M392.0 162.0h0M377.9 163.9h0M373.7 165.9h0M372.9 161.6h0M386.3 166.6h0M391.3 164.4h0M391.9 161.0h0M386.0 162.4h0M388.2 163.3h0M387.1 165.6h0M360.5 163.3h0M368.9 155.7h0M387.3 165.1h0M357.1 163.9h0M372.2 164.0h0M328.9 157.5h0M378.1 163.6h0M370.7 161.6h0M373.3 159.3h0M385.6 163.5h0M385.4 162.6h0M390.2 163.5h0M370.9 161.2h0M381.4 163.3h0M379.2 154.2h0M367.3 164.5h0M376.8 163.3h0M389.9 162.6h0M364.1 165.2h0M390.9 160.9h0M391.1 158.2h0M376.2 155.1h0M381.2 166.8h0M376.3 152.6h0M363.1 162.8h0M357.8 166.9h0M373.2 157.4h0M385.7 156.4h0M364.5 162.1h0M387.6 161.9h0M363.2 157.5h0M370.2 159.1h0M344.5 162.0h0M349.5 158.7h0M384.4 156.9h0M369.9 165.7h0M390.5 157.7h0M377.9 157.2h0M376.1 162.5h0M389.9 163.8h0M388.7 166.1h0M340.0 154.4h0M391.5 166.7h0M362.1 164.3h0M390.0 161.6h0M333.1 157.2h0M373.1 155.6h0M388.3 166.0h0M337.2 159.0h0M390.8 163.9h0M384.4 164.4h0M386.2 161.5h0M351.6 152.6h0M357.1 166.3h0M353.8 165.4h0M389.3 166.1h0M365.7 151.8h0M345.8 162.5h0M386.5 153.3h0M372.7 158.8h0M376.9 161.2h0M380.4 164.9h0M386.8 148.5h0M358.5 156.3h0M391.8 163.6h0M390.9 165.7h0M386.8 161.4h0M384.4 162.6h0M382.1 165.4h0M374.9 165.0h0M351.9 155.0h0M369.5 159.8h0M392.1 165.5h0M352.8 166.5h0M382.7 163.2h0M366.2 161.9h0M386.6 160.4h0M388.4 163.6h0M381.3 160.8h0M377.4 165.1h0M358.5 160.9h0M374.3 149.3h0M356.4 161.8h0M389.9 164.0h0M391.7 163.0h0M391.0 160.5h0M374.6 163.3h0M386.2 163.4h0M374.2 160.2h0M357.8 163.0h0M389.7 163.3h0M373.4 165.7h0M382.1 147.2h0M339.1 157.6h0M384.3 166.3h0M372.7 165.9h0M377.3 166.5h0M381.3 165.5h0M363.9 162.8h0M360.3 159.8h0M363.3 156.2h0M383.4 165.4h0M343.5 156.2h0M368.8 154.9h0M349.3 160.0h0M369.4 166.4h0M364.2 161.3h0M385.9 165.0h0M389.8 162.5h0M376.6 164.4h0M380.7 162.9h0M379.4 166.3h0M382.9 162.5h0M390.6 154.4h0M385.1 154.7h0M384.1 166.1h0M369.5 162.3h0M378.9 160.3h0M391.8 166.6h0M372.1 159.3h0M374.9 164.9h0M386.7 159.6h0M356.8 164.3h0M390.6 163.8h0M334.9 152.6h0M382.4 164.3h0M373.6 164.6h0M376.6 158.9h0M344.5 159.6h0M382.8 157.5h0M381.9 155.6h0M344.6 156.4h0M367.5 160.4h0M380.3 162.2h0M339.4 154.8h0M376.0 162.3h0M388.0 164.9h0M370.6 158.4h0M383.1 159.3h0M383.2 164.1h0M364.6 163.7h0M389.1 164.0h0M383.9 164.9h0M382.1 166.5h0M379.2 160.9h0M361.0 161.6h0M362.0 148.2h0M377.5 158.6h0M364.2 166.3h0M378.7 165.6h0M369.0 166.4h0M379.2 154.5h0M373.0 165.4h0M380.8 164.7h0M373.2 164.5h0M362.0 163.1h0M391.1 165.6h0M381.8 150.4h0M387.3 163.3h0M379.1 164.8h0M353.0 162.9h0M382.4 166.7h0M355.7 164.2h0M370.9 160.3h0M382.5 164.8h0M391.1 164.3h0M352.1 159.4h0M373.2 156.7h0M374.0 165.2h0M386.2 163.1h0M388.6 151.9h0M368.5 164.1h0M349.6 155.9h0M373.0 166.0h0M378.9 165.5h0M382.5 155.3h0M389.1 162.6h0M389.0 164.7h0M389.9 164.7h0M391.0 161.1h0M385.1 164.4h0M383.2 156.6h0M389.1 164.1h0M375.2 154.6h0M364.8 149.9h0M372.4 166.1h0M346.6 164.9h0M357.0 166.2h0M352.2 165.7h0M372.4 161.7h0M334.3 156.3h0M386.4 162.1h0M384.5 162.6h0M373.4 159.3h0M332.1 152.1h0M384.3 163.1h0M351.2 156.8h0M385.8 157.8h0M389.7 161.2h0M381.2 163.8h0M379.9 165.8h0M374.9 163.5h0M369.8 164.7h0M376.4 164.6h0M382.1 159.9h0M391.2 159.9h0M370.3 164.6h0M367.2 166.2h0M371.2 150.0h0M364.2 164.2h0M377.5 164.5h0M375.0 160.5h0M375.4 158.8h0M392.2 154.9h0M373.3 165.1h0M381.0 157.4h0M367.5 166.6h0M381.5 165.9h0M384.7 164.7h0M369.0 151.5h0M360.0 162.2h0M390.5 165.6h0M385.7 164.1h0M386.1 162.0h0M376.4 165.3h0M391.6 160.6h0M379.9 164.2h0M374.4 148.0h0M383.9 165.9h0M377.6 162.2h0M375.1 163.7h0M375.7 165.9h0M383.9 166.4h0M389.5 164.5h0M382.2 153.8h0M391.9 163.9h0M392.2 156.0h0M362.4 165.5h0M377.8 166.6h0M366.8 161.7h0M377.6 166.5h0M363.2 164.6h0M369.7 166.6h0M363.3 157.6h0M390.1 164.0h0M390.8 161.8h0M362.9 164.3h0M390.4 164.5h0M392.1 155.1h0M372.5 163.2h0M371.9 164.1h0M389.0 158.9h0M371.2 162.3h0M379.6 164.2h0M385.5 163.5h0M389.8 161.7h0M377.9 166.8h0M359.5 162.4h0M356.0 164.5h0M380.2 166.1h0M334.7 149.5h0M376.4 165.0h0M391.0 162.4h0M384.6 162.8h0M354.6 159.1h0M388.7 149.8h0M381.8 164.9h0M370.3 156.7h0M391.4 138.0h0M376.0 164.3h0M382.7 162.9h0M380.6 163.8h0M387.9 165.5h0M385.6 156.8h0M382.9 166.3h0M365.6 166.4h0M391.2 162.6h0M351.1 161.7h0M382.3 164.2h0M386.9 165.3h0M352.5 162.5h0M377.7 159.7h0M330.5 156.1h0M388.6 161.7h0M383.5 164.9h0M388.7 159.4h0M376.9 164.0h0M388.2 158.5h0M369.7 161.8h0M389.3 151.3h0M388.5 163.9h0M386.7 166.5h0M371.7 164.9h0M374.1 166.0h0M374.9 160.7h0M370.6 162.2h0M363.5 165.2h0M369.1 156.7h0M382.2 164.6h0M383.1 164.8h0M371.8 162.2h0M374.8 159.8h0M372.7 163.9h0M371.7 143.6h0M371.4 161.5h0M380.2 160.7h0M372.0 164.0h0M391.9 130.9h0M391.5 151.8h0M363.1 162.8h0M367.7 166.5h0M375.0 164.9h0M382.9 164.0h0M385.2 163.6h0M359.6 164.0h0M387.5 166.6h0M366.9 166.1h0M386.3 164.3h0M387.5 164.6h0M382.0 162.6h0M355.2 156.4h0M390.4 161.4h0M381.4 155.0h0M354.8 164.2h0M370.9 160.1h0M390.0 154.6h0M344.9 155.4h0M390.0 161.1h0M382.8 144.6h0M372.0 166.1h0M386.3 166.3h0M387.4 165.0h0M385.2 161.0h0M373.3 158.7h0M384.6 155.1h0M388.5 162.4h0M389.6 163.9h0M388.7 153.2h0M392.4 162.5h0M377.2 166.0h0M386.0 161.5h0M387.6 161.4h0M379.1 166.1h0M325.8 154.2h0M366.8 164.6h0M367.1 155.9h0M357.5 159.2h0M391.5 166.5h0M379.5 160.9h0M375.6 160.3h0M362.6 166.6h0M380.4 159.5h0M387.4 162.6h0M375.3 152.0h0M383.5 160.3h0M391.9 166.3h0M390.7 166.8h0M377.0 164.3h0M378.7 164.1h0M379.1 156.5h0M364.8 159.0h0M379.4 160.7h0M388.9 161.8h0M385.0 158.7h0M375.3 163.9h0M340.7 162.9h0M388.1 164.6h0M379.1 162.8h0M388.1 161.0h0M386.3 163.2h0M383.8 164.6h0M373.1 165.1h0M373.1 164.9h0M391.3 163.0h0M383.0 159.1h0M326.3 152.0h0M369.1 162.3h0M357.6 164.0h0M378.0 165.5h0M344.7 147.2h0M384.5 153.8h0M350.8 166.4h0M326.5 153.1h0M350.5 158.1h0M390.3 158.6h0M377.4 159.9h0M360.8 153.5h0M376.0 162.6h0M361.2 164.9h0M382.7 155.7h0M378.4 166.1h0M367.7 163.4h0M341.6 159.5h0M378.7 159.6h0M354.8 158.7h0M387.7 164.1h0M389.8 164.6h0M389.0 163.4h0M387.5 162.8h0M389.5 166.8h0M380.1 159.7h0M351.9 163.4h0M378.5 162.3h0M387.3 162.7h0M376.4 155.5h0M382.6 161.4h0M385.4 155.9h0M369.0 162.6h0M375.0 165.4h0M357.4 159.3h0M391.8 166.5h0M382.7 165.4h0M391.9 165.9h0M388.8 166.2h0M371.5 158.3h0M387.2 143.4h0M361.7 162.4h0M359.5 166.1h0M378.2 161.7h0M334.8 158.8h0M354.8 165.5h0M372.8 158.8h0M386.1 155.3h0M376.8 159.8h0M388.8 149.3h0M337.1 150.7h0M330.5 154.7h0M367.9 150.5h0M371.8 162.3h0M384.6 165.8h0M378.8 165.2h0M383.1 161.6h0M385.5 150.6h0M387.1 162.9h0M372.9 155.8h0M363.7 162.5h0M381.2 161.9h0M381.1 155.4h0M338.0 162.1h0M363.3 165.1h0M391.1 159.6h0M349.7 163.1h0M382.4 162.7h0M377.3 161.2h0M359.9 158.8h0M365.8 161.9h0M351.6 161.9h0M366.3 161.1h0M354.5 166.1h0M377.8 162.7h0M382.3 161.9h0M385.6 165.5h0M383.8 166.6h0M380.6 164.4h0M391.5 164.7h0M388.1 163.7h0M390.9 161.6h0M383.3 163.8h0M375.8 163.2h0M387.1 154.6h0M383.0 166.3h0M377.8 164.1h0M380.1 151.0h0M382.6 157.5h0M383.4 164.5h0M376.8 164.8h0M391.9 159.5h0M386.8 164.7h0M385.6 148.8h0M339.8 151.4h0M384.2 148.6h0M368.8 162.0h0M376.1 161.9h0M384.7 159.9h0M362.4 165.6h0M388.8 165.4h0M384.2 163.6h0M391.4 163.8h0M386.9 162.7h0M367.7 161.7h0M380.9 161.1h0M376.9 163.6h0M372.0 161.0h0M373.3 157.8h0M386.7 149.3h0M356.6 164.6h0M360.2 161.6h0M392.4 165.1h0M389.2 165.2h0M385.7 164.5h0M333.0 153.5h0M388.7 162.0h0M357.0 163.8h0M391.8 163.7h0M369.4 166.7h0M390.2 149.8h0M338.6 157.1h0M343.3 161.8h0M377.2 163.2h0M376.9 163.6h0M358.1 162.3h0M384.0 163.6h0M372.8 160.2h0M376.5 163.4h0M363.9 165.4h0M388.5 152.7h0M346.6 162.1h0M365.4 164.3h0M373.9 158.3h0M379.4 164.6h0M392.1 162.9h0M380.4 159.1h0M379.7 165.3h0M374.6 157.7h0M379.7 165.5h0M360.4 159.6h0M379.7 165.7h0M388.7 154.5h0M390.7 157.7h0M354.3 161.6h0M380.3 166.1h0M363.7 165.0h0M329.6 154.7h0M358.5 157.8h0M386.9 166.5h0M382.0 166.1h0M373.5 161.9h0M347.7 155.8h0M383.0 166.4h0M348.8 164.6h0M387.2 156.0h0M384.0 161.5h0M384.1 166.8h0M383.9 159.4h0M359.7 162.4h0M378.5 163.4h0M366.3 162.4h0M388.3 156.5h0M378.1 165.8h0M384.4 162.8h0M385.8 160.6h0M388.0 163.7h0M385.3 161.9h0M381.6 158.8h0M381.7 157.8h0M391.7 156.3h0M376.1 162.7h0M379.5 166.2h0M376.2 155.0h0M350.8 149.3h0M364.1 165.7h0M362.1 154.8h0M377.4 163.6h0M370.1 165.4h0M383.6 163.6h0M366.0 164.9h0M385.8 166.4h0M377.6 163.2h0M337.4 159.9h0M374.7 165.9h0M370.5 152.6h0M388.4 162.2h0M375.1 156.9h0M386.8 164.1h0M387.9 162.9h0M383.0 164.2h0M390.8 163.7h0M368.9 165.8h0M388.6 161.8h0M384.4 160.8h0M370.4 162.0h0M352.4 154.3h0M380.3 163.9h0M380.9 160.8h0M357.1 163.0h0M364.0 162.4h0M359.4 161.2h0M378.7 165.3h0M389.2 164.2h0M384.8 162.7h0M389.2 163.8h0M386.8 161.5h0M370.2 159.9h0M383.2 155.8h0M379.0 159.9h0M362.9 163.7h0M388.7 166.5h0M380.5 163.3h0M376.3 162.5h0M391.8 164.4h0M382.2 164.9h0M389.9 154.0h0M347.4 162.6h0M364.6 159.9h0M374.0 165.4h0M353.1 163.9h0M378.4 165.3h0M362.3 166.3h0M372.3 165.8h0M384.3 159.3h0M347.5 161.8h0M332.5 154.3h0M372.3 166.4h0M373.3 157.7h0M379.5 161.1h0M366.6 160.1h0M391.5 165.0h0M369.5 160.6h0M364.8 164.2h0M382.3 163.0h0M358.5 166.0h0M368.1 162.1h0M373.1 160.9h0M391.1 164.9h0M377.6 158.1h0M363.9 154.3h0M377.0 166.5h0M377.8 163.0h0M390.4 160.6h0M355.7 159.2h0M388.3 164.8h0M367.1 161.8h0M389.7 161.6h0M385.3 165.8h0M382.1 157.3h0M358.2 155.3h0M352.5 161.0h0M381.0 164.4h0M381.1 163.4h0M373.8 165.5h0M387.9 158.8h0M378.5 160.7h0M377.7 165.8h0M346.5 164.9h0M371.7 166.9h0M373.4 159.7h0M384.9 164.5h0M388.6 157.1h0M390.9 166.1h0M371.3 162.3h0M389.1 163.0h0M382.3 164.2h0M388.4 163.1h0M378.3 163.2h0M389.0 158.1h0M374.2 165.1h0M366.9 149.3h0M387.4 166.0h0M380.6 163.7h0M371.9 165.5h0M378.0 166.4h0M362.3 161.5h0M378.6 166.3h0M380.5 164.0h0M382.9 164.7h0M388.6 164.0h0M380.1 163.7h0M378.4 157.3h0M374.3 158.1h0M391.3 162.5h0M365.6 153.7h0M334.1 152.7h0M374.3 164.1h0M379.7 161.2h0M371.3 159.7h0M365.0 164.5h0M350.7 145.9h0M391.7 166.6h0M389.2 159.5h0M333.3 156.2h0M373.5 166.2h0M382.1 163.3h0M363.8 166.5h0M384.4 160.2h0M385.6 162.3h0M380.0 160.4h0M382.7 160.9h0M376.6 165.0h0M362.4 162.6h0M366.5 162.8h0M384.5 165.0h0M391.2 161.5h0M391.5 165.8h0M383.0 166.1h0M380.1 163.4h0M390.1 159.1h0M391.0 165.9h0M360.1 155.5h0M353.5 161.1h0M339.4 160.7h0M386.1 160.4h0M390.9 163.7h0M339.1 153.1h0M331.6 154.6h0M353.2 165.9h0M374.2 164.7h0M390.0 166.8h0M390.1 165.5h0M372.9 160.0h0M378.7 165.0h0M385.3 165.6h0M391.2 163.4h0M388.9 166.5h0M374.6 159.9h0M380.1 166.6h0M386.9 154.5h0M342.9 160.7h0M363.1 159.2h0M370.6 166.6h0M383.6 159.7h0M382.2 159.5h0M360.7 165.1h0M380.0 165.1h0M382.6 162.9h0M363.4 162.8h0M388.9 165.9h0M355.1 163.1h0M381.7 164.6h0M371.4 159.4h0M384.3 159.5h0M380.8 165.8h0M361.1 164.5h0M361.9 165.9h0M347.0 160.2h0M367.5 161.3h0M372.8 162.9h0M387.6 158.3h0M381.4 164.5h0M392.4 160.8h0M375.0 164.6h0M372.9 165.9h0M382.9 164.0h0M386.1 156.1h0M375.8 165.6h0M363.1 162.7h0M390.7 165.8h0M391.5 158.7h0M378.0 165.9h0M382.2 156.7h0M378.6 164.3h0M390.1 156.7h0M392.4 153.9h0M381.9 157.8h0M333.6 160.0h0M390.2 163.0h0M387.2 166.5h0M345.7 157.3h0M392.3 162.1h0M357.6 145.7h0M348.8 165.5h0M353.8 166.0h0M392.3 160.1h0M384.7 163.8h0M355.9 163.0h0M379.2 161.2h0M388.2 161.4h0M384.8 164.7h0M332.0 158.1h0M381.4 162.5h0M378.1 166.2h0M358.1 166.6h0M347.3 165.3h0M388.7 160.9h0M328.2 152.5h0M360.7 164.7h0M329.3 157.8h0M386.4 165.6h0M369.3 162.2h0M375.5 151.6h0M371.1 144.4h0M382.2 163.4h0M384.2 159.1h0M371.2 164.3h0M385.2 165.6h0M353.1 166.0h0M378.0 166.3h0M358.5 160.8h0M366.6 160.1h0M358.1 166.2h0M392.3 162.0h0M346.6 153.8h0M380.5 165.3h0M373.6 166.2h0M382.1 163.5h0M372.6 165.9h0M328.7 151.4h0M384.3 163.4h0M359.2 157.6h0M346.9 164.4h0M365.3 164.5h0M371.2 165.7h0M390.9 164.4h0M367.8 164.4h0M381.4 153.3h0M379.6 162.1h0M328.1 154.3h0M353.3 164.3h0M375.2 162.2h0M370.2 164.5h0M386.7 155.5h0M372.4 159.0h0M383.9 160.6h0M391.4 164.3h0M390.8 161.4h0M350.3 165.4h0M380.4 156.6h0M381.3 164.1h0M379.5 166.3h0M362.1 163.0h0M354.9 164.5h0M378.2 162.7h0M377.8 164.7h0M382.9 158.8h0M386.7 163.7h0M386.6 166.0h0M386.5 162.3h0M372.9 154.2h0M377.0 165.2h0M378.5 164.1h0M392.0 161.4h0M387.6 165.3h0M372.8 156.7h0M384.5 161.0h0M365.6 162.5h0M383.7 162.3h0M339.5 152.9h0M350.8 163.8h0M371.5 165.4h0M366.7 166.5h0M373.4 164.9h0M370.6 166.6h0M379.0 161.5h0M368.5 165.6h0M363.6 160.7h0M353.2 165.1h0M385.8 166.1h0M380.5 166.2h0M379.1 161.5h0M369.4 155.9h0M367.3 163.2h0M389.2 164.9h0M332.6 153.8h0M365.0 162.5h0M382.6 165.2h0M351.9 163.2h0M384.0 158.6h0M387.0 166.1h0M384.9 161.2h0M375.9 137.8h0M371.5 159.4h0M369.0 158.1h0M392.4 163.6h0M361.7 162.7h0M378.3 165.5h0M379.4 156.7h0M379.5 157.5h0M377.1 166.0h0M368.7 158.8h0M369.2 163.1h0M377.9 163.8h0M389.6 159.4h0M388.9 166.4h0M380.2 166.8h0M380.7 160.9h0M335.5 153.7h0M375.7 166.8h0M373.3 163.8h0M372.8 153.8h0M373.9 158.7h0M347.8 166.0h0M367.1 161.6h0M388.6 159.6h0M379.4 150.8h0M343.3 155.2h0M363.7 161.5h0M378.9 164.8h0M381.3 165.8h0M361.7 160.6h0M378.9 165.5h0M380.6 162.1h0M374.4 151.5h0M385.3 155.9h0M392.0 161.0h0M359.9 163.4h0M387.6 159.3h0M360.4 165.2h0M357.1 166.5h0M377.9 158.6h0M372.7 162.8h0M383.5 161.7h0M388.9 165.0h0M381.3 166.1h0M362.3 165.7h0M368.5 150.0h0M339.8 142.1h0M363.5 163.6h0M391.3 163.4h0M391.6 162.6h0M385.3 166.5h0M380.2 152.5h0M367.5 154.1h0M362.0 160.4h0M379.5 162.1h0M375.5 161.4h0M380.4 160.2h0M358.2 154.7h0M372.9 165.8h0M374.3 147.3h0M366.2 165.0h0M365.7 162.2h0M374.0 159.7h0M387.8 165.5h0M383.1 164.8h0M391.5 158.3h0M386.1 162.8h0M388.5 158.6h0M371.0 165.6h0M362.1 166.4h0M376.1 164.6h0M357.8 146.0h0M374.3 159.3h0M345.0 165.1h0M373.8 154.0h0M384.1 165.0h0M379.0 156.6h0M353.2 165.3h0M385.0 162.8h0M381.4 164.0h0M392.4 157.3h0M377.1 163.0h0M358.4 165.6h0M390.6 164.4h0M371.9 165.6h0M388.3 165.3h0M365.7 165.9h0M348.4 161.7h0M368.3 165.4h0M384.0 164.9h0M343.4 161.6h0M360.2 164.0h0M359.3 166.6h0M365.0 159.9h0M388.4 166.3h0M351.2 161.5h0M383.8 165.9h0M386.3 165.9h0M388.5 163.4h0M378.7 163.8h0M386.2 166.8h0M383.2 164.8h0M376.4 165.5h0M348.4 154.9h0M389.1 163.9h0M376.3 162.9h0M383.7 163.8h0M373.6 164.2h0M367.9 161.1h0M362.8 165.9h0M373.1 163.0h0M358.2 160.0h0M341.4 163.6h0M382.0 166.2h0M368.1 165.6h0M389.7 163.3h0M387.9 148.5h0M367.5 162.4h0M331.3 153.0h0M365.8 166.7h0M366.5 162.5h0M390.0 157.6h0M381.0 155.1h0M360.9 162.1h0M391.2 157.7h0M388.6 165.5h0M391.9 164.7h0M381.6 154.3h0M350.2 162.2h0M361.2 162.2h0M388.6 160.3h0M389.2 164.1h0M356.1 164.4h0M357.7 157.6h0M369.2 165.5h0M370.5 165.2h0M375.5 160.7h0M389.2 166.6h0M379.7 165.1h0M345.3 164.6h0M379.7 165.7h0M365.6 163.1h0M383.5 161.8h0M382.6 164.8h0M385.6 164.8h0M392.0 162.0h0M385.4 165.2h0M388.3 158.0h0M353.0 164.3h0M359.1 149.6h0M362.8 163.7h0M386.2 166.3h0M385.0 163.3h0M363.3 166.1h0M358.1 165.3h0M359.9 150.9h0M384.6 165.0h0M387.1 162.4h0M377.4 144.0h0M384.5 165.3h0M366.2 158.7h0M385.3 161.1h0M375.6 158.5h0M389.5 160.1h0M375.8 162.0h0M379.8 162.3h0M381.8 150.6h0M386.1 164.3h0M384.0 160.3h0M368.5 162.9h0M372.7 164.6h0M347.8 156.4h0M391.6 162.6h0M364.8 165.2h0M383.1 158.0h0M387.0 160.4h0M386.3 166.5h0M329.3 152.9h0M367.1 161.0h0M379.4 161.2h0M364.0 159.7h0M381.1 162.6h0M389.9 155.8h0M374.7 165.7h0M389.0 161.9h0M390.2 150.6h0M352.6 163.9h0M369.2 157.6h0M376.3 164.3h0M365.3 162.3h0M375.8 162.4h0M378.1 166.9h0M367.2 148.6h0M367.2 159.0h0M379.5 147.7h0M383.4 157.1h0M373.3 160.9h0M382.2 163.3h0M379.8 166.2h0M370.9 159.9h0M368.2 159.3h0M373.2 166.8h0M356.6 162.4h0M357.1 165.2h0M389.1 161.7h0M356.5 159.8h0M390.1 155.6h0M376.9 166.2h0M355.3 165.3h0M383.1 162.8h0M389.6 162.1h0M379.5 152.3h0M378.3 162.8h0M350.3 165.8h0M392.3 166.1h0M340.6 147.4h0M355.4 166.0h0M386.3 159.6h0M363.2 158.0h0M392.4 165.0h0M383.6 166.9h0M369.8 148.7h0M354.5 161.5h0M366.0 165.9h0M366.7 155.5h0M350.1 153.2h0M325.0 153.5h0M382.7 157.7h0M391.1 164.9h0M366.0 163.2h0M383.4 155.8h0M386.0 163.1h0M334.6 158.2h0M381.3 166.5h0M370.6 164.6h0M354.2 156.6h0M392.3 149.9h0M385.0 163.8h0M362.0 165.4h0M383.7 155.9h0M361.4 166.8h0M391.4 166.3h0M391.7 163.2h0M375.0 159.0h0M382.8 166.8h0M383.8 158.0h0M378.9 160.3h0M379.3 156.7h0M375.0 164.8h0M381.4 162.1h0M380.4 165.6h0M353.3 156.2h0M381.7 163.8h0M359.9 163.4h0M375.0 164.6h0M390.6 165.6h0M332.1 154.6h0M377.4 163.5h0M379.6 160.2h0M384.6 164.1h0M389.0 165.5h0M373.2 163.8h0M378.6 162.6h0M355.4 161.5h0M382.9 163.3h0M336.9 154.3h0M356.6 159.5h0M370.4 166.2h0M333.5 150.7h0M370.7 165.6h0M391.2 162.2h0M391.9 158.3h0M358.8 162.5h0M357.3 163.9h0M382.2 164.5h0M386.3 155.2h0M347.9 164.3h0M381.9 162.3h0M344.8 164.4h0M386.6 166.2h0M377.4 164.0h0M383.5 163.2h0M390.0 166.2h0M378.9 166.3h0M366.4 164.8h0M351.2 162.5h0M369.8 164.8h0M391.1 165.8h0M388.5 164.8h0M371.3 163.9h0M371.9 164.4h0M371.5 165.2h0M375.3 166.2h0M377.8 155.4h0M371.2 151.3h0M384.4 164.8h0M351.4 159.5h0M389.0 164.5h0M365.4 149.7h0M390.3 165.5h0M383.0 165.8h0M378.8 162.0h0M357.6 164.5h0M366.5 161.4h0M380.2 160.6h0M379.5 158.4h0M341.2 163.5h0M352.7 164.9h0M379.7 161.5h0M357.7 164.6h0M339.2 159.3h0M390.9 163.6h0M387.7 164.1h0M370.2 156.9h0M335.3 161.4h0M366.4 160.2h0M383.1 164.8h0M363.1 161.6h0M375.7 165.1h0M357.8 164.4h0M388.8 158.2h0M386.2 166.8h0M370.8 159.0h0M381.4 153.6h0M377.9 159.4h0M371.8 163.6h0M384.2 162.9h0M376.3 162.3h0M366.3 161.2h0M344.7 153.6h0M386.6 165.3h0M389.2 162.7h0M367.4 160.6h0M366.3 152.5h0M387.9 157.4h0M384.5 165.5h0M387.1 159.2h0M387.7 163.0h0M386.7 162.6h0M329.7 155.9h0M388.3 165.1h0M381.7 162.9h0M381.1 166.4h0M376.1 164.6h0M372.0 164.1h0M382.5 158.3h0M379.7 160.3h0M391.8 166.6h0M370.3 162.8h0M391.1 164.8h0M385.6 162.1h0M380.9 163.6h0M389.2 152.1h0M384.9 164.3h0M347.9 161.3h0M362.1 166.4h0M388.3 160.9h0M333.1 154.7h0M391.0 162.8h0M372.5 165.3h0M389.7 163.5h0M388.6 138.3h0M381.4 166.5h0M369.5 165.6h0M391.3 165.9h0M382.3 157.4h0M389.8 165.3h0M390.1 164.2h0M368.5 161.4h0M388.5 166.3h0M348.5 163.3h0M390.1 163.4h0M355.5 164.0h0M379.3 148.2h0M387.9 156.6h0M375.4 165.1h0M337.3 157.9h0M381.5 150.9h0M371.5 154.9h0M389.3 164.5h0M385.6 162.4h0M374.5 159.7h0M388.2 157.7h0M384.8 151.8h0M370.2 160.4h0M392.0 165.4h0M327.9 153.8h0M382.7 165.4h0M366.0 163.9h0M388.8 157.0h0M356.5 162.3h0M366.8 161.9h0M363.0 162.0h0M379.8 164.7h0M384.4 155.0h0M428.0 161.1h0M449.4 152.8h0M413.6 165.1h0M464.4 166.5h0M429.8 161.6h0M422.3 161.9h0M422.5 163.6h0M441.8 158.1h0M421.3 166.1h0M437.0 161.1h0M427.3 165.3h0M436.8 165.8h0M426.4 156.8h0M428.4 163.7h0M423.9 161.1h0M417.2 163.8h0M433.7 161.6h0M413.2 163.5h0M441.2 166.7h0M415.1 164.1h0M426.3 164.8h0M422.9 165.3h0M437.7 159.8h0M413.5 144.3h0M414.5 166.3h0M420.6 165.7h0M472.6 164.7h0M438.6 164.3h0M459.9 162.7h0M449.5 162.1h0M415.4 165.3h0M413.7 165.6h0M419.9 162.5h0M420.0 162.7h0M416.9 160.5h0M437.5 161.4h0M415.8 157.4h0M425.2 164.4h0M429.7 162.4h0M415.4 154.4h0M461.4 160.6h0M413.3 163.8h0M453.6 164.5h0M446.3 158.9h0M414.8 163.1h0M462.1 163.1h0M445.2 164.9h0M428.5 158.5h0M413.6 152.0h0M428.1 147.7h0M415.6 162.6h0M430.9 158.8h0M414.6 164.4h0M414.4 164.3h0M435.6 164.9h0M458.8 166.2h0M424.2 164.0h0M418.3 150.5h0M414.5 151.0h0M426.8 165.1h0M420.3 158.4h0M418.9 165.0h0M423.5 164.0h0M469.0 163.8h0M485.1 166.2h0M463.2 147.1h0M450.7 161.1h0M415.1 159.4h0M414.8 166.5h0M422.5 156.8h0M422.5 166.7h0M429.3 157.7h0M460.1 162.8h0M448.3 161.7h0M418.1 161.8h0M443.0 157.1h0M426.8 164.5h0M419.6 154.5h0M431.1 163.9h0M461.2 150.4h0M420.3 157.7h0M422.4 164.7h0M466.8 160.6h0M419.2 164.9h0M480.5 164.0h0M425.7 159.0h0M413.0 158.1h0M438.7 155.6h0M436.7 162.6h0M416.8 165.3h0M419.1 166.6h0M465.6 161.2h0M424.6 161.4h0M422.2 158.1h0M472.6 159.7h0M485.7 165.3h0M450.5 164.5h0M453.9 163.8h0M420.2 129.0h0M479.0 165.0h0M467.2 153.9h0M422.4 165.2h0M435.1 163.5h0M472.9 159.4h0M425.4 143.3h0M461.7 164.4h0M433.2 162.8h0M427.9 164.3h0M451.4 164.4h0M426.8 164.0h0M438.6 154.4h0M480.5 149.4h0M483.8 165.9h0M493.6 159.8h0M478.3 162.0h0M426.0 161.0h0M421.1 161.1h0M424.8 152.7h0M438.2 162.8h0M430.1 150.1h0M430.4 165.7h0M478.6 159.6h0M413.5 160.8h0M418.2 156.1h0M422.8 159.0h0M466.8 166.4h0M421.4 150.2h0M477.4 156.8h0M453.8 163.1h0M470.2 160.3h0M461.8 164.3h0M429.8 165.5h0M414.3 166.9h0M445.3 166.4h0M461.1 165.3h0M437.4 161.4h0M419.5 155.7h0M414.4 163.5h0M421.2 165.2h0M414.6 166.1h0M436.2 161.1h0M421.6 159.3h0M475.5 165.2h0M443.0 162.9h0M422.2 166.7h0M424.4 166.1h0M420.1 162.6h0M432.0 158.4h0M422.4 158.6h0M452.2 161.9h0M417.0 160.3h0M422.2 160.8h0M441.2 157.1h0M443.9 164.8h0M422.9 155.4h0M480.3 163.2h0M417.2 165.9h0M417.3 165.5h0M445.0 164.5h0M427.9 166.0h0M427.6 161.9h0M421.2 166.5h0M453.4 160.8h0M421.1 155.8h0M437.5 163.1h0M417.5 164.1h0M419.3 161.1h0M488.8 164.5h0M422.0 164.7h0M443.4 165.0h0M441.6 157.4h0M420.7 161.2h0M461.7 166.2h0M464.4 165.7h0M412.8 159.6h0M432.3 166.4h0M425.9 154.2h0M428.7 145.7h0M453.8 163.3h0M419.2 149.6h0M435.9 165.6h0M440.0 161.1h0M444.0 160.5h0M462.5 163.2h0M416.5 164.2h0M425.6 162.6h0M436.1 164.9h0M444.2 162.3h0M419.9 158.0h0M416.8 156.9h0M436.0 166.4h0M443.7 163.0h0M453.5 166.4h0M449.2 157.6h0M430.6 164.2h0M429.2 162.7h0M416.1 158.0h0M432.1 153.0h0M417.5 161.8h0M422.9 165.9h0M414.9 155.9h0M417.8 160.8h0M433.4 165.8h0M446.5 164.2h0M438.7 162.2h0M423.9 158.6h0M436.4 151.4h0M415.7 165.1h0M420.9 161.6h0M441.1 165.0h0M479.6 166.3h0M459.9 161.0h0M415.4 164.3h0M418.9 159.0h0M431.8 163.5h0M421.6 164.1h0M419.5 162.2h0M465.9 161.4h0M415.6 166.1h0M435.5 160.2h0M416.4 148.9h0M461.6 158.0h0M442.6 165.9h0M419.5 159.4h0M426.9 165.3h0M429.5 156.0h0M423.2 166.2h0M439.3 162.7h0M418.8 162.7h0M422.7 165.5h0M486.4 155.6h0M444.7 162.8h0M471.4 160.7h0M416.0 166.1h0M422.5 163.1h0M475.3 155.6h0M421.1 163.8h0M483.4 152.5h0M443.1 157.4h0M467.2 157.6h0M445.2 161.1h0M429.1 160.1h0M463.6 158.6h0M452.4 152.2h0M423.9 163.5h0M416.4 164.8h0M442.7 153.6h0M424.0 153.9h0M481.0 166.9h0M430.2 163.3h0M468.3 159.6h0M448.4 156.9h0M412.9 162.4h0M436.0 160.4h0M426.9 165.5h0M433.8 162.2h0M413.6 164.4h0M452.9 164.3h0M479.4 163.6h0M449.2 156.1h0M416.1 148.3h0M450.0 161.6h0M453.9 161.9h0M452.1 166.6h0M459.6 162.9h0M442.3 156.9h0M462.1 150.5h0M427.9 158.4h0M422.6 162.9h0M448.7 159.2h0M427.7 162.3h0M441.0 158.0h0M459.2 165.5h0M443.1 163.9h0M487.3 162.4h0M418.8 149.6h0M434.4 163.5h0M422.7 145.4h0M431.4 158.2h0M418.7 162.3h0M442.0 157.7h0M444.0 161.7h0M437.7 164.1h0M425.3 163.3h0M417.1 157.7h0M422.6 162.2h0M415.7 166.3h0M482.9 163.2h0M414.7 164.7h0M435.9 156.1h0M458.5 162.5h0M431.7 150.8h0M443.8 162.2h0M435.4 161.0h0M446.5 161.1h0M459.1 166.5h0M440.3 160.9h0M417.2 165.7h0M444.7 162.5h0M413.9 166.5h0M414.8 155.8h0M439.9 135.9h0M413.1 163.5h0M427.9 161.4h0M432.1 159.6h0M418.6 166.4h0M444.3 161.2h0M422.4 165.2h0M440.9 143.6h0M477.5 165.8h0M473.1 164.3h0M416.2 166.0h0M441.6 164.8h0M502.7 155.4h0M445.1 166.3h0M442.4 165.6h0M462.3 166.1h0M413.6 164.8h0M462.8 163.3h0M425.0 142.9h0M424.8 166.0h0M435.3 162.4h0M462.4 160.9h0M444.5 140.6h0M436.8 161.5h0M434.6 155.9h0M477.1 165.7h0M416.6 163.0h0M431.6 162.6h0M445.0 159.0h0M432.5 163.5h0M453.8 165.5h0M413.7 160.6h0M438.8 162.9h0M420.9 164.8h0M421.8 160.7h0M494.7 157.3h0M449.2 163.5h0M421.6 155.3h0M462.5 163.9h0M424.9 166.2h0M431.6 163.1h0M443.7 159.8h0M446.9 164.1h0M443.1 156.6h0M439.4 162.6h0M433.0 163.4h0M443.5 165.4h0M464.7 166.6h0M422.0 161.5h0M441.7 161.2h0M439.0 166.1h0M430.1 158.2h0M416.9 164.5h0M441.1 161.5h0M481.7 166.9h0M470.2 157.6h0M434.9 159.3h0M417.2 162.9h0M464.0 157.9h0M424.9 160.7h0M463.5 150.9h0M433.7 151.1h0M424.2 160.7h0M424.1 166.1h0M418.4 161.8h0M488.1 160.3h0M427.4 162.6h0M428.0 164.2h0M448.9 162.5h0M430.3 157.9h0M496.3 164.2h0M445.0 165.7h0M482.6 159.5h0M429.9 165.2h0M423.6 164.2h0M419.9 163.7h0M475.9 165.8h0M423.1 165.5h0M491.7 160.2h0M467.7 158.4h0M446.7 164.3h0M419.3 164.3h0M427.3 153.4h0M460.2 163.3h0M428.7 164.7h0M426.7 166.4h0M414.1 159.7h0M438.4 151.2h0M434.3 163.3h0M432.6 165.4h0M471.9 163.7h0M416.9 166.3h0M449.8 163.8h0M428.2 159.7h0M441.1 164.7h0M420.7 162.3h0M416.6 164.7h0M479.6 165.6h0M450.1 164.1h0M456.3 165.2h0M422.3 159.2h0M426.2 163.2h0M453.2 163.9h0M469.0 164.2h0M468.6 162.9h0M439.1 159.4h0M428.9 160.2h0M452.5 162.7h0M466.3 164.6h0M428.3 147.4h0M442.8 157.3h0M435.5 166.8h0M471.6 166.4h0M446.7 163.6h0M421.7 165.8h0M471.8 166.1h0M415.4 159.0h0M446.4 144.1h0M483.1 162.5h0M428.3 163.4h0M421.8 159.1h0M420.8 155.5h0M418.0 166.1h0M435.6 165.0h0M462.2 156.3h0M425.6 166.4h0M442.2 165.5h0M432.2 158.6h0M443.7 164.9h0M431.7 164.9h0M461.8 157.4h0M455.3 159.1h0M456.7 165.9h0M418.5 158.6h0M425.4 164.4h0M431.5 164.4h0M432.9 153.2h0M482.2 152.9h0M425.4 161.4h0M423.3 166.0h0M430.0 164.7h0M419.4 165.1h0M433.3 163.2h0M418.6 165.7h0M437.1 166.8h0M483.7 163.3h0M437.4 153.2h0M480.0 165.0h0M483.1 162.1h0M414.1 164.7h0M420.2 165.6h0M423.4 165.9h0M438.9 166.2h0M459.7 164.3h0M417.2 164.7h0M443.5 166.5h0M434.3 162.4h0M449.9 156.4h0M421.1 159.6h0M420.9 163.6h0M413.7 158.4h0M417.1 155.2h0M423.2 152.7h0M464.7 153.2h0M453.1 160.1h0M463.7 145.0h0M423.2 164.5h0M468.0 164.4h0M420.4 160.5h0M469.6 161.8h0M419.0 161.3h0M422.3 166.4h0M434.2 166.2h0M489.4 156.7h0M447.4 162.1h0M446.4 166.7h0M425.1 164.9h0M415.3 166.7h0M427.8 162.1h0M503.8 166.0h0M436.8 151.4h0M416.7 147.9h0M431.2 125.1h0M422.4 158.6h0M433.8 164.7h0M443.2 161.9h0M415.1 153.5h0M432.0 163.5h0M448.7 159.9h0M471.8 160.9h0M419.0 161.2h0M418.7 140.3h0M469.5 156.3h0M503.7 163.7h0M491.6 158.1h0M422.5 162.7h0M435.1 152.9h0M437.7 164.5h0M456.9 166.5h0M443.1 145.2h0M438.2 164.1h0M437.2 159.5h0M427.5 162.5h0M440.0 165.6h0M478.6 165.8h0M436.8 166.3h0M419.3 163.6h0M422.7 163.3h0M450.6 156.1h0M415.3 166.8h0M453.2 158.5h0M413.7 162.9h0M469.7 162.2h0M416.2 157.0h0M439.3 166.4h0M448.6 163.2h0M437.4 164.7h0M427.0 157.4h0M455.0 164.0h0M471.7 164.7h0M433.9 161.4h0M416.1 161.1h0M459.6 157.6h0M436.6 166.9h0M417.1 165.6h0M429.6 160.9h0M415.5 150.0h0M443.9 162.5h0M447.4 163.2h0M414.3 160.1h0M490.8 163.9h0M421.6 165.5h0M430.8 164.5h0M439.9 161.2h0M427.0 166.1h0M446.6 166.0h0M453.7 164.5h0M414.3 162.8h0M429.8 161.8h0M414.7 160.8h0M428.8 165.8h0M422.8 159.5h0M417.9 165.5h0M417.7 165.6h0M449.2 152.4h0M466.5 164.2h0M471.7 165.8h0M426.1 145.7h0M417.8 155.3h0M454.7 156.3h0M444.0 164.6h0M414.3 152.2h0M430.9 165.2h0M438.6 163.4h0M459.1 159.9h0M415.0 156.1h0M431.2 149.7h0M470.6 165.8h0M464.4 154.8h0M473.0 155.1h0M469.7 164.7h0M435.6 165.6h0M477.1 165.3h0M414.9 165.6h0M416.5 154.8h0M464.0 163.6h0M438.8 166.7h0M428.7 164.4h0M456.0 163.0h0M425.2 162.2h0M439.6 163.5h0M441.9 163.4h0M454.2 165.8h0M440.0 165.0h0M471.0 165.4h0M452.2 165.1h0M497.3 165.6h0M429.0 159.5h0M453.8 166.0h0M431.8 160.6h0M415.9 158.1h0M427.5 154.6h0M415.1 165.4h0M413.9 164.3h0M461.1 159.1h0M420.7 163.3h0M452.4 164.2h0M443.8 163.5h0M447.6 164.5h0M428.5 163.7h0M418.9 162.8h0M440.5 162.7h0M452.4 166.1h0M452.3 166.7h0M423.7 158.2h0M422.2 165.9h0M468.0 164.7h0M433.4 165.6h0M490.0 166.6h0M419.3 151.5h0M446.0 149.8h0M446.3 165.3h0M418.1 165.6h0M416.1 157.8h0M464.1 149.2h0M441.7 158.0h0M415.5 164.5h0M416.9 163.4h0M437.2 165.3h0M423.2 160.7h0M439.1 165.9h0M422.6 153.1h0M419.6 166.3h0M437.2 163.7h0M417.0 164.5h0M449.6 157.4h0M424.9 161.7h0M461.5 165.5h0M426.1 162.6h0M419.4 165.9h0M455.9 155.1h0M486.5 162.7h0M446.1 157.4h0M444.0 149.4h0M492.4 166.7h0M425.7 159.4h0M422.2 165.5h0M418.8 157.3h0M477.5 163.2h0M431.7 151.6h0M456.3 163.3h0M435.4 152.3h0M415.0 165.2h0M417.1 161.0h0M472.5 165.7h0M456.1 156.6h0M428.8 163.3h0M477.3 164.5h0M460.9 166.8h0M424.1 157.9h0M486.2 163.8h0M488.4 166.6h0M412.8 164.4h0M482.8 165.2h0M438.6 165.1h0M415.1 148.6h0M419.3 165.3h0M413.8 161.4h0M412.9 147.2h0M440.0 155.3h0M416.6 156.1h0M414.7 159.0h0M419.2 165.0h0M440.5 158.3h0M417.4 162.0h0M423.0 163.4h0M412.8 153.6h0M493.0 165.4h0M448.8 163.1h0M439.8 164.5h0M416.1 156.7h0M441.5 166.8h0M442.3 166.0h0M479.4 163.3h0M434.3 164.0h0M416.0 161.2h0M487.4 166.2h0M429.5 153.9h0M495.0 160.0h0M486.3 161.8h0M416.2 166.1h0M498.1 164.4h0M449.5 156.2h0M424.3 165.5h0M437.3 151.3h0M421.4 163.8h0M445.7 156.5h0M420.4 163.9h0M420.0 164.4h0M462.0 165.9h0M455.1 162.9h0M422.3 164.2h0M440.6 146.8h0M475.9 159.8h0M422.2 164.8h0M450.9 165.4h0M443.7 165.3h0M416.5 161.3h0M425.3 157.4h0M443.3 161.2h0M433.6 162.7h0M423.9 162.8h0M439.6 165.4h0M499.8 162.5h0M462.6 166.1h0M472.4 163.3h0M428.7 166.4h0M436.8 164.7h0M436.5 155.6h0M441.7 163.5h0M481.1 165.5h0M459.4 165.1h0M451.5 166.0h0M469.7 165.4h0M422.1 161.0h0M446.0 164.3h0M458.0 159.0h0M418.8 164.0h0M419.6 165.9h0M426.9 157.4h0M439.1 158.8h0M423.9 163.4h0M450.8 164.4h0M424.3 156.1h0M473.7 163.3h0M419.9 157.2h0M441.8 165.0h0M434.7 164.9h0M424.2 157.3h0M422.0 158.3h0M441.1 129.4h0M446.0 156.7h0M441.7 166.3h0M478.0 166.7h0M428.1 157.6h0M442.6 164.8h0M445.7 165.2h0M421.0 162.7h0M455.4 144.4h0M416.4 164.3h0M426.0 153.2h0M471.2 166.8h0M436.3 162.1h0M442.2 157.9h0M485.7 164.1h0M446.7 166.4h0M466.4 163.2h0M441.2 163.6h0M472.0 163.9h0M454.7 158.6h0M428.9 160.3h0M429.7 166.5h0M431.0 159.7h0M428.8 166.7h0M416.3 163.9h0M488.2 164.5h0M436.6 164.4h0M420.2 165.2h0M416.2 165.3h0M413.5 164.6h0M433.6 164.0h0M436.7 164.8h0M448.4 161.5h0M429.1 158.9h0M431.1 160.8h0M430.7 160.3h0M422.5 151.7h0M416.7 165.9h0M486.0 166.1h0M429.0 149.6h0M464.8 161.7h0M417.1 163.1h0M464.8 161.5h0M413.8 165.5h0M430.6 165.4h0M414.8 161.4h0M412.8 151.4h0M449.0 163.4h0M416.5 153.8h0M426.4 154.1h0M429.1 164.3h0M424.5 164.6h0M491.7 164.0h0M474.0 162.7h0M456.0 161.9h0M413.7 152.5h0M437.3 162.6h0M435.9 164.5h0M445.1 159.1h0M433.9 159.1h0M451.5 163.8h0M451.3 158.7h0M454.7 159.9h0M425.0 165.3h0M422.8 159.9h0M422.6 153.9h0M423.0 161.4h0M429.0 165.8h0M436.2 161.5h0M432.0 163.7h0M474.3 164.4h0M470.4 153.9h0M468.8 163.6h0M437.6 166.5h0M413.7 159.3h0M423.3 157.2h0M425.9 165.9h0M435.7 163.9h0M432.1 158.9h0M429.4 161.0h0M430.3 162.6h0M450.2 162.0h0M461.9 164.3h0M435.9 166.8h0M428.9 164.7h0M445.4 164.4h0M421.8 153.0h0M417.8 165.6h0M475.6 166.2h0M436.0 146.6h0M429.7 164.0h0M426.4 166.3h0M462.2 166.1h0M413.0 166.5h0M434.3 163.2h0M446.9 166.7h0M474.5 165.5h0M460.2 162.0h0M437.9 158.7h0M432.6 159.8h0M426.5 165.3h0M421.8 166.6h0M434.0 144.3h0M430.2 163.6h0M501.9 166.4h0M475.6 165.2h0M473.8 164.0h0M466.0 165.8h0M460.5 166.3h0M414.9 163.7h0M419.2 161.0h0M447.9 157.4h0M418.0 161.1h0M415.9 159.9h0M443.2 164.7h0M445.9 166.4h0M427.3 159.1h0M503.7 161.0h0M449.0 156.4h0M417.2 166.8h0M432.9 151.0h0M445.0 158.0h0M446.4 164.5h0M480.6 157.7h0M414.2 162.2h0M447.6 151.6h0M423.8 166.4h0M413.0 146.2h0M453.4 159.7h0M414.3 163.7h0M450.0 166.0h0M435.0 166.5h0M427.4 160.4h0M426.9 162.1h0M414.6 163.9h0M416.7 151.0h0M465.8 161.7h0M453.2 166.3h0M461.9 149.7h0M473.5 152.5h0M414.0 159.6h0M452.5 162.3h0M435.2 158.4h0M454.0 163.8h0M444.7 162.2h0M432.3 163.8h0M426.1 151.6h0M423.2 163.3h0M414.6 161.4h0M424.0 153.9h0M448.3 159.5h0M503.8 166.6h0M431.7 162.4h0M427.7 160.1h0M417.9 159.0h0M431.7 149.6h0M431.5 165.4h0M425.7 161.6h0M438.3 153.6h0M412.8 161.1h0M419.2 161.6h0M436.5 159.7h0M419.4 147.5h0M461.5 166.1h0M423.5 156.9h0M433.3 162.3h0M473.2 164.0h0M443.7 165.9h0M417.0 163.5h0M433.1 160.9h0M469.0 157.9h0M439.6 162.4h0M451.6 165.4h0M422.2 156.5h0M417.7 159.7h0M469.5 161.8h0M448.2 156.2h0M416.1 164.8h0M423.5 158.2h0M491.5 160.5h0M429.2 152.8h0M415.9 163.9h0M425.8 148.0h0M416.8 160.7h0M416.3 162.1h0M449.1 162.4h0M423.1 154.1h0M447.5 161.7h0M417.0 161.3h0M422.9 165.8h0M420.5 165.3h0M424.8 165.5h0M423.8 166.3h0M423.6 161.8h0M452.0 159.0h0M467.3 162.2h0M418.6 156.1h0M466.1 166.6h0M413.8 160.8h0M454.3 165.7h0M415.8 163.3h0M430.1 165.7h0M416.2 158.3h0M471.1 163.7h0M492.7 165.6h0M497.4 162.9h0M424.4 166.8h0M419.5 148.9h0M423.5 164.3h0M455.8 158.1h0M433.2 166.5h0M427.2 164.8h0M460.4 164.1h0M419.4 163.0h0M463.8 165.7h0M417.4 144.1h0M413.6 165.1h0M456.0 165.9h0M419.6 162.8h0M472.4 165.2h0M436.8 160.3h0M461.1 165.8h0M457.1 160.9h0M430.7 164.8h0M437.6 161.3h0M436.9 161.0h0M466.1 164.1h0M497.0 160.2h0M464.6 161.8h0M424.7 155.5h0M445.0 164.6h0M472.6 161.3h0M437.9 164.4h0M474.3 165.7h0M429.1 148.8h0M414.9 164.2h0M421.4 156.5h0M414.8 153.1h0M433.9 164.9h0M459.9 166.0h0M481.7 161.3h0M425.5 163.0h0M430.9 161.8h0M430.9 165.2h0M441.0 166.6h0M425.8 164.5h0M465.7 161.5h0M425.8 165.2h0M434.9 161.0h0M416.0 162.5h0M430.0 161.1h0M441.8 164.3h0M449.0 163.8h0M422.6 164.6h0M437.0 162.2h0M442.1 156.9h0M429.0 163.1h0M426.5 158.2h0M430.0 158.9h0M461.7 163.5h0M451.0 160.9h0M445.4 160.0h0M438.3 163.4h0M468.6 159.4h0M436.9 165.1h0M416.2 163.3h0M490.0 164.1h0M439.5 163.9h0M450.6 165.1h0M427.8 159.6h0M454.3 160.0h0M433.0 161.7h0M425.9 166.1h0M463.3 162.0h0M467.6 160.1h0M479.6 165.6h0M449.0 156.6h0M448.8 164.5h0M433.9 162.3h0M419.5 161.7h0M424.7 156.0h0M431.9 161.5h0M432.8 163.5h0M416.5 145.7h0M415.2 165.4h0M425.9 157.5h0M449.5 165.4h0M420.4 163.4h0M439.4 166.5h0M428.3 165.9h0M501.0 162.4h0M414.6 156.0h0M500.2 164.7h0M439.0 165.1h0M413.0 161.7h0M471.7 165.7h0M454.5 164.4h0M451.1 163.5h0M420.4 165.3h0M494.6 155.0h0M412.9 161.0h0M417.9 153.6h0M432.2 164.6h0M480.2 163.9h0M467.8 166.5h0M415.9 160.5h0M446.4 166.0h0M472.3 164.6h0M452.9 165.3h0M418.9 162.3h0M419.3 163.2h0M468.7 161.0h0M416.3 161.5h0M419.8 157.4h0M420.6 164.3h0M422.7 165.6h0M446.0 164.9h0M419.5 156.4h0M435.9 146.3h0M413.5 162.0h0M469.6 161.2h0M430.0 161.8h0M441.1 155.6h0M429.7 154.6h0M416.1 165.6h0M469.7 162.8h0M426.0 129.9h0M414.3 165.6h0M434.4 158.8h0M467.6 164.5h0M442.6 162.3h0M476.7 159.3h0M452.1 162.3h0M413.4 164.8h0M443.1 155.2h0M427.0 159.3h0M414.5 165.7h0M438.7 159.5h0M431.9 163.8h0M482.5 158.9h0M456.4 166.6h0M427.8 150.5h0M414.1 157.1h0M429.3 153.0h0M495.5 165.3h0M447.4 161.9h0M437.9 160.3h0M427.1 156.6h0M470.8 164.1h0M446.6 164.2h0M417.9 150.8h0M417.5 164.2h0M420.6 164.5h0M496.5 155.1h0M433.5 162.5h0M447.6 164.9h0M429.3 164.7h0M445.8 160.5h0M431.6 162.1h0M434.8 152.6h0M471.3 161.1h0M414.5 158.9h0M426.0 164.3h0M429.9 151.8h0M448.4 166.8h0M457.3 158.0h0M434.5 160.3h0M424.3 164.9h0M442.8 164.3h0M446.1 162.6h0M437.8 150.9h0M435.6 166.9h0M434.6 166.5h0M457.8 164.2h0M444.1 165.4h0M427.9 161.6h0M441.8 160.7h0M450.9 161.2h0M424.6 164.5h0M420.5 159.0h0M418.1 161.6h0M468.9 165.8h0M453.8 162.5h0M430.8 160.4h0M452.3 156.2h0M486.8 165.0h0M433.9 155.2h0M443.6 163.7h0M422.4 165.0h0M445.0 166.3h0M489.7 162.4h0M437.7 152.0h0M416.7 166.6h0M436.8 145.0h0M421.3 159.3h0M417.3 160.6h0M456.0 164.3h0M416.4 144.8h0M428.0 164.0h0M489.4 163.5h0M428.3 161.3h0M439.0 148.6h0M421.0 161.4h0M499.8 165.6h0M422.8 164.9h0M436.2 163.7h0M469.2 159.9h0M417.8 163.9h0M415.3 166.9h0M441.3 162.1h0M425.2 158.9h0M476.3 160.0h0M414.3 149.7h0M431.5 161.1h0M443.1 165.3h0M483.2 162.8h0M447.6 164.9h0M444.7 166.2h0M492.0 166.4h0M416.9 165.3h0M413.1 165.4h0M429.4 158.9h0M463.0 165.7h0M419.3 162.9h0M480.5 147.8h0M423.0 160.5h0M426.7 161.5h0M457.1 162.7h0M453.4 164.1h0M455.9 165.2h0M414.9 158.0h0M446.9 148.3h0M472.4 165.3h0M414.5 163.5h0M475.0 164.2h0M434.8 157.4h0M472.5 160.6h0M422.3 161.4h0M490.3 166.2h0M495.4 162.3h0M415.9 158.3h0M433.8 165.5h0M416.0 166.3h0M435.5 160.3h0M443.5 150.2h0M463.9 162.4h0M465.7 159.4h0M440.5 163.4h0M431.5 163.8h0M431.8 165.0h0M428.4 165.9h0M460.7 165.9h0M424.3 163.8h0M445.2 161.7h0M459.6 159.7h0M430.3 166.5h0M423.4 165.2h0M415.7 159.4h0M422.1 159.3h0M468.1 158.1h0M420.6 154.8h0M420.3 161.3h0M480.6 161.4h0M484.7 163.8h0M431.2 144.3h0M414.4 157.8h0M424.7 165.5h0M487.2 163.4h0M441.9 156.0h0M423.3 162.7h0M434.1 160.7h0M430.1 163.4h0M503.0 166.8h0M424.6 149.3h0M437.3 165.5h0M493.6 165.8h0M422.2 166.5h0M429.1 166.4h0M415.1 161.9h0M425.6 166.6h0M463.3 159.9h0M448.0 165.2h0M416.1 163.8h0M459.8 166.1h0M412.9 165.1h0M431.6 165.2h0M415.9 157.2h0M424.5 166.3h0M424.5 164.7h0M432.7 161.3h0M475.7 166.6h0M414.3 158.2h0M455.8 166.8h0M444.8 166.1h0M414.1 165.7h0M448.5 159.3h0M440.3 161.7h0M421.9 165.1h0M417.5 148.5h0M417.0 165.1h0M419.9 153.9h0M437.9 160.6h0M414.4 166.3h0M466.6 164.5h0M432.5 163.0h0M443.0 160.7h0M416.7 142.3h0M430.3 154.5h0M440.5 166.5h0M439.7 166.1h0M416.3 162.3h0M422.4 153.4h0M414.8 162.8h0M431.2 166.2h0M445.8 161.2h0M473.0 165.6h0M450.1 166.2h0M423.6 166.4h0M445.5 161.2h0M449.2 163.0h0M415.8 166.8h0M452.7 158.8h0M435.6 164.4h0M493.4 166.4h0M419.3 165.6h0M455.5 163.4h0M468.3 165.1h0M436.3 157.2h0M415.8 163.2h0M453.3 162.5h0M415.6 160.5h0M438.9 159.8h0M493.2 164.9h0M435.9 156.6h0M433.5 163.2h0M487.2 160.9h0M457.5 154.9h0M423.0 165.5h0M413.4 159.1h0M434.5 162.6h0M441.7 164.1h0M432.4 154.3h0M448.7 161.3h0M482.2 158.9h0M438.0 162.3h0M493.6 162.6h0M422.7 166.2h0M422.4 160.2h0M419.6 166.1h0M438.8 158.8h0M423.0 159.1h0M468.7 164.2h0M440.2 161.4h0M420.7 162.5h0M473.4 164.8h0M424.9 163.7h0M442.3 162.4h0M431.4 149.5h0M423.2 166.9h0M415.6 163.5h0M452.5 164.4h0M442.2 153.7h0M428.0 156.9h0M455.6 160.5h0M433.5 165.6h0M444.7 164.2h0M461.8 162.6h0M424.3 160.5h0M424.4 164.6h0M424.0 164.5h0M436.0 160.3h0M429.0 165.5h0M438.0 166.2h0M436.1 154.4h0M417.3 154.6h0M423.0 153.0h0M417.2 165.9h0M417.9 138.0h0M416.0 166.4h0M448.3 166.8h0M458.2 163.5h0M437.9 162.6h0M443.6 152.2h0M430.0 165.4h0M478.0 165.3h0M440.1 164.7h0M439.2 163.0h0M466.8 166.3h0M450.9 162.7h0M452.4 157.9h0M447.3 166.1h0M425.8 165.8h0M470.1 164.8h0M445.0 165.1h0M412.8 166.7h0M415.2 164.2h0M433.8 150.9h0M452.4 165.0h0M456.5 164.1h0M433.3 162.8h0M420.2 163.5h0M422.9 160.7h0M447.1 159.0h0M426.0 158.3h0M425.9 164.0h0M426.0 164.0h0M459.5 164.3h0M429.6 163.1h0M445.4 166.3h0M419.4 156.0h0M413.8 158.7h0M450.5 162.9h0M418.1 161.0h0M430.7 162.0h0M432.9 164.5h0M416.5 164.7h0M472.2 166.3h0M415.1 154.8h0M412.9 164.6h0M446.2 157.0h0M437.1 160.4h0M413.0 158.0h0M437.4 159.8h0M413.6 158.8h0M419.0 160.5h0M420.2 164.8h0M415.0 157.1h0M463.8 164.3h0M421.0 166.7h0M435.5 160.5h0M481.9 163.0h0M413.8 140.5h0M425.3 163.1h0M423.0 148.8h0M444.3 165.0h0M427.3 159.3h0M443.1 165.9h0M456.8 154.1h0M435.7 155.7h0M438.4 161.9h0M426.0 150.4h0M458.9 162.4h0M430.8 160.1h0M416.9 158.9h0M423.2 138.7h0M416.1 158.5h0M444.6 165.4h0M426.2 159.9h0M441.3 161.3h0M446.4 166.5h0M440.8 165.4h0M420.4 164.0h0M438.7 159.7h0M425.1 163.3h0M422.3 159.4h0M414.4 162.5h0M414.0 166.1h0M482.7 165.3h0M463.0 164.6h0M418.2 164.7h0M444.9 162.1h0M432.1 162.3h0M485.9 166.7h0M427.0 151.4h0M433.2 163.8h0M421.2 155.9h0M462.2 165.4h0M442.6 166.5h0M436.8 162.3h0M433.4 161.4h0M440.8 157.7h0M413.0 160.4h0M460.5 162.9h0M413.6 164.6h0M436.2 164.4h0M421.1 158.3h0M431.5 164.8h0M493.6 166.3h0M481.2 165.8h0M421.7 157.7h0M460.7 154.5h0M487.4 156.5h0M464.7 148.4h0M422.0 160.4h0M420.3 156.8h0M414.7 162.6h0M419.6 166.2h0M450.4 161.8h0M424.3 157.1h0M449.1 166.1h0M444.3 163.4h0M415.2 148.6h0M438.4 164.3h0M425.9 166.3h0M424.1 164.3h0M435.3 165.6h0M472.8 158.8h0M421.6 160.8h0M450.0 166.2h0M417.0 157.7h0M481.6 158.0h0M416.1 158.9h0M472.1 163.0h0M421.2 159.0h0M416.9 162.9h0M446.0 166.0h0M483.5 161.3h0M432.2 163.7h0M422.3 157.8h0M461.7 163.5h0M416.1 165.4h0M470.6 163.4h0M419.0 158.9h0M413.6 166.0h0M457.0 163.9h0M423.1 160.8h0M435.3 163.7h0M475.8 159.1h0M423.1 163.5h0M440.5 158.3h0M442.6 164.1h0M431.9 161.1h0M462.9 165.9h0M418.5 157.3h0M453.4 159.6h0M469.0 162.3h0M418.9 166.8h0M435.2 160.0h0M415.7 164.5h0M414.1 166.0h0M449.1 157.9h0M435.5 156.9h0M414.0 160.9h0M433.4 161.9h0M465.7 166.8h0M428.3 165.5h0M421.4 161.3h0M433.4 164.7h0M419.6 163.3h0M427.2 157.3h0M426.7 166.9h0M432.1 156.9h0M438.1 160.1h0M457.2 165.1h0M423.5 157.1h0M428.3 162.2h0M432.2 158.7h0M428.2 147.6h0M479.9 161.9h0M425.2 162.3h0M423.8 154.2h0M428.3 161.4h0M418.1 165.2h0M477.2 164.9h0M419.6 159.8h0M417.4 156.5h0M423.5 161.1h0M414.7 165.9h0M455.2 157.9h0M428.9 164.6h0M437.9 163.1h0M418.8 162.8h0M426.2 156.9h0M422.3 164.8h0M437.3 162.8h0M425.9 166.6h0M417.3 152.5h0M447.8 159.6h0M420.8 157.1h0M428.6 164.1h0M417.6 165.7h0M429.7 165.5h0M423.4 166.4h0M424.3 160.1h0M438.1 159.0h0M442.0 158.2h0M426.9 140.9h0M446.8 166.5h0M443.9 161.4h0M451.8 165.9h0M440.9 162.8h0M477.3 165.7h0M454.5 166.3h0M425.5 157.5h0M428.1 163.3h0M471.2 163.4h0M428.4 165.0h0M427.8 151.7h0M441.1 158.2h0M453.1 163.9h0M466.2 156.4h0M441.6 161.6h0M454.9 163.7h0M416.8 164.8h0M442.3 163.6h0M452.9 157.5h0M432.9 156.1h0M413.7 150.5h0M430.6 163.5h0M451.2 165.3h0M419.7 158.8h0M427.1 164.0h0M435.3 161.6h0M445.4 163.3h0M498.4 164.7h0M448.0 165.4h0M418.9 151.3h0M417.6 151.9h0M439.6 163.6h0M418.9 155.1h0M463.1 166.8h0M413.7 157.1h0M466.6 163.3h0M417.2 140.8h0M438.4 159.7h0M423.6 151.0h0M445.4 157.3h0M419.1 158.6h0M422.1 144.3h0M455.2 166.2h0M499.9 164.2h0M425.5 152.7h0M417.4 164.6h0M413.5 153.9h0M415.2 158.0h0M482.8 161.4h0M440.3 166.8h0M436.0 151.1h0M481.2 165.2h0M449.0 163.9h0M425.0 165.2h0M488.3 164.3h0M426.3 154.1h0M465.6 159.8h0M436.6 166.6h0M456.0 162.4h0M416.2 166.6h0M416.3 162.8h0M418.1 164.9h0M492.3 164.9h0M436.6 164.6h0M429.9 159.7h0M450.6 165.1h0M460.3 157.6h0M451.6 162.7h0M460.6 152.4h0M447.3 155.6h0M434.2 161.9h0M428.7 154.9h0M448.6 163.4h0M481.3 157.7h0M427.4 155.2h0M440.8 150.1h0M435.8 160.3h0M436.5 163.1h0M418.2 161.5h0M418.9 162.1h0M485.2 159.6h0M427.3 162.7h0M417.2 155.9h0M454.8 161.2h0M420.2 162.4h0M413.8 158.3h0M483.9 158.0h0M477.2 163.6h0M442.9 165.0h0M425.2 161.3h0M417.3 160.1h0M415.4 164.2h0M430.7 165.3h0M425.7 165.2h0M413.2 163.3h0M428.5 160.3h0M444.1 152.8h0M447.2 163.2h0M428.0 164.2h0M416.7 164.1h0M480.8 166.6h0M427.5 159.7h0M474.6 165.9h0M467.5 156.9h0M447.2 164.4h0M433.7 146.5h0M489.8 166.0h0M498.3 165.9h0M424.0 129.7h0M418.6 156.9h0M435.4 157.6h0M458.8 165.6h0M468.3 164.4h0M440.3 166.3h0M414.1 161.6h0M430.8 159.7h0M414.1 158.6h0M423.1 153.0h0M482.3 159.1h0M462.4 166.1h0M445.8 160.7h0M458.8 165.9h0M423.9 165.4h0M427.6 155.6h0M461.1 149.7h0M428.5 156.5h0M434.9 159.4h0M420.9 163.4h0M415.0 163.9h0M416.7 144.0h0M496.5 163.8h0M450.4 164.0h0M423.9 161.0h0M419.0 164.5h0M422.9 157.5h0M432.5 162.3h0M497.2 165.6h0M424.3 165.9h0M436.3 161.0h0M426.4 157.6h0M420.9 163.6h0M432.7 162.7h0M425.6 134.7h0M445.9 166.9h0M464.0 164.0h0M428.9 165.8h0M423.0 156.4h0M482.6 158.7h0M423.7 148.2h0M417.8 166.1h0M455.5 166.7h0M467.4 165.1h0M417.5 160.7h0M415.2 158.1h0M417.5 162.0h0M464.7 157.1h0M476.1 159.7h0M439.0 162.8h0M422.5 164.4h0M424.5 163.4h0M422.5 163.1h0M413.4 149.6h0M467.1 165.2h0M413.7 160.7h0M435.7 160.9h0M484.9 163.4h0M451.8 162.9h0" stroke="#f2301e" stroke-width="1.3" stroke-linecap="round" fill="none"/>
<path d="M356.3 27.0h0M351.6 44.9h0M375.8 127.0h0M371.7 158.3h0M339.6 134.9h0M370.7 148.5h0M364.7 152.8h0M372.8 88.1h0M347.9 157.9h0M334.7 135.4h0M373.4 148.8h0M384.1 119.7h0M378.4 134.5h0M348.2 153.0h0M344.4 149.7h0M383.5 62.7h0M360.2 142.7h0M388.4 111.7h0M354.2 154.3h0M386.5 153.9h0M359.6 131.7h0M389.7 93.4h0M391.6 140.4h0M379.7 148.0h0M390.9 95.7h0M392.2 123.8h0M356.5 154.8h0M361.5 116.8h0M346.2 60.4h0M367.7 149.9h0M378.7 157.1h0M391.7 151.3h0M388.7 85.4h0M365.1 134.0h0M390.7 53.4h0M388.6 107.4h0M327.4 120.8h0M388.4 84.6h0M379.9 112.7h0M379.1 141.6h0M379.9 80.3h0M392.2 112.6h0M374.3 139.4h0M387.2 154.3h0M384.3 112.4h0M377.6 89.0h0M389.2 157.3h0M380.7 51.9h0M390.6 110.8h0M339.0 124.0h0M358.8 125.5h0M381.9 114.7h0M391.1 79.3h0M379.5 150.0h0M374.7 112.7h0M375.5 83.2h0M391.9 73.5h0M357.9 131.9h0M374.6 92.6h0M382.9 107.4h0M376.0 156.8h0M365.8 154.7h0M384.4 158.4h0M386.5 120.7h0M348.4 121.1h0M384.5 124.2h0M351.0 106.6h0M383.3 26.7h0M388.5 77.3h0M383.9 146.9h0M331.1 113.3h0M381.9 114.8h0M389.6 139.6h0M379.6 152.7h0M386.0 74.1h0M384.3 123.4h0M358.3 103.2h0M391.5 114.0h0M356.5 63.1h0M392.2 106.5h0M390.3 141.3h0M360.1 60.8h0M386.6 103.4h0M391.1 149.4h0M372.8 151.3h0M385.9 118.1h0M366.8 135.1h0M383.8 100.7h0M378.0 121.4h0M392.4 151.1h0M386.3 123.3h0M387.6 157.2h0M391.6 74.0h0M365.2 78.8h0M327.0 103.5h0M373.1 146.9h0M386.4 108.9h0M386.2 155.3h0M376.0 124.1h0M391.7 131.1h0M387.8 155.5h0M388.6 113.7h0M382.8 146.1h0M383.8 91.1h0M376.6 42.5h0M365.7 142.9h0M381.6 156.9h0M354.7 118.6h0M372.2 142.9h0M389.7 151.7h0M371.1 149.2h0M376.6 154.9h0M381.5 141.3h0M372.1 60.0h0M389.8 154.1h0M374.6 143.8h0M381.1 77.1h0M390.0 72.7h0M369.0 41.5h0M365.9 69.6h0M388.6 120.4h0M353.7 149.6h0M355.8 134.5h0M363.0 138.2h0M390.4 155.4h0M385.7 136.3h0M385.0 153.1h0M349.6 132.4h0M387.9 158.4h0M384.7 54.3h0M382.9 112.8h0M375.7 152.3h0M369.5 118.8h0M373.4 150.5h0M377.4 95.6h0M366.9 111.0h0M387.1 121.0h0M354.5 142.5h0M363.0 145.1h0M370.8 153.8h0M362.5 156.5h0M362.8 75.0h0M383.9 34.8h0M363.3 137.5h0M386.3 158.3h0M386.5 95.7h0M421.7 159.9h0M482.4 145.4h0M423.3 141.1h0M426.8 124.9h0M439.4 132.6h0M440.6 156.3h0M431.7 157.8h0M416.8 125.6h0M421.0 151.6h0M463.6 118.4h0M418.3 148.6h0M416.7 151.1h0M413.3 135.8h0M426.8 152.6h0M500.1 142.4h0M430.6 143.2h0M472.2 154.6h0M420.5 140.3h0M434.1 150.3h0M434.2 98.6h0M428.5 132.0h0M464.7 119.4h0M466.4 127.9h0M444.4 145.1h0M416.1 155.4h0M415.8 153.9h0M428.1 158.0h0M432.3 110.2h0M417.9 133.0h0M427.2 147.4h0M433.7 149.0h0M413.5 156.2h0M414.1 138.2h0M420.0 150.2h0M422.6 141.1h0M422.9 160.5h0M461.0 143.2h0M443.9 138.4h0M481.0 142.2h0M416.4 134.7h0M418.6 159.5h0M428.5 145.0h0M426.3 158.3h0M477.5 160.0h0M458.4 144.4h0M418.8 143.0h0M432.7 159.0h0M444.1 153.1h0M425.6 144.0h0M420.8 145.2h0M475.2 157.5h0M455.9 153.7h0M414.0 145.3h0M413.6 139.8h0M476.4 161.2h0M420.0 141.1h0" stroke="#f24a2e" stroke-width="1.45" stroke-linecap="round" fill="none"/>
<line x1="392.6" y1="17" x2="392.6" y2="178" stroke="#333" stroke-width="0.8" stroke-dasharray="2.6 1.6"/>
<line x1="412.4" y1="17" x2="412.4" y2="178" stroke="#333" stroke-width="0.8" stroke-dasharray="2.6 1.6"/>
<line x1="309" y1="167.0" x2="513" y2="167.0" stroke="#444" stroke-width="0.8" stroke-dasharray="2.6 1.6"/>
<line x1="368.8" y1="112.6" x2="377.0" y2="121.9" stroke="#333" stroke-width="0.8"/>
<line x1="363.5" y1="120.6" x2="372.2" y2="128.4" stroke="#333" stroke-width="0.8"/>
<line x1="391.0" y1="109.1" x2="384.0" y2="119.2" stroke="#333" stroke-width="0.8"/>
<line x1="392.0" y1="120.6" x2="378.5" y2="124.6" stroke="#333" stroke-width="0.8"/>
<line x1="392.0" y1="128.6" x2="379.0" y2="130.3" stroke="#333" stroke-width="0.8"/>
<line x1="349.8" y1="141.9" x2="369.6" y2="141.9" stroke="#333" stroke-width="0.8"/>
<line x1="357.0" y1="149.6" x2="369.6" y2="149.2" stroke="#333" stroke-width="0.8"/>
<line x1="356.0" y1="157.7" x2="377.7" y2="157.7" stroke="#333" stroke-width="0.8"/>
<line x1="357.5" y1="170.6" x2="376.3" y2="162.5" stroke="#333" stroke-width="0.8"/>
<line x1="375.0" y1="139.5" x2="377.0" y2="150.5" stroke="#333" stroke-width="0.8"/>
<line x1="392.0" y1="147.5" x2="381.5" y2="153.8" stroke="#333" stroke-width="0.8"/>
<line x1="392.0" y1="156.0" x2="380.0" y2="157.0" stroke="#333" stroke-width="0.8"/>
<line x1="398.0" y1="162.5" x2="389.6" y2="160.6" stroke="#333" stroke-width="0.8"/>
<circle cx="381.5" cy="79.2" r="2.7" fill="#5ccbe0"/>
<circle cx="372.4" cy="98.2" r="2.7" fill="#5ccbe0"/>
<circle cx="321.3" cy="103.3" r="2.7" fill="#5ccbe0"/>
<circle cx="353.1" cy="134.4" r="2.7" fill="#5ccbe0"/>
<circle cx="384.0" cy="119.5" r="2.7" fill="#5ccbe0"/>
<circle cx="377.8" cy="121.9" r="2.7" fill="#5ccbe0"/>
<circle cx="378.5" cy="125.8" r="2.7" fill="#5ccbe0"/>
<circle cx="371.8" cy="129.0" r="2.7" fill="#5ccbe0"/>
<circle cx="377.8" cy="130.5" r="2.7" fill="#5ccbe0"/>
<circle cx="369.9" cy="141.5" r="2.7" fill="#5ccbe0"/>
<circle cx="369.5" cy="149.4" r="2.7" fill="#5ccbe0"/>
<circle cx="376.2" cy="153.8" r="2.7" fill="#5ccbe0"/>
<circle cx="382.9" cy="152.6" r="2.7" fill="#5ccbe0"/>
<circle cx="379.3" cy="156.2" r="2.7" fill="#5ccbe0"/>
<circle cx="381.3" cy="158.2" r="2.7" fill="#5ccbe0"/>
<circle cx="377.5" cy="157.5" r="2.7" fill="#5ccbe0"/>
<circle cx="376.2" cy="163.2" r="2.7" fill="#5ccbe0"/>
<circle cx="389.6" cy="160.8" r="2.7" fill="#5ccbe0"/>
<text x="369.00" y="75.00" font-size="7.8" fill="#1a1a1a" textLength="21.00" lengthAdjust="spacingAndGlyphs">HMBS</text>
<text x="353.10" y="93.80" font-size="7.8" fill="#1a1a1a" textLength="35.30" lengthAdjust="spacingAndGlyphs">SLC25A37</text>
<text x="313.80" y="98.00" font-size="7.8" fill="#1a1a1a" textLength="20.10" lengthAdjust="spacingAndGlyphs">GYPA</text>
<text x="348.40" y="112.30" font-size="7.8" fill="#1a1a1a" textLength="20.00" lengthAdjust="spacingAndGlyphs">EPOR</text>
<text x="392.40" y="110.50" font-size="7.8" fill="#1a1a1a" textLength="20.20" lengthAdjust="spacingAndGlyphs">PPOX</text>
<text x="344.00" y="121.50" font-size="7.8" fill="#1a1a1a" textLength="18.50" lengthAdjust="spacingAndGlyphs">TFRC</text>
<text x="392.90" y="122.30" font-size="7.8" fill="#1a1a1a" textLength="12.40" lengthAdjust="spacingAndGlyphs">KEL</text>
<text x="392.90" y="131.10" font-size="7.8" fill="#1a1a1a" textLength="15.60" lengthAdjust="spacingAndGlyphs">KLF1</text>
<text x="326.30" y="136.50" font-size="7.8" fill="#1a1a1a" textLength="22.60" lengthAdjust="spacingAndGlyphs">EPB42</text>
<text x="369.80" y="138.80" font-size="7.8" fill="#1a1a1a" textLength="21.00" lengthAdjust="spacingAndGlyphs">ALAS2</text>
<text x="328.80" y="144.20" font-size="7.8" fill="#1a1a1a" textLength="19.50" lengthAdjust="spacingAndGlyphs">FECH</text>
<text x="392.60" y="150.00" font-size="7.8" fill="#1a1a1a" textLength="19.80" lengthAdjust="spacingAndGlyphs">ADD2</text>
<text x="328.30" y="151.90" font-size="7.8" fill="#1a1a1a" textLength="28.10" lengthAdjust="spacingAndGlyphs">ABCB6</text>
<text x="393.30" y="158.10" font-size="7.8" fill="#1a1a1a" textLength="13.60" lengthAdjust="spacingAndGlyphs">HBB</text>
<text x="334.00" y="160.00" font-size="7.8" fill="#1a1a1a" textLength="21.00" lengthAdjust="spacingAndGlyphs">CPOX</text>
<text x="398.40" y="165.00" font-size="7.8" fill="#1a1a1a" textLength="23.00" lengthAdjust="spacingAndGlyphs">EPB41</text>
<text x="330.20" y="173.10" font-size="7.8" fill="#1a1a1a" textLength="27.70" lengthAdjust="spacingAndGlyphs">HEMGN</text>
<rect x="309" y="16.5" width="204" height="162" fill="none" stroke="#333" stroke-width="1.2"/>
<line x1="305.8" y1="171.9" x2="309" y2="171.9" stroke="#333" stroke-width="1"/>
<text x="302.90" y="174.50" font-size="7.3" fill="#222" stroke="#222" stroke-width="0.15" text-anchor="end">0</text>
<line x1="305.8" y1="122.4" x2="309" y2="122.4" stroke="#333" stroke-width="1"/>
<text x="302.90" y="125.03" font-size="7.3" fill="#222" stroke="#222" stroke-width="0.15" text-anchor="end">10</text>
<line x1="305.8" y1="73.0" x2="309" y2="73.0" stroke="#333" stroke-width="1"/>
<text x="302.90" y="75.56" font-size="7.3" fill="#222" stroke="#222" stroke-width="0.15" text-anchor="end">20</text>
<line x1="305.8" y1="23.5" x2="309" y2="23.5" stroke="#333" stroke-width="1"/>
<text x="302.90" y="26.09" font-size="7.3" fill="#222" stroke="#222" stroke-width="0.15" text-anchor="end">30</text>
<line x1="351.9" y1="178.5" x2="351.9" y2="181.6" stroke="#333" stroke-width="1"/>
<text x="351.90" y="190.90" font-size="7.3" fill="#222" stroke="#222" stroke-width="0.15" text-anchor="middle">&#8211;3</text>
<line x1="402.6" y1="178.5" x2="402.6" y2="181.6" stroke="#333" stroke-width="1"/>
<text x="402.60" y="190.90" font-size="7.3" fill="#222" stroke="#222" stroke-width="0.15" text-anchor="middle">0</text>
<line x1="453.3" y1="178.5" x2="453.3" y2="181.6" stroke="#333" stroke-width="1"/>
<text x="453.30" y="190.90" font-size="7.3" fill="#222" stroke="#222" stroke-width="0.15" text-anchor="middle">3</text>
<line x1="504.0" y1="178.5" x2="504.0" y2="181.6" stroke="#333" stroke-width="1"/>
<text x="504.00" y="190.90" font-size="7.3" fill="#222" stroke="#222" stroke-width="0.15" text-anchor="middle">6</text>
<text x="383.00" y="203.50" font-size="9.0" fill="#222" stroke="#222" stroke-width="0.15" textLength="56.30" lengthAdjust="spacingAndGlyphs">log2 fold change</text>
<text transform="translate(288.4,117.0) rotate(-90)" font-size="9" fill="#222" stroke="#222" stroke-width="0.15" textLength="39" lengthAdjust="spacingAndGlyphs">-log10 padj</text>
<text x="329.50" y="30.90" font-size="8.4" fill="#222" stroke="#222" stroke-width="0.12" textLength="43.80" lengthAdjust="spacingAndGlyphs">1,451 down</text>
<text x="440.80" y="31.00" font-size="8.4" fill="#222" stroke="#222" stroke-width="0.12" textLength="32.50" lengthAdjust="spacingAndGlyphs">1,721 up</text>
<text x="78.30" y="103.50" font-size="9.65" fill="#c4102e" stroke="#c4102e" stroke-width="0.1" textLength="86.30" lengthAdjust="spacingAndGlyphs">Up-regulated genes</text>
<text x="70.60" y="123.10" font-size="8.19" fill="#1a1a1a" stroke="#1a1a1a" stroke-width="0.1" textLength="95.40" lengthAdjust="spacingAndGlyphs">Myeloid cell differentiation</text>
<text x="86.20" y="139.70" font-size="8.16" fill="#1a1a1a" stroke="#1a1a1a" stroke-width="0.1" textLength="79.80" lengthAdjust="spacingAndGlyphs">Platelet degranulation</text>
<text x="112.30" y="156.70" font-size="7.89" fill="#1a1a1a" stroke="#1a1a1a" stroke-width="0.1" textLength="53.70" lengthAdjust="spacingAndGlyphs">Focal adhesion</text>
<text x="15.00" y="173.00" font-size="8.1" fill="#1a1a1a" stroke="#1a1a1a" stroke-width="0.1" textLength="151.00" lengthAdjust="spacingAndGlyphs">Regulation of apoptotic signaling pathway</text>
<rect x="170" y="118.8" width="23.1" height="4.7" fill="#c4102e"/>
<rect x="170" y="135.0" width="24.9" height="4.7" fill="#c4102e"/>
<rect x="170" y="151.6" width="36.5" height="4.7" fill="#c4102e"/>
<rect x="170" y="168.1" width="44.6" height="4.7" fill="#c4102e"/>
<line x1="169.5" y1="112.7" x2="169.5" y2="179.1" stroke="#111" stroke-width="1.15"/>
<line x1="169.0" y1="178.5" x2="226.5" y2="178.5" stroke="#111" stroke-width="1.15"/>
<line x1="169.7" y1="178.5" x2="169.7" y2="181.2" stroke="#111" stroke-width="1"/>
<text x="169.70" y="190.70" font-size="7.3" fill="#222" text-anchor="middle">0</text>
<line x1="187.2" y1="178.5" x2="187.2" y2="181.2" stroke="#111" stroke-width="1"/>
<text x="187.20" y="190.70" font-size="7.3" fill="#222" text-anchor="middle">4</text>
<line x1="204.9" y1="178.5" x2="204.9" y2="181.2" stroke="#111" stroke-width="1"/>
<text x="204.90" y="190.70" font-size="7.3" fill="#222" text-anchor="middle">8</text>
<line x1="222.3" y1="178.5" x2="222.3" y2="181.2" stroke="#111" stroke-width="1"/>
<text x="222.30" y="190.70" font-size="7.3" fill="#222" text-anchor="middle">12</text>
<rect x="95.3" y="203.4" width="4.9" height="4.3" fill="#c4102e"/>
<text x="102.80" y="207.30" font-size="7.18" fill="#222" stroke="#222" stroke-width="0.1" textLength="52.60" lengthAdjust="spacingAndGlyphs">&#8211;log10 (P value)</text>
<text x="79.20" y="236.30" font-size="9.64" fill="#2b63a0" stroke="#2b63a0" stroke-width="0.1" textLength="98.70" lengthAdjust="spacingAndGlyphs">Down-regulated genes</text>
<text x="77.30" y="256.20" font-size="7.98" fill="#1a1a1a" stroke="#1a1a1a" stroke-width="0.1" textLength="88.30" lengthAdjust="spacingAndGlyphs">Heme metabolic process</text>
<text x="55.80" y="273.00" font-size="8.01" fill="#1a1a1a" stroke="#1a1a1a" stroke-width="0.1" textLength="109.80" lengthAdjust="spacingAndGlyphs">Positive regulation of cell cycle</text>
<text x="69.20" y="289.30" font-size="7.98" fill="#1a1a1a" stroke="#1a1a1a" stroke-width="0.1" textLength="96.40" lengthAdjust="spacingAndGlyphs">Heme biosynthetic process</text>
<text x="23.10" y="306.30" font-size="8.01" fill="#1a1a1a" stroke="#1a1a1a" stroke-width="0.1" textLength="142.50" lengthAdjust="spacingAndGlyphs">Regulation of chromosome organization</text>
<rect x="170" y="252.0" width="32.8" height="4.7" fill="#10487f"/>
<rect x="170" y="268.5" width="32.8" height="4.7" fill="#10487f"/>
<rect x="170" y="284.9" width="35.7" height="4.7" fill="#10487f"/>
<rect x="170" y="301.5" width="42.8" height="4.7" fill="#10487f"/>
<line x1="169.5" y1="246.2" x2="169.5" y2="312.4" stroke="#111" stroke-width="1.15"/>
<line x1="169.0" y1="311.8" x2="232.6" y2="311.8" stroke="#111" stroke-width="1.15"/>
<line x1="169.7" y1="311.8" x2="169.7" y2="314.5" stroke="#111" stroke-width="1"/>
<text x="169.70" y="324.30" font-size="7.3" fill="#222" text-anchor="middle">0</text>
<line x1="199.2" y1="311.8" x2="199.2" y2="314.5" stroke="#111" stroke-width="1"/>
<text x="199.20" y="324.30" font-size="7.3" fill="#222" text-anchor="middle">4</text>
<line x1="228.8" y1="311.8" x2="228.8" y2="314.5" stroke="#111" stroke-width="1"/>
<text x="228.80" y="324.30" font-size="7.3" fill="#222" text-anchor="middle">8</text>
<rect x="95.2" y="332.3" width="4.9" height="4.2" fill="#10487f"/>
<text x="102.50" y="336.20" font-size="7.23" fill="#222" stroke="#222" stroke-width="0.1" textLength="53.10" lengthAdjust="spacingAndGlyphs">&#8211;log10 (P value)</text>
<line x1="320.50" y1="285.1" x2="320.50" y2="294.8" stroke="#2a2a2a" stroke-width="1.0"/>
<line x1="318.30" y1="294.8" x2="322.70" y2="294.8" stroke="#2a2a2a" stroke-width="1.0"/>
<rect x="318.3" y="257.0" width="4.4" height="28.1" fill="#33b249"/>
<line x1="326.20" y1="272.7" x2="326.20" y2="282.2" stroke="#2a2a2a" stroke-width="1.0"/>
<line x1="324.00" y1="282.2" x2="328.40" y2="282.2" stroke="#2a2a2a" stroke-width="1.0"/>
<rect x="324.0" y="257.0" width="4.4" height="15.7" fill="#c8102e"/>
<line x1="332.00" y1="273.9" x2="332.00" y2="291.9" stroke="#2a2a2a" stroke-width="1.0"/>
<line x1="329.80" y1="291.9" x2="334.20" y2="291.9" stroke="#2a2a2a" stroke-width="1.0"/>
<rect x="329.8" y="257.0" width="4.4" height="16.9" fill="#124a80"/>
<text transform="translate(325.7,252.4) rotate(45)" font-size="7.8" fill="#222" text-anchor="end">ALAS2</text>
<line x1="349.30" y1="291.7" x2="349.30" y2="301.1" stroke="#2a2a2a" stroke-width="1.0"/>
<line x1="347.10" y1="301.1" x2="351.50" y2="301.1" stroke="#2a2a2a" stroke-width="1.0"/>
<rect x="347.1" y="257.0" width="4.4" height="34.7" fill="#33b249"/>
<line x1="355.10" y1="276.8" x2="355.10" y2="285.8" stroke="#2a2a2a" stroke-width="1.0"/>
<line x1="352.90" y1="285.8" x2="357.30" y2="285.8" stroke="#2a2a2a" stroke-width="1.0"/>
<rect x="352.9" y="257.0" width="4.4" height="19.8" fill="#c8102e"/>
<line x1="360.90" y1="275.9" x2="360.90" y2="294.1" stroke="#2a2a2a" stroke-width="1.0"/>
<line x1="358.70" y1="294.1" x2="363.10" y2="294.1" stroke="#2a2a2a" stroke-width="1.0"/>
<rect x="358.7" y="257.0" width="4.4" height="18.9" fill="#124a80"/>
<text transform="translate(354.5,252.4) rotate(45)" font-size="7.8" fill="#222" text-anchor="end">FECH</text>
<line x1="377.60" y1="279.1" x2="377.60" y2="284.9" stroke="#2a2a2a" stroke-width="1.0"/>
<line x1="375.40" y1="284.9" x2="379.80" y2="284.9" stroke="#2a2a2a" stroke-width="1.0"/>
<rect x="375.4" y="257.0" width="4.4" height="22.1" fill="#33b249"/>
<line x1="383.40" y1="271.4" x2="383.40" y2="276.8" stroke="#2a2a2a" stroke-width="1.0"/>
<line x1="381.20" y1="276.8" x2="385.60" y2="276.8" stroke="#2a2a2a" stroke-width="1.0"/>
<rect x="381.2" y="257.0" width="4.4" height="14.4" fill="#c8102e"/>
<line x1="389.30" y1="273.9" x2="389.30" y2="292.1" stroke="#2a2a2a" stroke-width="1.0"/>
<line x1="387.10" y1="292.1" x2="391.50" y2="292.1" stroke="#2a2a2a" stroke-width="1.0"/>
<rect x="387.1" y="257.0" width="4.4" height="16.9" fill="#124a80"/>
<text transform="translate(382.8,252.4) rotate(45)" font-size="7.8" fill="#222" text-anchor="end">HMBS</text>
<line x1="406.20" y1="309.6" x2="406.20" y2="314.6" stroke="#2a2a2a" stroke-width="1.0"/>
<line x1="404.00" y1="314.6" x2="408.40" y2="314.6" stroke="#2a2a2a" stroke-width="1.0"/>
<rect x="404.0" y="257.0" width="4.4" height="52.6" fill="#33b249"/>
<line x1="412.00" y1="279.7" x2="412.00" y2="284.9" stroke="#2a2a2a" stroke-width="1.0"/>
<line x1="409.80" y1="284.9" x2="414.20" y2="284.9" stroke="#2a2a2a" stroke-width="1.0"/>
<rect x="409.8" y="257.0" width="4.4" height="22.7" fill="#c8102e"/>
<line x1="417.80" y1="271.4" x2="417.80" y2="289.8" stroke="#2a2a2a" stroke-width="1.0"/>
<line x1="415.60" y1="289.8" x2="420.00" y2="289.8" stroke="#2a2a2a" stroke-width="1.0"/>
<rect x="415.6" y="257.0" width="4.4" height="14.4" fill="#124a80"/>
<text transform="translate(412.9,252.4) rotate(45)" font-size="7.8" fill="#222" text-anchor="end">EPB42</text>
<line x1="434.30" y1="282.0" x2="434.30" y2="297.5" stroke="#2a2a2a" stroke-width="1.0"/>
<line x1="432.10" y1="297.5" x2="436.50" y2="297.5" stroke="#2a2a2a" stroke-width="1.0"/>
<rect x="432.1" y="257.0" width="4.4" height="25.0" fill="#33b249"/>
<line x1="440.10" y1="269.6" x2="440.10" y2="276.8" stroke="#2a2a2a" stroke-width="1.0"/>
<line x1="437.90" y1="276.8" x2="442.30" y2="276.8" stroke="#2a2a2a" stroke-width="1.0"/>
<rect x="437.9" y="257.0" width="4.4" height="12.6" fill="#c8102e"/>
<line x1="446.00" y1="271.0" x2="446.00" y2="289.8" stroke="#2a2a2a" stroke-width="1.0"/>
<line x1="443.80" y1="289.8" x2="448.20" y2="289.8" stroke="#2a2a2a" stroke-width="1.0"/>
<rect x="443.8" y="257.0" width="4.4" height="14.0" fill="#124a80"/>
<text transform="translate(439.5,252.4) rotate(45)" font-size="7.8" fill="#222" text-anchor="end">KLF1</text>
<line x1="463.20" y1="279.1" x2="463.20" y2="294.4" stroke="#2a2a2a" stroke-width="1.0"/>
<line x1="461.00" y1="294.4" x2="465.40" y2="294.4" stroke="#2a2a2a" stroke-width="1.0"/>
<rect x="461.0" y="257.0" width="4.4" height="22.1" fill="#33b249"/>
<line x1="469.00" y1="292.3" x2="469.00" y2="307.6" stroke="#2a2a2a" stroke-width="1.0"/>
<line x1="466.80" y1="307.6" x2="471.20" y2="307.6" stroke="#2a2a2a" stroke-width="1.0"/>
<rect x="466.8" y="257.0" width="4.4" height="35.3" fill="#c8102e"/>
<line x1="474.80" y1="285.8" x2="474.80" y2="304.2" stroke="#2a2a2a" stroke-width="1.0"/>
<line x1="472.60" y1="304.2" x2="477.00" y2="304.2" stroke="#2a2a2a" stroke-width="1.0"/>
<rect x="472.6" y="257.0" width="4.4" height="28.8" fill="#124a80"/>
<text transform="translate(463.4,252.4) rotate(45)" font-size="7.8" fill="#222" text-anchor="end">HBB</text>
<line x1="491.70" y1="284.9" x2="491.70" y2="292.6" stroke="#2a2a2a" stroke-width="1.0"/>
<line x1="489.50" y1="292.6" x2="493.90" y2="292.6" stroke="#2a2a2a" stroke-width="1.0"/>
<rect x="489.5" y="257.0" width="4.4" height="27.9" fill="#33b249"/>
<line x1="497.50" y1="301.8" x2="497.50" y2="310.6" stroke="#2a2a2a" stroke-width="1.0"/>
<line x1="495.30" y1="310.6" x2="499.70" y2="310.6" stroke="#2a2a2a" stroke-width="1.0"/>
<rect x="495.3" y="257.0" width="4.4" height="44.8" fill="#c8102e"/>
<line x1="503.30" y1="269.6" x2="503.30" y2="287.6" stroke="#2a2a2a" stroke-width="1.0"/>
<line x1="501.10" y1="287.6" x2="505.50" y2="287.6" stroke="#2a2a2a" stroke-width="1.0"/>
<rect x="501.1" y="257.0" width="4.4" height="12.6" fill="#124a80"/>
<text transform="translate(496.9,252.4) rotate(45)" font-size="7.8" fill="#222" text-anchor="end">HEMGN</text>
<line x1="305.8" y1="256.9" x2="512.6" y2="256.9" stroke="#3a3a3a" stroke-width="1.5"/>
<line x1="309.1" y1="256.2" x2="309.1" y2="333.5" stroke="#3a3a3a" stroke-width="1.5"/>
<line x1="306.1" y1="257.5" x2="309" y2="257.5" stroke="#222" stroke-width="1"/>
<text x="303.00" y="259.30" font-size="7.9" fill="#222" text-anchor="end">0</text>
<line x1="306.1" y1="275.5" x2="309" y2="275.5" stroke="#222" stroke-width="1"/>
<text x="303.00" y="277.30" font-size="7.9" fill="#222" text-anchor="end">&#8722;1</text>
<line x1="306.1" y1="293.5" x2="309" y2="293.5" stroke="#222" stroke-width="1"/>
<text x="303.00" y="295.30" font-size="7.9" fill="#222" text-anchor="end">&#8722;2</text>
<line x1="306.1" y1="311.5" x2="309" y2="311.5" stroke="#222" stroke-width="1"/>
<text x="303.00" y="313.30" font-size="7.9" fill="#222" text-anchor="end">&#8722;3</text>
<line x1="306.1" y1="329.5" x2="309" y2="329.5" stroke="#222" stroke-width="1"/>
<text x="303.00" y="331.30" font-size="7.9" fill="#222" text-anchor="end">&#8722;4</text>
<text transform="translate(289.3,306.2) rotate(-90)" font-size="7.8" fill="#222" textLength="26.8" lengthAdjust="spacingAndGlyphs">log2 FC</text>
<rect x="339.0" y="325.4" width="6.4" height="6.4" fill="#33b249"/>
<text x="348.50" y="331.40" font-size="7.6" fill="#222" textLength="23.50" lengthAdjust="spacingAndGlyphs">Day 10</text>
<rect x="388.8" y="325.4" width="6.4" height="6.4" fill="#c8102e"/>
<text x="398.30" y="331.40" font-size="7.6" fill="#222" textLength="23.50" lengthAdjust="spacingAndGlyphs">Day 12</text>
<rect x="438.2" y="325.4" width="6.4" height="6.4" fill="#124a80"/>
<text x="447.70" y="331.40" font-size="7.6" fill="#222" textLength="23.50" lengthAdjust="spacingAndGlyphs">Day 14</text>
<ellipse cx="24.4" cy="365.7" rx="4.1" ry="2.85" fill="#f4fbf4" stroke="#3cb44a" stroke-width="1.05"/>
<ellipse cx="24.4" cy="365.7" rx="1.95" ry="1.1" fill="none" stroke="#3cb44a" stroke-width="0.85"/>
<circle cx="24.4" cy="365.7" r="0.45" fill="#3cb44a"/>
<ellipse cx="34.3" cy="365.7" rx="4.1" ry="2.85" fill="#f4fbf4" stroke="#3cb44a" stroke-width="1.05"/>
<ellipse cx="34.3" cy="365.7" rx="1.95" ry="1.1" fill="none" stroke="#3cb44a" stroke-width="0.85"/>
<circle cx="34.3" cy="365.7" r="0.45" fill="#3cb44a"/>
<ellipse cx="17.9" cy="371.4" rx="4.1" ry="2.85" fill="#f4fbf4" stroke="#3cb44a" stroke-width="1.05"/>
<ellipse cx="17.9" cy="371.4" rx="1.95" ry="1.1" fill="none" stroke="#3cb44a" stroke-width="0.85"/>
<circle cx="17.9" cy="371.4" r="0.45" fill="#3cb44a"/>
<ellipse cx="29.5" cy="371.7" rx="4.1" ry="2.85" fill="#f4fbf4" stroke="#3cb44a" stroke-width="1.05"/>
<ellipse cx="29.5" cy="371.7" rx="1.95" ry="1.1" fill="none" stroke="#3cb44a" stroke-width="0.85"/>
<circle cx="29.5" cy="371.7" r="0.45" fill="#3cb44a"/>
<ellipse cx="40.8" cy="371.8" rx="4.1" ry="2.85" fill="#f4fbf4" stroke="#3cb44a" stroke-width="1.05"/>
<ellipse cx="40.8" cy="371.8" rx="1.95" ry="1.1" fill="none" stroke="#3cb44a" stroke-width="0.85"/>
<circle cx="40.8" cy="371.8" r="0.45" fill="#3cb44a"/>
<ellipse cx="13.0" cy="378.0" rx="4.1" ry="2.85" fill="#f4fbf4" stroke="#3cb44a" stroke-width="1.05"/>
<ellipse cx="13.0" cy="378.0" rx="1.95" ry="1.1" fill="none" stroke="#3cb44a" stroke-width="0.85"/>
<circle cx="13.0" cy="378.0" r="0.45" fill="#3cb44a"/>
<ellipse cx="23.2" cy="378.0" rx="4.1" ry="2.85" fill="#f4fbf4" stroke="#3cb44a" stroke-width="1.05"/>
<ellipse cx="23.2" cy="378.0" rx="1.95" ry="1.1" fill="none" stroke="#3cb44a" stroke-width="0.85"/>
<circle cx="23.2" cy="378.0" r="0.45" fill="#3cb44a"/>
<ellipse cx="34.7" cy="378.3" rx="4.1" ry="2.85" fill="#f4fbf4" stroke="#3cb44a" stroke-width="1.05"/>
<ellipse cx="34.7" cy="378.3" rx="1.95" ry="1.1" fill="none" stroke="#3cb44a" stroke-width="0.85"/>
<circle cx="34.7" cy="378.3" r="0.45" fill="#3cb44a"/>
<ellipse cx="44.9" cy="378.6" rx="4.1" ry="2.85" fill="#f4fbf4" stroke="#3cb44a" stroke-width="1.05"/>
<ellipse cx="44.9" cy="378.6" rx="1.95" ry="1.1" fill="none" stroke="#3cb44a" stroke-width="0.85"/>
<circle cx="44.9" cy="378.6" r="0.45" fill="#3cb44a"/>
<ellipse cx="20.2" cy="385.4" rx="4.1" ry="2.85" fill="#f4fbf4" stroke="#3cb44a" stroke-width="1.05"/>
<ellipse cx="20.2" cy="385.4" rx="1.95" ry="1.1" fill="none" stroke="#3cb44a" stroke-width="0.85"/>
<circle cx="20.2" cy="385.4" r="0.45" fill="#3cb44a"/>
<ellipse cx="29.7" cy="385.7" rx="4.1" ry="2.85" fill="#f4fbf4" stroke="#3cb44a" stroke-width="1.05"/>
<ellipse cx="29.7" cy="385.7" rx="1.95" ry="1.1" fill="none" stroke="#3cb44a" stroke-width="0.85"/>
<circle cx="29.7" cy="385.7" r="0.45" fill="#3cb44a"/>
<ellipse cx="41.0" cy="385.7" rx="4.1" ry="2.85" fill="#f4fbf4" stroke="#3cb44a" stroke-width="1.05"/>
<ellipse cx="41.0" cy="385.7" rx="1.95" ry="1.1" fill="none" stroke="#3cb44a" stroke-width="0.85"/>
<circle cx="41.0" cy="385.7" r="0.45" fill="#3cb44a"/>
<ellipse cx="162.6" cy="365.4" rx="4.1" ry="2.85" fill="#f2f5fa" stroke="#1f5a99" stroke-width="1.05"/>
<ellipse cx="162.6" cy="365.4" rx="1.95" ry="1.1" fill="none" stroke="#1f5a99" stroke-width="0.85"/>
<circle cx="162.6" cy="365.4" r="0.45" fill="#1f5a99"/>
<ellipse cx="172.5" cy="365.4" rx="4.1" ry="2.85" fill="#f2f5fa" stroke="#1f5a99" stroke-width="1.05"/>
<ellipse cx="172.5" cy="365.4" rx="1.95" ry="1.1" fill="none" stroke="#1f5a99" stroke-width="0.85"/>
<circle cx="172.5" cy="365.4" r="0.45" fill="#1f5a99"/>
<ellipse cx="156.1" cy="371.1" rx="4.1" ry="2.85" fill="#f2f5fa" stroke="#1f5a99" stroke-width="1.05"/>
<ellipse cx="156.1" cy="371.1" rx="1.95" ry="1.1" fill="none" stroke="#1f5a99" stroke-width="0.85"/>
<circle cx="156.1" cy="371.1" r="0.45" fill="#1f5a99"/>
<ellipse cx="167.7" cy="371.4" rx="4.1" ry="2.85" fill="#f2f5fa" stroke="#1f5a99" stroke-width="1.05"/>
<ellipse cx="167.7" cy="371.4" rx="1.95" ry="1.1" fill="none" stroke="#1f5a99" stroke-width="0.85"/>
<circle cx="167.7" cy="371.4" r="0.45" fill="#1f5a99"/>
<ellipse cx="179.0" cy="371.5" rx="4.1" ry="2.85" fill="#f2f5fa" stroke="#1f5a99" stroke-width="1.05"/>
<ellipse cx="179.0" cy="371.5" rx="1.95" ry="1.1" fill="none" stroke="#1f5a99" stroke-width="0.85"/>
<circle cx="179.0" cy="371.5" r="0.45" fill="#1f5a99"/>
<ellipse cx="151.2" cy="377.7" rx="4.1" ry="2.85" fill="#f2f5fa" stroke="#1f5a99" stroke-width="1.05"/>
<ellipse cx="151.2" cy="377.7" rx="1.95" ry="1.1" fill="none" stroke="#1f5a99" stroke-width="0.85"/>
<circle cx="151.2" cy="377.7" r="0.45" fill="#1f5a99"/>
<ellipse cx="161.4" cy="377.7" rx="4.1" ry="2.85" fill="#f2f5fa" stroke="#1f5a99" stroke-width="1.05"/>
<ellipse cx="161.4" cy="377.7" rx="1.95" ry="1.1" fill="none" stroke="#1f5a99" stroke-width="0.85"/>
<circle cx="161.4" cy="377.7" r="0.45" fill="#1f5a99"/>
<ellipse cx="172.9" cy="378.0" rx="4.1" ry="2.85" fill="#f2f5fa" stroke="#1f5a99" stroke-width="1.05"/>
<ellipse cx="172.9" cy="378.0" rx="1.95" ry="1.1" fill="none" stroke="#1f5a99" stroke-width="0.85"/>
<circle cx="172.9" cy="378.0" r="0.45" fill="#1f5a99"/>
<ellipse cx="183.1" cy="378.3" rx="4.1" ry="2.85" fill="#f2f5fa" stroke="#1f5a99" stroke-width="1.05"/>
<ellipse cx="183.1" cy="378.3" rx="1.95" ry="1.1" fill="none" stroke="#1f5a99" stroke-width="0.85"/>
<circle cx="183.1" cy="378.3" r="0.45" fill="#1f5a99"/>
<ellipse cx="158.4" cy="385.1" rx="4.1" ry="2.85" fill="#f2f5fa" stroke="#1f5a99" stroke-width="1.05"/>
<ellipse cx="158.4" cy="385.1" rx="1.95" ry="1.1" fill="none" stroke="#1f5a99" stroke-width="0.85"/>
<circle cx="158.4" cy="385.1" r="0.45" fill="#1f5a99"/>
<ellipse cx="167.9" cy="385.4" rx="4.1" ry="2.85" fill="#f2f5fa" stroke="#1f5a99" stroke-width="1.05"/>
<ellipse cx="167.9" cy="385.4" rx="1.95" ry="1.1" fill="none" stroke="#1f5a99" stroke-width="0.85"/>
<circle cx="167.9" cy="385.4" r="0.45" fill="#1f5a99"/>
<ellipse cx="179.2" cy="385.4" rx="4.1" ry="2.85" fill="#f2f5fa" stroke="#1f5a99" stroke-width="1.05"/>
<ellipse cx="179.2" cy="385.4" rx="1.95" ry="1.1" fill="none" stroke="#1f5a99" stroke-width="0.85"/>
<circle cx="179.2" cy="385.4" r="0.45" fill="#1f5a99"/>
<ellipse cx="302.6" cy="365.4" rx="4.1" ry="2.85" fill="#f2f5fa" stroke="#1f5a99" stroke-width="1.05"/>
<ellipse cx="302.6" cy="365.4" rx="1.95" ry="1.1" fill="none" stroke="#1f5a99" stroke-width="0.85"/>
<circle cx="302.6" cy="365.4" r="0.45" fill="#1f5a99"/>
<ellipse cx="312.5" cy="365.4" rx="4.1" ry="2.85" fill="#f2f5fa" stroke="#1f5a99" stroke-width="1.05"/>
<ellipse cx="312.5" cy="365.4" rx="1.95" ry="1.1" fill="none" stroke="#1f5a99" stroke-width="0.85"/>
<circle cx="312.5" cy="365.4" r="0.45" fill="#1f5a99"/>
<ellipse cx="296.1" cy="371.1" rx="4.1" ry="2.85" fill="#f2f5fa" stroke="#1f5a99" stroke-width="1.05"/>
<ellipse cx="296.1" cy="371.1" rx="1.95" ry="1.1" fill="none" stroke="#1f5a99" stroke-width="0.85"/>
<circle cx="296.1" cy="371.1" r="0.45" fill="#1f5a99"/>
<ellipse cx="307.7" cy="371.4" rx="4.1" ry="2.85" fill="#f2f5fa" stroke="#1f5a99" stroke-width="1.05"/>
<ellipse cx="307.7" cy="371.4" rx="1.95" ry="1.1" fill="none" stroke="#1f5a99" stroke-width="0.85"/>
<circle cx="307.7" cy="371.4" r="0.45" fill="#1f5a99"/>
<ellipse cx="319.0" cy="371.5" rx="4.1" ry="2.85" fill="#f2f5fa" stroke="#1f5a99" stroke-width="1.05"/>
<ellipse cx="319.0" cy="371.5" rx="1.95" ry="1.1" fill="none" stroke="#1f5a99" stroke-width="0.85"/>
<circle cx="319.0" cy="371.5" r="0.45" fill="#1f5a99"/>
<ellipse cx="291.2" cy="377.7" rx="4.1" ry="2.85" fill="#f2f5fa" stroke="#1f5a99" stroke-width="1.05"/>
<ellipse cx="291.2" cy="377.7" rx="1.95" ry="1.1" fill="none" stroke="#1f5a99" stroke-width="0.85"/>
<circle cx="291.2" cy="377.7" r="0.45" fill="#1f5a99"/>
<ellipse cx="301.4" cy="377.7" rx="4.1" ry="2.85" fill="#f2f5fa" stroke="#1f5a99" stroke-width="1.05"/>
<ellipse cx="301.4" cy="377.7" rx="1.95" ry="1.1" fill="none" stroke="#1f5a99" stroke-width="0.85"/>
<circle cx="301.4" cy="377.7" r="0.45" fill="#1f5a99"/>
<ellipse cx="312.9" cy="378.0" rx="4.1" ry="2.85" fill="#f2f5fa" stroke="#1f5a99" stroke-width="1.05"/>
<ellipse cx="312.9" cy="378.0" rx="1.95" ry="1.1" fill="none" stroke="#1f5a99" stroke-width="0.85"/>
<circle cx="312.9" cy="378.0" r="0.45" fill="#1f5a99"/>
<ellipse cx="323.1" cy="378.3" rx="4.1" ry="2.85" fill="#f2f5fa" stroke="#1f5a99" stroke-width="1.05"/>
<ellipse cx="323.1" cy="378.3" rx="1.95" ry="1.1" fill="none" stroke="#1f5a99" stroke-width="0.85"/>
<circle cx="323.1" cy="378.3" r="0.45" fill="#1f5a99"/>
<ellipse cx="298.4" cy="385.1" rx="4.1" ry="2.85" fill="#f2f5fa" stroke="#1f5a99" stroke-width="1.05"/>
<ellipse cx="298.4" cy="385.1" rx="1.95" ry="1.1" fill="none" stroke="#1f5a99" stroke-width="0.85"/>
<circle cx="298.4" cy="385.1" r="0.45" fill="#1f5a99"/>
<ellipse cx="307.9" cy="385.4" rx="4.1" ry="2.85" fill="#f2f5fa" stroke="#1f5a99" stroke-width="1.05"/>
<ellipse cx="307.9" cy="385.4" rx="1.95" ry="1.1" fill="none" stroke="#1f5a99" stroke-width="0.85"/>
<circle cx="307.9" cy="385.4" r="0.45" fill="#1f5a99"/>
<ellipse cx="319.2" cy="385.4" rx="4.1" ry="2.85" fill="#f2f5fa" stroke="#1f5a99" stroke-width="1.05"/>
<ellipse cx="319.2" cy="385.4" rx="1.95" ry="1.1" fill="none" stroke="#1f5a99" stroke-width="0.85"/>
<circle cx="319.2" cy="385.4" r="0.45" fill="#1f5a99"/>
<ellipse cx="487.1" cy="366.0" rx="4.0" ry="3.0" fill="#22609f" stroke="#d0103a" stroke-width="1.6"/>
<ellipse cx="487.1" cy="366.0" rx="1.8" ry="1.3" fill="none" stroke="#9dbde0" stroke-width="0.7"/>
<ellipse cx="497.5" cy="366.0" rx="4.0" ry="3.0" fill="#22609f" stroke="#d0103a" stroke-width="1.6"/>
<ellipse cx="497.5" cy="366.0" rx="1.8" ry="1.3" fill="none" stroke="#9dbde0" stroke-width="0.7"/>
<ellipse cx="480.5" cy="371.4" rx="4.0" ry="3.0" fill="#22609f" stroke="#d0103a" stroke-width="1.6"/>
<ellipse cx="480.5" cy="371.4" rx="1.8" ry="1.3" fill="none" stroke="#9dbde0" stroke-width="0.7"/>
<ellipse cx="492.5" cy="372.0" rx="4.0" ry="3.0" fill="#22609f" stroke="#d0103a" stroke-width="1.6"/>
<ellipse cx="492.5" cy="372.0" rx="1.8" ry="1.3" fill="none" stroke="#9dbde0" stroke-width="0.7"/>
<ellipse cx="503.6" cy="372.1" rx="4.0" ry="3.0" fill="#22609f" stroke="#d0103a" stroke-width="1.6"/>
<ellipse cx="503.6" cy="372.1" rx="1.8" ry="1.3" fill="none" stroke="#9dbde0" stroke-width="0.7"/>
<ellipse cx="475.9" cy="377.8" rx="4.0" ry="3.0" fill="#22609f" stroke="#d0103a" stroke-width="1.6"/>
<ellipse cx="475.9" cy="377.8" rx="1.8" ry="1.3" fill="none" stroke="#9dbde0" stroke-width="0.7"/>
<ellipse cx="486.8" cy="377.8" rx="4.0" ry="3.0" fill="#22609f" stroke="#d0103a" stroke-width="1.6"/>
<ellipse cx="486.8" cy="377.8" rx="1.8" ry="1.3" fill="none" stroke="#9dbde0" stroke-width="0.7"/>
<ellipse cx="497.5" cy="378.1" rx="4.0" ry="3.0" fill="#22609f" stroke="#d0103a" stroke-width="1.6"/>
<ellipse cx="497.5" cy="378.1" rx="1.8" ry="1.3" fill="none" stroke="#9dbde0" stroke-width="0.7"/>
<ellipse cx="507.7" cy="378.3" rx="4.0" ry="3.0" fill="#22609f" stroke="#d0103a" stroke-width="1.6"/>
<ellipse cx="507.7" cy="378.3" rx="1.8" ry="1.3" fill="none" stroke="#9dbde0" stroke-width="0.7"/>
<ellipse cx="483.7" cy="384.8" rx="4.0" ry="3.0" fill="#22609f" stroke="#d0103a" stroke-width="1.6"/>
<ellipse cx="483.7" cy="384.8" rx="1.8" ry="1.3" fill="none" stroke="#9dbde0" stroke-width="0.7"/>
<ellipse cx="492.7" cy="385.0" rx="4.0" ry="3.0" fill="#22609f" stroke="#d0103a" stroke-width="1.6"/>
<ellipse cx="492.7" cy="385.0" rx="1.8" ry="1.3" fill="none" stroke="#9dbde0" stroke-width="0.7"/>
<ellipse cx="503.8" cy="385.0" rx="4.0" ry="3.0" fill="#22609f" stroke="#d0103a" stroke-width="1.6"/>
<ellipse cx="503.8" cy="385.0" rx="1.8" ry="1.3" fill="none" stroke="#9dbde0" stroke-width="0.7"/>
<line x1="50.8" y1="375.5" x2="139.7" y2="375.5" stroke="#25588f" stroke-width="1.0"/>
<path d="M143.2 375.5 L139.2 373.3 L139.79999999999998 375.5 L139.2 377.7 Z" fill="#25588f"/>
<line x1="190.4" y1="375.5" x2="280.3" y2="375.5" stroke="#25588f" stroke-width="1.0"/>
<path d="M283.8 375.5 L279.8 373.3 L280.40000000000003 375.5 L279.8 377.7 Z" fill="#25588f"/>
<line x1="332.5" y1="375.5" x2="462.8" y2="375.5" stroke="#25588f" stroke-width="1.0"/>
<path d="M466.3 375.5 L462.3 373.3 L462.90000000000003 375.5 L462.3 377.7 Z" fill="#25588f"/>
<text x="54.40" y="360.60" font-size="8.54" fill="#222" stroke="#222" stroke-width="0.1" textLength="86.00" lengthAdjust="spacingAndGlyphs">Lentivirus transduction</text>
<text x="59.20" y="370.20" font-size="8.57" fill="#222" stroke="#222" stroke-width="0.1" textLength="76.40" lengthAdjust="spacingAndGlyphs">puromycin selection</text>
<text x="197.80" y="370.30" font-size="8.45" fill="#222" stroke="#222" stroke-width="0.1" textLength="79.30" lengthAdjust="spacingAndGlyphs">Expansion for 7 days</text>
<text x="352.00" y="370.60" font-size="8.67" fill="#222" stroke="#222" stroke-width="0.1" textLength="95.00" lengthAdjust="spacingAndGlyphs">Differentiation for 7 days</text>
<ellipse cx="75.2" cy="459.5" rx="38.5" ry="35.8" fill="rgb(70,118,160)" fill-opacity="0.5" stroke="rgb(70,118,160)" stroke-opacity="0.35" stroke-width="1"/>
<ellipse cx="110.4" cy="459.9" rx="38.7" ry="35.7" fill="rgb(209,69,89)" fill-opacity="0.5" stroke="rgb(209,69,89)" stroke-opacity="0.35" stroke-width="1"/>
<ellipse cx="92.6" cy="490.3" rx="38.6" ry="35.4" fill="rgb(100,200,115)" fill-opacity="0.5" stroke="rgb(80,180,100)" stroke-opacity="0.5" stroke-width="1"/>
<text x="44.00" y="421.30" font-size="8.4" fill="#222" stroke="#222" stroke-width="0.1" textLength="22.40" lengthAdjust="spacingAndGlyphs">Day 3</text>
<text x="115.90" y="421.90" font-size="8.4" fill="#222" stroke="#222" stroke-width="0.1" textLength="23.00" lengthAdjust="spacingAndGlyphs">Day 5</text>
<text x="80.50" y="537.30" font-size="8.4" fill="#222" stroke="#222" stroke-width="0.1" textLength="22.40" lengthAdjust="spacingAndGlyphs">Day 7</text>
<text x="46.30" y="454.20" font-size="8.4" fill="#1a1a1a" stroke="#1a1a1a" stroke-width="0.15" textLength="18.40" lengthAdjust="spacingAndGlyphs">1070</text>
<text x="85.80" y="448.00" font-size="8.4" fill="#1a1a1a" stroke="#1a1a1a" stroke-width="0.15" textLength="14.60" lengthAdjust="spacingAndGlyphs">530</text>
<text x="121.80" y="454.20" font-size="8.4" fill="#1a1a1a" stroke="#1a1a1a" stroke-width="0.15" textLength="14.00" lengthAdjust="spacingAndGlyphs">614</text>
<text x="83.30" y="472.00" font-size="8.4" fill="#1a1a1a" stroke="#1a1a1a" stroke-width="0.15" textLength="19.30" lengthAdjust="spacingAndGlyphs">1871</text>
<text x="61.10" y="488.60" font-size="8.4" fill="#1a1a1a" stroke="#1a1a1a" stroke-width="0.15" textLength="14.70" lengthAdjust="spacingAndGlyphs">639</text>
<text x="106.70" y="488.60" font-size="8.4" fill="#1a1a1a" stroke="#1a1a1a" stroke-width="0.15" textLength="14.70" lengthAdjust="spacingAndGlyphs">687</text>
<text x="82.10" y="510.50" font-size="8.4" fill="#1a1a1a" stroke="#1a1a1a" stroke-width="0.15" textLength="19.30" lengthAdjust="spacingAndGlyphs">1188</text>
<rect x="352.7" y="416.6" width="4.2" height="4.4" fill="#10487f"/>
<text x="360.00" y="421.50" font-size="7.74" fill="#222" stroke="#222" stroke-width="0.1" textLength="52.30" lengthAdjust="spacingAndGlyphs">Downregulated</text>
<text x="348.10" y="437.40" font-size="7.86" fill="#1a1a1a" stroke="#1a1a1a" stroke-width="0.1" textLength="86.80" lengthAdjust="spacingAndGlyphs">Erythrocyte homeostasis</text>
<text x="341.60" y="449.20" font-size="8.1" fill="#1a1a1a" stroke="#1a1a1a" stroke-width="0.1" textLength="93.30" lengthAdjust="spacingAndGlyphs">Erythrocyte differentiation</text>
<text x="344.20" y="460.50" font-size="8.08" fill="#1a1a1a" stroke="#1a1a1a" stroke-width="0.1" textLength="90.70" lengthAdjust="spacingAndGlyphs">Erythrocyte development</text>
<text x="352.40" y="472.20" font-size="8.08" fill="#1a1a1a" stroke="#1a1a1a" stroke-width="0.1" textLength="82.50" lengthAdjust="spacingAndGlyphs">Leukocyte proliferation</text>
<text x="372.00" y="483.90" font-size="7.89" fill="#1a1a1a" stroke="#1a1a1a" stroke-width="0.1" textLength="62.90" lengthAdjust="spacingAndGlyphs">Cell-cell adhesion</text>
<text x="279.50" y="495.40" font-size="8.04" fill="#1a1a1a" stroke="#1a1a1a" stroke-width="0.1" textLength="155.40" lengthAdjust="spacingAndGlyphs">Regulation of leukocyte mediated immunity</text>
<text x="345.50" y="506.80" font-size="7.86" fill="#1a1a1a" stroke="#1a1a1a" stroke-width="0.1" textLength="89.40" lengthAdjust="spacingAndGlyphs">ATP biosynthetic process</text>
<text x="361.20" y="518.50" font-size="7.87" fill="#1a1a1a" stroke="#1a1a1a" stroke-width="0.1" textLength="73.70" lengthAdjust="spacingAndGlyphs">Cellular homeostasis</text>
<rect x="438.6" y="433.6" width="10.2" height="3.8" fill="#10487f"/>
<rect x="438.6" y="445.3" width="10.2" height="3.8" fill="#10487f"/>
<rect x="438.6" y="456.7" width="10.2" height="3.8" fill="#10487f"/>
<rect x="438.6" y="468.4" width="10.8" height="3.8" fill="#10487f"/>
<rect x="438.6" y="480.1" width="13.3" height="3.8" fill="#10487f"/>
<rect x="438.6" y="491.7" width="14.0" height="3.8" fill="#10487f"/>
<rect x="438.6" y="503.0" width="12.0" height="3.8" fill="#10487f"/>
<rect x="438.6" y="514.7" width="16.0" height="3.8" fill="#10487f"/>
<line x1="438.6" y1="429.5" x2="438.6" y2="523" stroke="#111" stroke-width="1"/>
<line x1="438.1" y1="522.4" x2="477.0" y2="522.4" stroke="#111" stroke-width="1"/>
<line x1="438.6" y1="522.4" x2="438.6" y2="524.8" stroke="#111" stroke-width="1"/>
<text x="438.60" y="534.80" font-size="7.3" fill="#222" text-anchor="middle">0</text>
<line x1="473.0" y1="522.4" x2="473.0" y2="524.8" stroke="#111" stroke-width="1"/>
<text x="473.00" y="534.80" font-size="7.3" fill="#222" text-anchor="middle">5</text>
<text x="430.50" y="545.50" font-size="8.6" fill="#222" stroke="#222" stroke-width="0.15" textLength="54.60" lengthAdjust="spacingAndGlyphs">&#8211;log10 (P-value)</text>
<line x1="31.3" y1="559.6" x2="279.1" y2="559.6" stroke="#444" stroke-width="1.5"/>
<line x1="31.3" y1="600.7" x2="279.1" y2="600.7" stroke="#555" stroke-width="0.9"/>
<line x1="31.3" y1="690.4" x2="279.1" y2="690.4" stroke="#444" stroke-width="1.5"/>
<text x="45.40" y="571.50" font-size="9.34" fill="#111" stroke="#111" stroke-width="0.1" textLength="26.20" lengthAdjust="spacingAndGlyphs" font-weight="bold">Heme</text>
<text x="38.10" y="582.70" font-size="9.09" fill="#111" stroke="#111" stroke-width="0.1" textLength="40.80" lengthAdjust="spacingAndGlyphs" font-weight="bold">synthetic</text>
<text x="39.40" y="592.70" font-size="9.02" fill="#111" stroke="#111" stroke-width="0.1" textLength="38.90" lengthAdjust="spacingAndGlyphs" font-weight="bold">enzymes</text>
<text x="102.10" y="571.30" font-size="9.11" fill="#111" stroke="#111" stroke-width="0.1" textLength="51.80" lengthAdjust="spacingAndGlyphs" font-weight="bold">Erythrocyte</text>
<text x="104.00" y="582.90" font-size="9.22" fill="#111" stroke="#111" stroke-width="0.1" textLength="47.90" lengthAdjust="spacingAndGlyphs" font-weight="bold">membrane</text>
<text x="109.40" y="592.90" font-size="9.21" fill="#111" stroke="#111" stroke-width="0.1" textLength="37.30" lengthAdjust="spacingAndGlyphs" font-weight="bold">proteins</text>
<text x="175.30" y="571.60" font-size="9.15" fill="#111" stroke="#111" stroke-width="0.1" textLength="41.70" lengthAdjust="spacingAndGlyphs" font-weight="bold">Erythroid</text>
<text x="180.40" y="582.90" font-size="9.28" fill="#111" stroke="#111" stroke-width="0.1" textLength="31.30" lengthAdjust="spacingAndGlyphs" font-weight="bold">master</text>
<text x="173.00" y="593.00" font-size="9.11" fill="#111" stroke="#111" stroke-width="0.1" textLength="45.60" lengthAdjust="spacingAndGlyphs" font-weight="bold">regulators</text>
<text x="238.10" y="571.60" font-size="9.15" fill="#111" stroke="#111" stroke-width="0.1" textLength="29.70" lengthAdjust="spacingAndGlyphs" font-weight="bold">Globin</text>
<text x="239.30" y="582.90" font-size="9.2" fill="#111" stroke="#111" stroke-width="0.1" textLength="27.30" lengthAdjust="spacingAndGlyphs" font-weight="bold">genes</text>
<text x="58.60" y="610.90" font-size="8.2" fill="#222" stroke="#222" stroke-width="0.1" text-anchor="middle">CPOX</text>
<text x="58.60" y="623.10" font-size="8.2" fill="#222" stroke="#222" stroke-width="0.1" text-anchor="middle">ALAS2</text>
<text x="58.60" y="635.30" font-size="8.2" fill="#222" stroke="#222" stroke-width="0.1" text-anchor="middle">HMBS</text>
<text x="58.60" y="647.50" font-size="8.2" fill="#222" stroke="#222" stroke-width="0.1" text-anchor="middle">FECH</text>
<text x="58.60" y="659.70" font-size="8.2" fill="#222" stroke="#222" stroke-width="0.1" text-anchor="middle">UPOS</text>
<text x="58.60" y="671.90" font-size="8.2" fill="#222" stroke="#222" stroke-width="0.1" text-anchor="middle">SLC25A37</text>
<text x="58.60" y="684.10" font-size="8.2" fill="#222" stroke="#222" stroke-width="0.1" text-anchor="middle">ABCB10</text>
<text x="127.90" y="610.90" font-size="8.2" fill="#222" stroke="#222" stroke-width="0.1" text-anchor="middle">SLC4A1</text>
<text x="127.90" y="623.10" font-size="8.2" fill="#222" stroke="#222" stroke-width="0.1" text-anchor="middle">GYPA</text>
<text x="127.90" y="635.30" font-size="8.2" fill="#222" stroke="#222" stroke-width="0.1" text-anchor="middle">EPOR</text>
<text x="127.90" y="647.50" font-size="8.2" fill="#222" stroke="#222" stroke-width="0.1" text-anchor="middle">TFRC</text>
<text x="127.90" y="659.70" font-size="8.2" fill="#222" stroke="#222" stroke-width="0.1" text-anchor="middle">EPB42</text>
<text x="127.90" y="671.90" font-size="8.2" fill="#222" stroke="#222" stroke-width="0.1" text-anchor="middle">GYPC</text>
<text x="196.00" y="610.90" font-size="8.2" fill="#222" stroke="#222" stroke-width="0.1" text-anchor="middle">TAL1</text>
<text x="196.00" y="623.10" font-size="8.2" fill="#222" stroke="#222" stroke-width="0.1" text-anchor="middle">KLF1</text>
<text x="253.00" y="610.90" font-size="8.2" fill="#222" stroke="#222" stroke-width="0.1" text-anchor="middle">HBB</text>
<text x="253.00" y="623.10" font-size="8.2" fill="#222" stroke="#222" stroke-width="0.1" text-anchor="middle">HBA</text>
<rect x="0.5" y="0.5" width="519" height="696" fill="none" stroke="#000" stroke-width="1"/>
<rect x="1.5" y="1.5" width="517" height="694" fill="none" stroke="#000" stroke-opacity="0.3" stroke-width="1"/></svg></body></html>
